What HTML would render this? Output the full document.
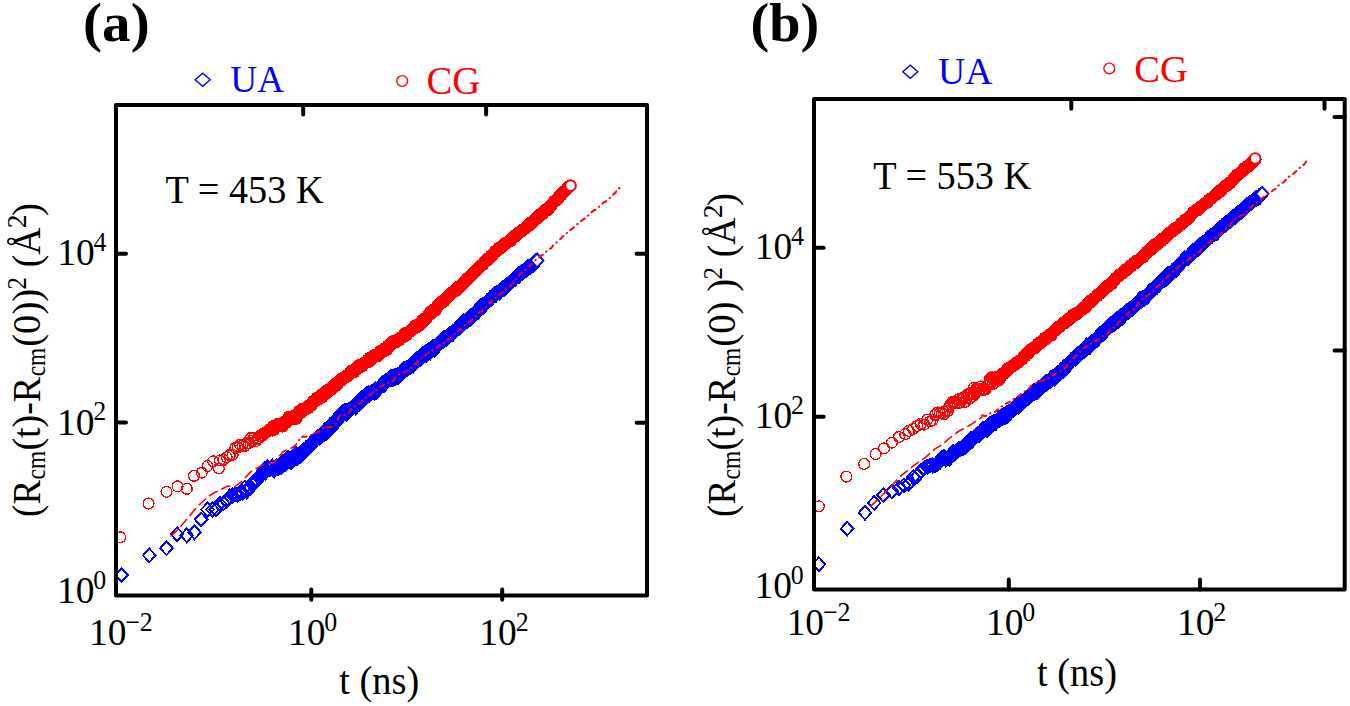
<!DOCTYPE html><html><head><meta charset="utf-8"><style>
html,body{margin:0;padding:0;background:#fff;}
svg{display:block;}
text{font-family:"Liberation Serif", serif;}
</style></head><body>
<svg width="1350" height="706" viewBox="0 0 1350 706">
<rect width="1350" height="706" fill="#fff"/>
<defs><clipPath id="ca"><rect x="116" y="105" width="531" height="490.5"/></clipPath><clipPath id="cb"><rect x="814" y="98.9" width="530.7" height="490.5"/></clipPath></defs>
<g clip-path="url(#ca)">
<path shape-rendering="crispEdges" d="M115.2 575.0L121.5 568.1L127.8 575.0L121.5 581.9ZM143.0 555.4L149.3 548.5L155.6 555.4L149.3 562.3ZM160.2 548.2L166.5 541.3L172.8 548.2L166.5 555.1ZM170.8 534.2L177.1 527.3L183.4 534.2L177.1 541.1ZM180.4 535.4L186.7 528.5L193.0 535.4L186.7 542.3ZM188.2 532.3L194.5 525.4L200.8 532.3L194.5 539.2ZM194.8 519.4L201.1 512.5L207.4 519.4L201.1 526.3ZM201.2 509.5L207.5 502.6L213.8 509.5L207.5 516.4ZM206.2 509.5L212.5 502.6L218.8 509.5L212.5 516.4ZM209.7 509.5L216.0 502.6L222.3 509.5L216.0 516.4ZM213.5 503.8L219.8 496.9L226.1 503.8L219.8 510.7ZM217.1 503.3L223.4 496.4L229.7 503.3L223.4 510.2ZM220.4 500.9L226.7 494.0L233.0 500.9L226.7 507.8ZM223.5 496.4L229.8 489.5L236.1 496.4L229.8 503.3ZM226.4 495.5L232.7 488.6L239.0 495.5L232.7 502.4ZM229.0 494.2L235.3 487.3L241.6 494.2L235.3 501.1ZM231.5 494.7L237.8 487.8L244.1 494.7L237.8 501.6ZM233.9 492.9L240.2 486.0L246.5 492.9L240.2 499.8ZM236.2 492.9L242.5 486.0L248.8 492.9L242.5 499.8ZM238.3 487.8L244.6 480.9L250.9 487.8L244.6 494.7ZM240.3 491.3L246.6 484.4L252.9 491.3L246.6 498.2ZM242.2 487.6L248.5 480.7L254.8 487.6L248.5 494.5ZM244.1 487.7L250.4 480.8L256.7 487.7L250.4 494.6ZM245.8 484.2L252.1 477.3L258.4 484.2L252.1 491.1ZM247.5 481.8L253.8 474.9L260.1 481.8L253.8 488.7ZM249.2 481.6L255.5 474.7L261.8 481.6L255.5 488.5ZM250.7 480.6L257.0 473.7L263.3 480.6L257.0 487.5ZM252.2 476.9L258.5 470.0L264.8 476.9L258.5 483.8ZM253.7 475.4L260.0 468.5L266.3 475.4L260.0 482.3ZM255.1 475.5L261.4 468.6L267.7 475.5L261.4 482.4ZM256.5 471.0L262.8 464.1L269.1 471.0L262.8 477.9ZM257.8 469.3L264.1 462.4L270.4 469.3L264.1 476.2ZM259.0 472.6L265.3 465.7L271.6 472.6L265.3 479.5ZM260.3 470.1L266.6 463.2L272.9 470.1L266.6 477.0ZM261.5 467.2L267.8 460.3L274.1 467.2L267.8 474.1ZM262.6 469.0L268.9 462.1L275.2 469.0L268.9 475.9ZM263.8 469.3L270.1 462.4L276.4 469.3L270.1 476.2ZM264.9 467.5L271.2 460.6L277.5 467.5L271.2 474.4ZM266.0 466.5L272.3 459.6L278.6 466.5L272.3 473.4ZM267.0 469.1L273.3 462.2L279.6 469.1L273.3 476.0ZM268.0 470.5L274.3 463.6L280.6 470.5L274.3 477.4ZM269.0 467.8L275.3 460.9L281.6 467.8L275.3 474.7ZM270.0 466.3L276.3 459.4L282.6 466.3L276.3 473.2ZM271.0 467.9L277.3 461.0L283.6 467.9L277.3 474.8ZM271.9 468.0L278.2 461.1L284.5 468.0L278.2 474.9ZM272.8 465.5L279.1 458.6L285.4 465.5L279.1 472.4ZM273.7 466.6L280.0 459.7L286.3 466.6L280.0 473.5ZM274.6 467.1L280.9 460.2L287.2 467.1L280.9 474.0ZM275.4 464.1L281.7 457.2L288.0 464.1L281.7 471.0ZM276.3 462.4L282.6 455.5L288.9 462.4L282.6 469.3ZM277.1 464.2L283.4 457.3L289.7 464.2L283.4 471.1ZM277.9 463.6L284.2 456.7L290.5 463.6L284.2 470.5ZM278.7 464.7L285.0 457.8L291.3 464.7L285.0 471.6ZM279.5 459.6L285.8 452.7L292.1 459.6L285.8 466.5ZM280.2 460.5L286.5 453.6L292.8 460.5L286.5 467.4ZM281.0 459.7L287.3 452.8L293.6 459.7L287.3 466.6ZM281.7 457.6L288.0 450.7L294.3 457.6L288.0 464.5Z" fill="none" stroke="#0000ff" stroke-width="1.9"/><path shape-rendering="crispEdges" d="M282.4 460.9L288.7 454.0L295.0 460.9L288.7 467.8ZM283.1 461.3L289.4 454.4L295.7 461.3L289.4 468.2ZM283.8 458.5L290.1 451.6L296.4 458.5L290.1 465.4ZM284.5 462.3L290.8 455.4L297.1 462.3L290.8 469.2ZM285.2 460.9L291.5 454.0L297.8 460.9L291.5 467.8ZM285.8 460.1L292.1 453.2L298.4 460.1L292.1 467.0ZM286.5 459.4L292.8 452.5L299.1 459.4L292.8 466.3ZM287.1 460.1L293.4 453.2L299.7 460.1L293.4 467.0ZM287.8 455.4L294.1 448.5L300.4 455.4L294.1 462.3ZM288.4 458.8L294.7 451.9L301.0 458.8L294.7 465.7ZM289.0 458.5L295.3 451.6L301.6 458.5L295.3 465.4ZM289.6 453.6L295.9 446.7L302.2 453.6L295.9 460.5ZM290.2 457.4L296.5 450.5L302.8 457.4L296.5 464.3ZM290.8 456.0L297.1 449.1L303.4 456.0L297.1 462.9ZM291.4 457.7L297.7 450.8L304.0 457.7L297.7 464.6ZM292.0 455.0L298.3 448.1L304.6 455.0L298.3 461.9ZM292.5 455.6L298.8 448.7L305.1 455.6L298.8 462.5ZM293.1 456.0L299.4 449.1L305.7 456.0L299.4 462.9ZM293.6 453.3L299.9 446.4L306.2 453.3L299.9 460.2ZM294.2 455.6L300.5 448.7L306.8 455.6L300.5 462.5ZM294.7 453.7L301.0 446.8L307.3 453.7L301.0 460.6ZM295.2 454.2L301.5 447.3L307.8 454.2L301.5 461.1ZM295.7 451.9L302.0 445.0L308.3 451.9L302.0 458.8ZM296.3 454.2L302.6 447.3L308.9 454.2L302.6 461.1ZM296.8 452.8L303.1 445.9L309.4 452.8L303.1 459.7ZM297.3 452.1L303.6 445.2L309.9 452.1L303.6 459.0ZM297.8 449.6L304.1 442.7L310.4 449.6L304.1 456.5ZM298.3 450.2L304.6 443.3L310.9 450.2L304.6 457.1ZM298.8 451.0L305.1 444.1L311.4 451.0L305.1 457.9ZM299.3 448.5L305.6 441.6L311.9 448.5L305.6 455.4ZM299.8 449.0L306.1 442.1L312.4 449.0L306.1 455.9ZM300.3 450.0L306.6 443.1L312.9 450.0L306.6 456.9ZM300.8 449.5L307.1 442.6L313.4 449.5L307.1 456.4ZM301.3 448.5L307.6 441.6L313.9 448.5L307.6 455.4ZM301.8 447.5L308.1 440.6L314.4 447.5L308.1 454.4ZM302.3 446.2L308.6 439.3L314.9 446.2L308.6 453.1ZM302.8 447.1L309.1 440.2L315.4 447.1L309.1 454.0ZM303.3 445.7L309.6 438.8L315.9 445.7L309.6 452.6ZM303.8 445.2L310.1 438.3L316.4 445.2L310.1 452.1ZM304.3 445.5L310.6 438.6L316.9 445.5L310.6 452.4ZM304.8 443.0L311.1 436.1L317.4 443.0L311.1 449.9ZM305.3 442.3L311.6 435.4L317.9 442.3L311.6 449.2ZM305.8 443.0L312.1 436.1L318.4 443.0L312.1 449.9ZM306.3 443.8L312.6 436.9L318.9 443.8L312.6 450.7ZM306.8 442.5L313.1 435.6L319.4 442.5L313.1 449.4ZM307.3 441.5L313.6 434.6L319.9 441.5L313.6 448.4ZM307.8 441.7L314.1 434.8L320.4 441.7L314.1 448.6ZM308.3 439.9L314.6 433.0L320.9 439.9L314.6 446.8ZM308.8 440.2L315.1 433.3L321.4 440.2L315.1 447.1ZM309.3 440.4L315.6 433.5L321.9 440.4L315.6 447.3ZM309.8 439.1L316.1 432.2L322.4 439.1L316.1 446.0ZM310.3 438.3L316.6 431.4L322.9 438.3L316.6 445.2ZM310.8 437.9L317.1 431.0L323.4 437.9L317.1 444.8ZM311.3 437.4L317.6 430.5L323.9 437.4L317.6 444.3ZM311.8 437.8L318.1 430.9L324.4 437.8L318.1 444.7ZM312.3 436.7L318.6 429.8L324.9 436.7L318.6 443.6ZM312.8 437.4L319.1 430.5L325.4 437.4L319.1 444.3ZM313.3 438.2L319.6 431.3L325.9 438.2L319.6 445.1ZM313.8 435.6L320.1 428.7L326.4 435.6L320.1 442.5ZM314.3 436.3L320.6 429.4L326.9 436.3L320.6 443.2ZM314.8 435.4L321.1 428.5L327.4 435.4L321.1 442.3ZM315.3 433.7L321.6 426.8L327.9 433.7L321.6 440.6ZM315.8 433.5L322.1 426.6L328.4 433.5L322.1 440.4ZM316.3 432.9L322.6 426.0L328.9 432.9L322.6 439.8ZM316.8 434.2L323.1 427.3L329.4 434.2L323.1 441.1ZM317.3 432.8L323.6 425.9L329.9 432.8L323.6 439.7ZM317.8 434.6L324.1 427.7L330.4 434.6L324.1 441.5ZM318.3 433.3L324.6 426.4L330.9 433.3L324.6 440.2ZM318.8 429.9L325.1 423.0L331.4 429.9L325.1 436.8ZM319.3 432.4L325.6 425.5L331.9 432.4L325.6 439.3ZM319.8 433.6L326.1 426.7L332.4 433.6L326.1 440.5ZM320.3 430.6L326.6 423.7L332.9 430.6L326.6 437.5ZM320.8 431.4L327.1 424.5L333.4 431.4L327.1 438.3ZM321.3 428.6L327.6 421.7L333.9 428.6L327.6 435.5ZM321.8 429.6L328.1 422.7L334.4 429.6L328.1 436.5ZM322.3 427.2L328.6 420.3L334.9 427.2L328.6 434.1ZM322.8 428.4L329.1 421.5L335.4 428.4L329.1 435.3ZM323.3 425.9L329.6 419.0L335.9 425.9L329.6 432.8ZM323.8 425.0L330.1 418.1L336.4 425.0L330.1 431.9ZM324.3 427.2L330.6 420.3L336.9 427.2L330.6 434.1ZM324.8 428.6L331.1 421.7L337.4 428.6L331.1 435.5ZM325.3 425.3L331.6 418.4L337.9 425.3L331.6 432.2ZM325.8 426.1L332.1 419.2L338.4 426.1L332.1 433.0ZM326.3 424.1L332.6 417.2L338.9 424.1L332.6 431.0ZM326.8 422.6L333.1 415.7L339.4 422.6L333.1 429.5ZM327.3 423.2L333.6 416.3L339.9 423.2L333.6 430.1ZM327.8 423.4L334.1 416.5L340.4 423.4L334.1 430.3ZM328.3 420.4L334.6 413.5L340.9 420.4L334.6 427.3ZM328.8 421.7L335.1 414.8L341.4 421.7L335.1 428.6ZM329.3 421.5L335.6 414.6L341.9 421.5L335.6 428.4ZM329.8 419.7L336.1 412.8L342.4 419.7L336.1 426.6ZM330.3 422.2L336.6 415.3L342.9 422.2L336.6 429.1ZM330.8 421.9L337.1 415.0L343.4 421.9L337.1 428.8ZM331.3 418.5L337.6 411.6L343.9 418.5L337.6 425.4ZM331.8 420.1L338.1 413.2L344.4 420.1L338.1 427.0ZM332.3 417.9L338.6 411.0L344.9 417.9L338.6 424.8ZM332.8 416.8L339.1 409.9L345.4 416.8L339.1 423.7ZM333.3 417.6L339.6 410.7L345.9 417.6L339.6 424.5ZM333.8 416.0L340.1 409.1L346.4 416.0L340.1 422.9ZM334.3 415.7L340.6 408.8L346.9 415.7L340.6 422.6ZM334.8 416.2L341.1 409.3L347.4 416.2L341.1 423.1ZM335.3 414.8L341.6 407.9L347.9 414.8L341.6 421.7ZM335.8 414.1L342.1 407.2L348.4 414.1L342.1 421.0ZM336.3 411.7L342.6 404.8L348.9 411.7L342.6 418.6ZM336.8 411.6L343.1 404.7L349.4 411.6L343.1 418.5ZM337.3 413.8L343.6 406.9L349.9 413.8L343.6 420.7ZM337.8 411.4L344.1 404.5L350.4 411.4L344.1 418.3ZM338.3 411.7L344.6 404.8L350.9 411.7L344.6 418.6ZM338.8 411.0L345.1 404.1L351.4 411.0L345.1 417.9ZM339.3 411.7L345.6 404.8L351.9 411.7L345.6 418.6ZM339.8 411.0L346.1 404.1L352.4 411.0L346.1 417.9ZM340.3 414.0L346.6 407.1L352.9 414.0L346.6 420.9ZM340.8 410.9L347.1 404.0L353.4 410.9L347.1 417.8ZM341.3 411.5L347.6 404.6L353.9 411.5L347.6 418.4ZM341.8 411.2L348.1 404.3L354.4 411.2L348.1 418.1ZM342.3 412.2L348.6 405.3L354.9 412.2L348.6 419.1ZM342.8 409.6L349.1 402.7L355.4 409.6L349.1 416.5ZM343.3 410.5L349.6 403.6L355.9 410.5L349.6 417.4ZM343.8 410.0L350.1 403.1L356.4 410.0L350.1 416.9ZM344.3 409.7L350.6 402.8L356.9 409.7L350.6 416.6ZM344.8 409.2L351.1 402.3L357.4 409.2L351.1 416.1ZM345.3 407.6L351.6 400.7L357.9 407.6L351.6 414.5ZM345.8 407.9L352.1 401.0L358.4 407.9L352.1 414.8ZM346.3 406.8L352.6 399.9L358.9 406.8L352.6 413.7ZM346.8 407.4L353.1 400.5L359.4 407.4L353.1 414.3ZM347.3 406.8L353.6 399.9L359.9 406.8L353.6 413.7ZM347.8 406.0L354.1 399.1L360.4 406.0L354.1 412.9ZM348.3 406.3L354.6 399.4L360.9 406.3L354.6 413.2ZM348.8 406.3L355.1 399.4L361.4 406.3L355.1 413.2ZM349.3 407.5L355.6 400.6L361.9 407.5L355.6 414.4ZM349.9 404.5L356.2 397.6L362.5 404.5L356.2 411.4ZM350.4 404.7L356.7 397.8L363.0 404.7L356.7 411.6ZM350.9 405.5L357.2 398.6L363.5 405.5L357.2 412.4ZM351.4 401.9L357.7 395.0L364.0 401.9L357.7 408.8ZM351.9 402.0L358.2 395.1L364.5 402.0L358.2 408.9ZM352.4 401.6L358.7 394.7L365.0 401.6L358.7 408.5ZM352.9 402.6L359.2 395.7L365.5 402.6L359.2 409.5ZM353.4 404.2L359.7 397.3L366.0 404.2L359.7 411.1ZM353.9 401.7L360.2 394.8L366.5 401.7L360.2 408.6ZM354.4 402.0L360.7 395.1L367.0 402.0L360.7 408.9ZM354.9 400.1L361.2 393.2L367.5 400.1L361.2 407.0ZM355.4 397.8L361.7 390.9L368.0 397.8L361.7 404.7ZM355.9 397.4L362.2 390.5L368.5 397.4L362.2 404.3ZM356.4 399.6L362.7 392.7L369.0 399.6L362.7 406.5ZM356.9 398.2L363.2 391.3L369.5 398.2L363.2 405.1ZM357.4 397.1L363.7 390.2L370.0 397.1L363.7 404.0ZM357.9 398.9L364.2 392.0L370.5 398.9L364.2 405.8ZM358.4 395.7L364.7 388.8L371.0 395.7L364.7 402.6ZM358.9 397.8L365.2 390.9L371.5 397.8L365.2 404.7ZM359.4 397.2L365.7 390.3L372.0 397.2L365.7 404.1ZM359.9 395.6L366.2 388.7L372.5 395.6L366.2 402.5ZM360.4 394.3L366.7 387.4L373.0 394.3L366.7 401.2ZM360.9 396.0L367.2 389.1L373.5 396.0L367.2 402.9ZM361.4 394.1L367.7 387.2L374.0 394.1L367.7 401.0ZM361.9 395.0L368.2 388.1L374.5 395.0L368.2 401.9ZM362.4 392.9L368.7 386.0L375.0 392.9L368.7 399.8ZM362.9 394.8L369.2 387.9L375.5 394.8L369.2 401.7ZM363.4 394.0L369.7 387.1L376.0 394.0L369.7 400.9ZM363.9 393.3L370.2 386.4L376.5 393.3L370.2 400.2ZM364.4 392.9L370.7 386.0L377.0 392.9L370.7 399.8ZM364.9 393.6L371.2 386.7L377.5 393.6L371.2 400.5ZM365.4 391.5L371.7 384.6L378.0 391.5L371.7 398.4ZM365.9 392.5L372.2 385.6L378.5 392.5L372.2 399.4ZM366.4 392.3L372.7 385.4L379.0 392.3L372.7 399.2ZM366.9 392.5L373.2 385.6L379.5 392.5L373.2 399.4ZM367.4 390.8L373.7 383.9L380.0 390.8L373.7 397.7ZM367.9 392.9L374.2 386.0L380.5 392.9L374.2 399.8ZM368.4 390.3L374.7 383.4L381.0 390.3L374.7 397.2ZM368.9 389.3L375.2 382.4L381.5 389.3L375.2 396.2ZM369.4 391.9L375.7 385.0L382.0 391.9L375.7 398.8ZM369.9 392.1L376.2 385.2L382.5 392.1L376.2 399.0ZM370.4 389.9L376.7 383.0L383.0 389.9L376.7 396.8ZM370.9 389.2L377.2 382.3L383.5 389.2L377.2 396.1ZM371.4 389.4L377.7 382.5L384.0 389.4L377.7 396.3ZM371.9 388.4L378.2 381.5L384.5 388.4L378.2 395.3ZM372.4 388.4L378.7 381.5L385.0 388.4L378.7 395.3ZM372.9 388.8L379.2 381.9L385.5 388.8L379.2 395.7ZM373.4 387.5L379.7 380.6L386.0 387.5L379.7 394.4ZM373.9 386.5L380.2 379.6L386.5 386.5L380.2 393.4ZM374.4 386.1L380.7 379.2L387.0 386.1L380.7 393.0ZM374.9 384.8L381.2 377.9L387.5 384.8L381.2 391.7ZM375.4 384.7L381.7 377.8L388.0 384.7L381.7 391.6ZM375.9 384.1L382.2 377.2L388.5 384.1L382.2 391.0ZM376.4 383.0L382.7 376.1L389.0 383.0L382.7 389.9ZM376.9 383.8L383.2 376.9L389.5 383.8L383.2 390.7ZM377.4 385.5L383.7 378.6L390.0 385.5L383.7 392.4ZM377.9 383.8L384.2 376.9L390.5 383.8L384.2 390.7ZM378.4 382.8L384.7 375.9L391.0 382.8L384.7 389.7ZM378.9 383.7L385.2 376.8L391.5 383.7L385.2 390.6ZM379.4 381.6L385.7 374.7L392.0 381.6L385.7 388.5ZM379.9 380.5L386.2 373.6L392.5 380.5L386.2 387.4ZM380.4 381.6L386.7 374.7L393.0 381.6L386.7 388.5ZM380.9 380.0L387.2 373.1L393.5 380.0L387.2 386.9ZM381.4 380.2L387.7 373.3L394.0 380.2L387.7 387.1ZM381.9 380.3L388.2 373.4L394.5 380.3L388.2 387.2ZM382.4 379.0L388.7 372.1L395.0 379.0L388.7 385.9ZM382.9 378.0L389.2 371.1L395.5 378.0L389.2 384.9ZM383.4 377.8L389.7 370.9L396.0 377.8L389.7 384.7ZM383.9 377.3L390.2 370.4L396.5 377.3L390.2 384.2ZM384.4 379.0L390.7 372.1L397.0 379.0L390.7 385.9ZM384.9 377.6L391.2 370.7L397.5 377.6L391.2 384.5ZM385.4 377.2L391.7 370.3L398.0 377.2L391.7 384.1ZM385.9 379.5L392.2 372.6L398.5 379.5L392.2 386.4ZM386.4 377.2L392.7 370.3L399.0 377.2L392.7 384.1ZM386.9 378.9L393.2 372.0L399.5 378.9L393.2 385.8ZM387.4 378.8L393.7 371.9L400.0 378.8L393.7 385.7ZM387.9 376.9L394.2 370.0L400.5 376.9L394.2 383.8ZM388.4 375.7L394.7 368.8L401.0 375.7L394.7 382.6ZM388.9 377.8L395.2 370.9L401.5 377.8L395.2 384.7ZM389.4 377.9L395.7 371.0L402.0 377.9L395.7 384.8ZM389.9 377.5L396.2 370.6L402.5 377.5L396.2 384.4ZM390.4 376.5L396.7 369.6L403.0 376.5L396.7 383.4ZM390.9 377.6L397.2 370.7L403.5 377.6L397.2 384.5ZM391.4 377.5L397.7 370.6L404.0 377.5L397.7 384.4ZM391.9 374.7L398.2 367.8L404.5 374.7L398.2 381.6ZM392.4 377.1L398.7 370.2L405.0 377.1L398.7 384.0ZM392.9 375.0L399.2 368.1L405.5 375.0L399.2 381.9ZM393.4 374.1L399.7 367.2L406.0 374.1L399.7 381.0ZM393.9 373.9L400.2 367.0L406.5 373.9L400.2 380.8ZM394.4 375.0L400.7 368.1L407.0 375.0L400.7 381.9ZM394.9 374.3L401.2 367.4L407.5 374.3L401.2 381.2ZM395.4 371.5L401.7 364.6L408.0 371.5L401.7 378.4ZM395.9 372.4L402.2 365.5L408.5 372.4L402.2 379.3ZM396.4 372.0L402.7 365.1L409.0 372.0L402.7 378.9ZM396.9 371.4L403.2 364.5L409.5 371.4L403.2 378.3ZM397.4 370.0L403.7 363.1L410.0 370.0L403.7 376.9ZM397.9 368.5L404.2 361.6L410.5 368.5L404.2 375.4ZM398.4 370.3L404.7 363.4L411.0 370.3L404.7 377.2ZM398.9 368.6L405.2 361.7L411.5 368.6L405.2 375.5ZM399.4 368.8L405.7 361.9L412.0 368.8L405.7 375.7ZM399.9 368.2L406.2 361.3L412.5 368.2L406.2 375.1ZM400.4 367.9L406.7 361.0L413.0 367.9L406.7 374.8ZM400.9 368.7L407.2 361.8L413.5 368.7L407.2 375.6ZM401.4 368.5L407.7 361.6L414.0 368.5L407.7 375.4ZM401.9 367.2L408.2 360.3L414.5 367.2L408.2 374.1ZM402.4 366.7L408.7 359.8L415.0 366.7L408.7 373.6ZM402.9 366.9L409.2 360.0L415.5 366.9L409.2 373.8ZM403.4 367.4L409.7 360.5L416.0 367.4L409.7 374.3ZM403.9 366.0L410.2 359.1L416.5 366.0L410.2 372.9ZM404.4 366.3L410.7 359.4L417.0 366.3L410.7 373.2ZM404.9 365.5L411.2 358.6L417.5 365.5L411.2 372.4ZM405.4 365.1L411.7 358.2L418.0 365.1L411.7 372.0ZM405.9 365.3L412.2 358.4L418.5 365.3L412.2 372.2ZM406.4 362.8L412.7 355.9L419.0 362.8L412.7 369.7ZM406.9 365.7L413.2 358.8L419.5 365.7L413.2 372.6ZM407.4 362.9L413.7 356.0L420.0 362.9L413.7 369.8ZM407.9 362.8L414.2 355.9L420.5 362.8L414.2 369.7ZM408.4 363.5L414.7 356.6L421.0 363.5L414.7 370.4ZM408.9 362.6L415.2 355.7L421.5 362.6L415.2 369.5ZM409.4 361.9L415.7 355.0L422.0 361.9L415.7 368.8ZM409.9 360.3L416.2 353.4L422.5 360.3L416.2 367.2ZM410.4 359.0L416.7 352.1L423.0 359.0L416.7 365.9ZM410.9 360.1L417.2 353.2L423.5 360.1L417.2 367.0ZM411.4 360.7L417.7 353.8L424.0 360.7L417.7 367.6ZM411.9 358.0L418.2 351.1L424.5 358.0L418.2 364.9ZM412.4 359.8L418.7 352.9L425.0 359.8L418.7 366.7ZM412.9 358.6L419.2 351.7L425.5 358.6L419.2 365.5ZM413.4 358.0L419.7 351.1L426.0 358.0L419.7 364.9ZM413.9 358.9L420.2 352.0L426.5 358.9L420.2 365.8ZM414.4 357.9L420.7 351.0L427.0 357.9L420.7 364.8ZM414.9 358.2L421.2 351.3L427.5 358.2L421.2 365.1ZM415.4 355.8L421.7 348.9L428.0 355.8L421.7 362.7ZM415.9 354.7L422.2 347.8L428.5 354.7L422.2 361.6ZM416.4 353.7L422.7 346.8L429.0 353.7L422.7 360.6ZM416.9 353.9L423.2 347.0L429.5 353.9L423.2 360.8ZM417.4 354.3L423.7 347.4L430.0 354.3L423.7 361.2ZM417.9 353.3L424.2 346.4L430.5 353.3L424.2 360.2ZM418.4 354.5L424.7 347.6L431.0 354.5L424.7 361.4ZM418.9 354.3L425.2 347.4L431.5 354.3L425.2 361.2ZM419.4 352.4L425.7 345.5L432.0 352.4L425.7 359.3ZM419.9 355.6L426.2 348.7L432.5 355.6L426.2 362.5ZM420.5 352.2L426.8 345.3L433.1 352.2L426.8 359.1ZM421.0 351.4L427.3 344.5L433.6 351.4L427.3 358.3ZM421.5 353.5L427.8 346.6L434.1 353.5L427.8 360.4ZM422.0 353.1L428.3 346.2L434.6 353.1L428.3 360.0ZM422.5 350.3L428.8 343.4L435.1 350.3L428.8 357.2ZM423.0 349.6L429.3 342.7L435.6 349.6L429.3 356.5ZM423.5 350.6L429.8 343.7L436.1 350.6L429.8 357.5ZM424.0 352.6L430.3 345.7L436.6 352.6L430.3 359.5ZM424.5 349.7L430.8 342.8L437.1 349.7L430.8 356.6ZM425.0 348.8L431.3 341.9L437.6 348.8L431.3 355.7ZM425.5 348.7L431.8 341.8L438.1 348.7L431.8 355.6ZM426.0 349.6L432.3 342.7L438.6 349.6L432.3 356.5ZM426.5 346.8L432.8 339.9L439.1 346.8L432.8 353.7ZM427.0 348.0L433.3 341.1L439.6 348.0L433.3 354.9ZM427.5 347.0L433.8 340.1L440.1 347.0L433.8 353.9ZM428.0 350.1L434.3 343.2L440.6 350.1L434.3 357.0ZM428.5 349.3L434.8 342.4L441.1 349.3L434.8 356.2ZM429.0 348.1L435.3 341.2L441.6 348.1L435.3 355.0ZM429.5 346.8L435.8 339.9L442.1 346.8L435.8 353.7ZM430.0 347.5L436.3 340.6L442.6 347.5L436.3 354.4ZM430.5 344.7L436.8 337.8L443.1 344.7L436.8 351.6ZM431.0 346.2L437.3 339.3L443.6 346.2L437.3 353.1ZM431.5 344.8L437.8 337.9L444.1 344.8L437.8 351.7ZM432.0 344.4L438.3 337.5L444.6 344.4L438.3 351.3ZM432.5 344.4L438.8 337.5L445.1 344.4L438.8 351.3ZM433.0 343.9L439.3 337.0L445.6 343.9L439.3 350.8ZM433.5 344.1L439.8 337.2L446.1 344.1L439.8 351.0ZM434.0 343.5L440.3 336.6L446.6 343.5L440.3 350.4ZM434.5 341.5L440.8 334.6L447.1 341.5L440.8 348.4ZM435.0 340.4L441.3 333.5L447.6 340.4L441.3 347.3ZM435.5 341.6L441.8 334.7L448.1 341.6L441.8 348.5ZM436.0 340.4L442.3 333.5L448.6 340.4L442.3 347.3ZM436.5 341.5L442.8 334.6L449.1 341.5L442.8 348.4ZM437.0 339.3L443.3 332.4L449.6 339.3L443.3 346.2ZM437.5 337.4L443.8 330.5L450.1 337.4L443.8 344.3ZM438.0 338.0L444.3 331.1L450.6 338.0L444.3 344.9ZM438.5 339.9L444.8 333.0L451.1 339.9L444.8 346.8ZM439.0 338.1L445.3 331.2L451.6 338.1L445.3 345.0ZM439.5 337.7L445.8 330.8L452.1 337.7L445.8 344.6ZM440.0 338.9L446.3 332.0L452.6 338.9L446.3 345.8ZM440.5 338.7L446.8 331.8L453.1 338.7L446.8 345.6ZM441.0 337.7L447.3 330.8L453.6 337.7L447.3 344.6ZM441.5 335.5L447.8 328.6L454.1 335.5L447.8 342.4ZM442.0 335.8L448.3 328.9L454.6 335.8L448.3 342.7ZM442.5 335.5L448.8 328.6L455.1 335.5L448.8 342.4ZM443.0 334.6L449.3 327.7L455.6 334.6L449.3 341.5ZM443.5 333.7L449.8 326.8L456.1 333.7L449.8 340.6ZM444.0 334.5L450.3 327.6L456.6 334.5L450.3 341.4ZM444.5 334.2L450.8 327.3L457.1 334.2L450.8 341.1ZM445.0 333.6L451.3 326.7L457.6 333.6L451.3 340.5ZM445.5 332.9L451.8 326.0L458.1 332.9L451.8 339.8ZM446.0 332.6L452.3 325.7L458.6 332.6L452.3 339.5ZM446.5 334.2L452.8 327.3L459.1 334.2L452.8 341.1ZM447.0 331.6L453.3 324.7L459.6 331.6L453.3 338.5ZM447.5 332.0L453.8 325.1L460.1 332.0L453.8 338.9ZM448.0 332.4L454.3 325.5L460.6 332.4L454.3 339.3ZM448.5 330.5L454.8 323.6L461.1 330.5L454.8 337.4ZM449.0 330.4L455.3 323.5L461.6 330.4L455.3 337.3ZM449.5 330.5L455.8 323.6L462.1 330.5L455.8 337.4ZM450.0 330.4L456.3 323.5L462.6 330.4L456.3 337.3ZM450.5 329.3L456.8 322.4L463.1 329.3L456.8 336.2ZM451.0 328.9L457.3 322.0L463.6 328.9L457.3 335.8ZM451.5 328.6L457.8 321.7L464.1 328.6L457.8 335.5ZM452.0 327.1L458.3 320.2L464.6 327.1L458.3 334.0ZM452.5 328.5L458.8 321.6L465.1 328.5L458.8 335.4ZM453.0 326.5L459.3 319.6L465.6 326.5L459.3 333.4ZM453.5 324.8L459.8 317.9L466.1 324.8L459.8 331.7ZM454.0 325.8L460.3 318.9L466.6 325.8L460.3 332.7ZM454.5 324.2L460.8 317.3L467.1 324.2L460.8 331.1ZM455.0 323.9L461.3 317.0L467.6 323.9L461.3 330.8ZM455.5 324.1L461.8 317.2L468.1 324.1L461.8 331.0ZM456.0 322.8L462.3 315.9L468.6 322.8L462.3 329.7ZM456.5 324.8L462.8 317.9L469.1 324.8L462.8 331.7ZM457.0 321.1L463.3 314.2L469.6 321.1L463.3 328.0ZM457.5 322.4L463.8 315.5L470.1 322.4L463.8 329.3ZM458.0 322.0L464.3 315.1L470.6 322.0L464.3 328.9ZM458.5 322.6L464.8 315.7L471.1 322.6L464.8 329.5ZM459.0 321.5L465.3 314.6L471.6 321.5L465.3 328.4ZM459.5 320.6L465.8 313.7L472.1 320.6L465.8 327.5ZM460.0 320.6L466.3 313.7L472.6 320.6L466.3 327.5ZM460.5 320.1L466.8 313.2L473.1 320.1L466.8 327.0ZM461.0 320.9L467.3 314.0L473.6 320.9L467.3 327.8ZM461.5 319.0L467.8 312.1L474.1 319.0L467.8 325.9ZM462.0 319.3L468.3 312.4L474.6 319.3L468.3 326.2ZM462.5 318.5L468.8 311.6L475.1 318.5L468.8 325.4ZM463.0 318.3L469.3 311.4L475.6 318.3L469.3 325.2ZM463.5 317.1L469.8 310.2L476.1 317.1L469.8 324.0ZM464.0 318.8L470.3 311.9L476.6 318.8L470.3 325.7ZM464.5 315.7L470.8 308.8L477.1 315.7L470.8 322.6ZM465.0 316.4L471.3 309.5L477.6 316.4L471.3 323.3ZM465.5 315.9L471.8 309.0L478.1 315.9L471.8 322.8ZM466.0 315.6L472.3 308.7L478.6 315.6L472.3 322.5ZM466.5 315.6L472.8 308.7L479.1 315.6L472.8 322.5ZM467.0 315.5L473.3 308.6L479.6 315.5L473.3 322.4ZM467.5 316.0L473.8 309.1L480.1 316.0L473.8 322.9ZM468.0 313.5L474.3 306.6L480.6 313.5L474.3 320.4ZM468.5 314.3L474.8 307.4L481.1 314.3L474.8 321.2ZM469.0 312.6L475.3 305.7L481.6 312.6L475.3 319.5ZM469.5 313.3L475.8 306.4L482.1 313.3L475.8 320.2ZM470.0 311.9L476.3 305.0L482.6 311.9L476.3 318.8ZM470.5 311.7L476.8 304.8L483.1 311.7L476.8 318.6ZM471.0 311.5L477.3 304.6L483.6 311.5L477.3 318.4ZM471.5 312.3L477.8 305.4L484.1 312.3L477.8 319.2ZM472.0 310.6L478.3 303.7L484.6 310.6L478.3 317.5ZM472.5 309.9L478.8 303.0L485.1 309.9L478.8 316.8ZM473.0 310.0L479.3 303.1L485.6 310.0L479.3 316.9ZM473.5 307.0L479.8 300.1L486.1 307.0L479.8 313.9ZM474.0 306.3L480.3 299.4L486.6 306.3L480.3 313.2ZM474.5 306.9L480.8 300.0L487.1 306.9L480.8 313.8ZM475.0 306.2L481.3 299.3L487.6 306.2L481.3 313.1ZM475.5 306.9L481.8 300.0L488.1 306.9L481.8 313.8ZM476.0 307.5L482.3 300.6L488.6 307.5L482.3 314.4ZM476.5 304.7L482.8 297.8L489.1 304.7L482.8 311.6ZM477.0 306.9L483.3 300.0L489.6 306.9L483.3 313.8ZM477.5 305.8L483.8 298.9L490.1 305.8L483.8 312.7ZM478.0 304.8L484.3 297.9L490.6 304.8L484.3 311.7ZM478.5 304.1L484.8 297.2L491.1 304.1L484.8 311.0ZM479.0 304.6L485.3 297.7L491.6 304.6L485.3 311.5ZM479.5 303.1L485.8 296.2L492.1 303.1L485.8 310.0ZM480.0 302.4L486.3 295.5L492.6 302.4L486.3 309.3ZM480.5 302.2L486.8 295.3L493.1 302.2L486.8 309.1ZM481.0 300.8L487.3 293.9L493.6 300.8L487.3 307.7ZM481.5 301.2L487.8 294.3L494.1 301.2L487.8 308.1ZM482.0 300.4L488.3 293.5L494.6 300.4L488.3 307.3ZM482.5 300.4L488.8 293.5L495.1 300.4L488.8 307.3ZM483.0 299.7L489.3 292.8L495.6 299.7L489.3 306.6ZM483.5 298.3L489.8 291.4L496.1 298.3L489.8 305.2ZM484.0 299.4L490.3 292.5L496.6 299.4L490.3 306.3ZM484.5 297.8L490.8 290.9L497.1 297.8L490.8 304.7ZM485.0 298.8L491.3 291.9L497.6 298.8L491.3 305.7ZM485.5 296.8L491.8 289.9L498.1 296.8L491.8 303.7ZM486.0 297.4L492.3 290.5L498.6 297.4L492.3 304.3ZM486.5 296.4L492.8 289.5L499.1 296.4L492.8 303.3ZM487.0 296.4L493.3 289.5L499.6 296.4L493.3 303.3ZM487.5 295.5L493.8 288.6L500.1 295.5L493.8 302.4ZM488.0 294.4L494.3 287.5L500.6 294.4L494.3 301.3ZM488.5 295.0L494.8 288.1L501.1 295.0L494.8 301.9ZM489.0 295.4L495.3 288.5L501.6 295.4L495.3 302.3ZM489.5 295.2L495.8 288.3L502.1 295.2L495.8 302.1ZM490.0 293.7L496.3 286.8L502.6 293.7L496.3 300.6ZM490.5 292.4L496.8 285.5L503.1 292.4L496.8 299.3ZM491.1 292.8L497.4 285.9L503.7 292.8L497.4 299.7ZM491.6 292.5L497.9 285.6L504.2 292.5L497.9 299.4ZM492.1 292.4L498.4 285.5L504.7 292.4L498.4 299.3ZM492.6 292.0L498.9 285.1L505.2 292.0L498.9 298.9ZM493.1 292.6L499.4 285.7L505.7 292.6L499.4 299.5ZM493.6 292.2L499.9 285.3L506.2 292.2L499.9 299.1ZM494.1 291.1L500.4 284.2L506.7 291.1L500.4 298.0ZM494.6 289.8L500.9 282.9L507.2 289.8L500.9 296.7ZM495.1 290.3L501.4 283.4L507.7 290.3L501.4 297.2ZM495.6 289.6L501.9 282.7L508.2 289.6L501.9 296.5ZM496.1 288.5L502.4 281.6L508.7 288.5L502.4 295.4ZM496.6 289.7L502.9 282.8L509.2 289.7L502.9 296.6ZM497.1 288.4L503.4 281.5L509.7 288.4L503.4 295.3ZM497.6 287.8L503.9 280.9L510.2 287.8L503.9 294.7ZM498.1 288.8L504.4 281.9L510.7 288.8L504.4 295.7ZM498.6 288.0L504.9 281.1L511.2 288.0L504.9 294.9ZM499.1 287.6L505.4 280.7L511.7 287.6L505.4 294.5ZM499.6 287.6L505.9 280.7L512.2 287.6L505.9 294.5ZM500.1 286.5L506.4 279.6L512.7 286.5L506.4 293.4ZM500.6 284.9L506.9 278.0L513.2 284.9L506.9 291.8ZM501.1 285.2L507.4 278.3L513.7 285.2L507.4 292.1ZM501.6 285.3L507.9 278.4L514.2 285.3L507.9 292.2ZM502.1 284.0L508.4 277.1L514.7 284.0L508.4 290.9ZM502.6 284.0L508.9 277.1L515.2 284.0L508.9 290.9ZM503.1 283.3L509.4 276.4L515.7 283.3L509.4 290.2ZM503.6 283.5L509.9 276.6L516.2 283.5L509.9 290.4ZM504.1 282.8L510.4 275.9L516.7 282.8L510.4 289.7ZM504.6 282.2L510.9 275.3L517.2 282.2L510.9 289.1ZM505.1 280.9L511.4 274.0L517.7 280.9L511.4 287.8ZM505.6 281.4L511.9 274.5L518.2 281.4L511.9 288.3ZM506.1 280.6L512.4 273.7L518.7 280.6L512.4 287.5ZM506.6 279.8L512.9 272.9L519.2 279.8L512.9 286.7ZM507.1 280.2L513.4 273.3L519.7 280.2L513.4 287.1ZM507.6 279.2L513.9 272.3L520.2 279.2L513.9 286.1ZM508.1 278.3L514.4 271.4L520.7 278.3L514.4 285.2ZM508.6 279.2L514.9 272.3L521.2 279.2L514.9 286.1ZM509.1 277.8L515.4 270.9L521.7 277.8L515.4 284.7ZM509.6 277.7L515.9 270.8L522.2 277.7L515.9 284.6ZM510.1 276.2L516.4 269.3L522.7 276.2L516.4 283.1ZM510.6 276.9L516.9 270.0L523.2 276.9L516.9 283.8ZM511.1 275.9L517.4 269.0L523.7 275.9L517.4 282.8ZM511.6 275.6L517.9 268.7L524.2 275.6L517.9 282.5ZM512.1 274.4L518.4 267.5L524.7 274.4L518.4 281.3ZM512.6 276.2L518.9 269.3L525.2 276.2L518.9 283.1ZM513.1 274.3L519.4 267.4L525.7 274.3L519.4 281.2ZM513.6 274.3L519.9 267.4L526.2 274.3L519.9 281.2ZM514.1 274.5L520.4 267.6L526.7 274.5L520.4 281.4ZM514.6 273.2L520.9 266.3L527.2 273.2L520.9 280.1ZM515.1 273.4L521.4 266.5L527.7 273.4L521.4 280.3ZM515.6 272.1L521.9 265.2L528.2 272.1L521.9 279.0ZM516.1 272.7L522.4 265.8L528.7 272.7L522.4 279.6ZM516.6 272.2L522.9 265.3L529.2 272.2L522.9 279.1ZM517.1 272.3L523.4 265.4L529.7 272.3L523.4 279.2ZM517.6 271.7L523.9 264.8L530.2 271.7L523.9 278.6ZM518.1 270.4L524.4 263.5L530.7 270.4L524.4 277.3ZM518.6 269.8L524.9 262.9L531.2 269.8L524.9 276.7ZM519.1 270.1L525.4 263.2L531.7 270.1L525.4 277.0ZM519.6 270.4L525.9 263.5L532.2 270.4L525.9 277.3ZM520.1 270.2L526.4 263.3L532.7 270.2L526.4 277.1ZM520.6 269.6L526.9 262.7L533.2 269.6L526.9 276.5ZM521.1 267.7L527.4 260.8L533.7 267.7L527.4 274.6ZM521.6 266.6L527.9 259.7L534.2 266.6L527.9 273.5ZM522.1 267.6L528.4 260.7L534.7 267.6L528.4 274.5ZM522.6 267.6L528.9 260.7L535.2 267.6L528.9 274.5ZM523.1 267.2L529.4 260.3L535.7 267.2L529.4 274.1ZM523.6 267.6L529.9 260.7L536.2 267.6L529.9 274.5ZM524.1 266.5L530.4 259.6L536.7 266.5L530.4 273.4ZM524.6 265.3L530.9 258.4L537.2 265.3L530.9 272.2ZM525.1 264.9L531.4 258.0L537.7 264.9L531.4 271.8ZM525.6 264.9L531.9 258.0L538.2 264.9L531.9 271.8ZM526.1 264.7L532.4 257.8L538.7 264.7L532.4 271.6ZM526.6 264.2L532.9 257.3L539.2 264.2L532.9 271.1ZM527.1 265.1L533.4 258.2L539.7 265.1L533.4 272.0ZM527.6 263.2L533.9 256.3L540.2 263.2L533.9 270.1ZM528.1 262.8L534.4 255.9L540.7 262.8L534.4 269.7ZM528.6 261.5L534.9 254.6L541.2 261.5L534.9 268.4ZM529.1 261.3L535.4 254.4L541.7 261.3L535.4 268.2ZM529.6 261.4L535.9 254.5L542.2 261.4L535.9 268.3ZM530.1 261.1L536.4 254.2L542.7 261.1L536.4 268.0Z" fill="#0000ff" stroke="#0000ff" stroke-width="1.7"/><path d="M530.8 260.4L537.1 253.5L543.4 260.4L537.1 267.3Z" fill="#fff" stroke="#0000ff" stroke-width="1.9"/><path shape-rendering="crispEdges" d="M114.8 537.3a5.4 5.4 0 1 0 10.8 0a5.4 5.4 0 1 0 -10.8 0ZM143.2 503.5a5.4 5.4 0 1 0 10.8 0a5.4 5.4 0 1 0 -10.8 0ZM161.1 491.8a5.4 5.4 0 1 0 10.8 0a5.4 5.4 0 1 0 -10.8 0ZM172.2 486.3a5.4 5.4 0 1 0 10.8 0a5.4 5.4 0 1 0 -10.8 0ZM181.4 488.8a5.4 5.4 0 1 0 10.8 0a5.4 5.4 0 1 0 -10.8 0ZM188.6 475.8a5.4 5.4 0 1 0 10.8 0a5.4 5.4 0 1 0 -10.8 0ZM196.4 472.7a5.4 5.4 0 1 0 10.8 0a5.4 5.4 0 1 0 -10.8 0ZM202.1 466.0a5.4 5.4 0 1 0 10.8 0a5.4 5.4 0 1 0 -10.8 0ZM207.8 461.3a5.4 5.4 0 1 0 10.8 0a5.4 5.4 0 1 0 -10.8 0ZM213.4 468.4a5.4 5.4 0 1 0 10.8 0a5.4 5.4 0 1 0 -10.8 0ZM214.4 460.5a5.4 5.4 0 1 0 10.8 0a5.4 5.4 0 1 0 -10.8 0ZM218.0 459.9a5.4 5.4 0 1 0 10.8 0a5.4 5.4 0 1 0 -10.8 0ZM221.3 457.2a5.4 5.4 0 1 0 10.8 0a5.4 5.4 0 1 0 -10.8 0ZM224.4 455.1a5.4 5.4 0 1 0 10.8 0a5.4 5.4 0 1 0 -10.8 0ZM227.3 454.8a5.4 5.4 0 1 0 10.8 0a5.4 5.4 0 1 0 -10.8 0ZM229.9 447.9a5.4 5.4 0 1 0 10.8 0a5.4 5.4 0 1 0 -10.8 0ZM232.4 447.3a5.4 5.4 0 1 0 10.8 0a5.4 5.4 0 1 0 -10.8 0ZM234.8 444.8a5.4 5.4 0 1 0 10.8 0a5.4 5.4 0 1 0 -10.8 0ZM237.1 445.5a5.4 5.4 0 1 0 10.8 0a5.4 5.4 0 1 0 -10.8 0ZM239.2 446.1a5.4 5.4 0 1 0 10.8 0a5.4 5.4 0 1 0 -10.8 0ZM241.2 443.3a5.4 5.4 0 1 0 10.8 0a5.4 5.4 0 1 0 -10.8 0ZM243.1 443.1a5.4 5.4 0 1 0 10.8 0a5.4 5.4 0 1 0 -10.8 0ZM245.0 438.2a5.4 5.4 0 1 0 10.8 0a5.4 5.4 0 1 0 -10.8 0ZM246.7 440.6a5.4 5.4 0 1 0 10.8 0a5.4 5.4 0 1 0 -10.8 0ZM248.4 437.9a5.4 5.4 0 1 0 10.8 0a5.4 5.4 0 1 0 -10.8 0ZM250.1 441.3a5.4 5.4 0 1 0 10.8 0a5.4 5.4 0 1 0 -10.8 0ZM251.6 439.1a5.4 5.4 0 1 0 10.8 0a5.4 5.4 0 1 0 -10.8 0ZM253.1 438.3a5.4 5.4 0 1 0 10.8 0a5.4 5.4 0 1 0 -10.8 0ZM254.6 435.9a5.4 5.4 0 1 0 10.8 0a5.4 5.4 0 1 0 -10.8 0ZM256.0 436.2a5.4 5.4 0 1 0 10.8 0a5.4 5.4 0 1 0 -10.8 0ZM257.4 435.5a5.4 5.4 0 1 0 10.8 0a5.4 5.4 0 1 0 -10.8 0ZM258.7 433.2a5.4 5.4 0 1 0 10.8 0a5.4 5.4 0 1 0 -10.8 0ZM259.9 432.3a5.4 5.4 0 1 0 10.8 0a5.4 5.4 0 1 0 -10.8 0ZM261.2 432.2a5.4 5.4 0 1 0 10.8 0a5.4 5.4 0 1 0 -10.8 0ZM262.4 430.8a5.4 5.4 0 1 0 10.8 0a5.4 5.4 0 1 0 -10.8 0Z" fill="none" stroke="#ff0000" stroke-width="1.3"/><path shape-rendering="crispEdges" d="M263.6 430.1a5.3 5.3 0 1 0 10.6 0a5.3 5.3 0 1 0 -10.6 0ZM264.8 430.0a5.3 5.3 0 1 0 10.6 0a5.3 5.3 0 1 0 -10.6 0ZM265.9 428.7a5.3 5.3 0 1 0 10.6 0a5.3 5.3 0 1 0 -10.6 0ZM267.0 430.5a5.3 5.3 0 1 0 10.6 0a5.3 5.3 0 1 0 -10.6 0ZM268.0 426.1a5.3 5.3 0 1 0 10.6 0a5.3 5.3 0 1 0 -10.6 0ZM269.0 429.4a5.3 5.3 0 1 0 10.6 0a5.3 5.3 0 1 0 -10.6 0ZM270.0 426.6a5.3 5.3 0 1 0 10.6 0a5.3 5.3 0 1 0 -10.6 0ZM271.0 426.2a5.3 5.3 0 1 0 10.6 0a5.3 5.3 0 1 0 -10.6 0ZM272.0 424.3a5.3 5.3 0 1 0 10.6 0a5.3 5.3 0 1 0 -10.6 0ZM272.9 425.8a5.3 5.3 0 1 0 10.6 0a5.3 5.3 0 1 0 -10.6 0ZM273.8 425.1a5.3 5.3 0 1 0 10.6 0a5.3 5.3 0 1 0 -10.6 0ZM274.7 425.3a5.3 5.3 0 1 0 10.6 0a5.3 5.3 0 1 0 -10.6 0ZM275.6 423.6a5.3 5.3 0 1 0 10.6 0a5.3 5.3 0 1 0 -10.6 0ZM276.4 424.1a5.3 5.3 0 1 0 10.6 0a5.3 5.3 0 1 0 -10.6 0ZM277.3 426.4a5.3 5.3 0 1 0 10.6 0a5.3 5.3 0 1 0 -10.6 0ZM278.1 423.6a5.3 5.3 0 1 0 10.6 0a5.3 5.3 0 1 0 -10.6 0ZM278.9 421.6a5.3 5.3 0 1 0 10.6 0a5.3 5.3 0 1 0 -10.6 0ZM279.7 423.5a5.3 5.3 0 1 0 10.6 0a5.3 5.3 0 1 0 -10.6 0ZM280.5 421.3a5.3 5.3 0 1 0 10.6 0a5.3 5.3 0 1 0 -10.6 0ZM281.2 422.0a5.3 5.3 0 1 0 10.6 0a5.3 5.3 0 1 0 -10.6 0ZM282.0 421.6a5.3 5.3 0 1 0 10.6 0a5.3 5.3 0 1 0 -10.6 0ZM282.7 419.6a5.3 5.3 0 1 0 10.6 0a5.3 5.3 0 1 0 -10.6 0ZM283.4 416.7a5.3 5.3 0 1 0 10.6 0a5.3 5.3 0 1 0 -10.6 0ZM284.1 418.8a5.3 5.3 0 1 0 10.6 0a5.3 5.3 0 1 0 -10.6 0ZM284.8 419.8a5.3 5.3 0 1 0 10.6 0a5.3 5.3 0 1 0 -10.6 0ZM285.5 417.9a5.3 5.3 0 1 0 10.6 0a5.3 5.3 0 1 0 -10.6 0ZM286.2 418.8a5.3 5.3 0 1 0 10.6 0a5.3 5.3 0 1 0 -10.6 0ZM286.8 419.3a5.3 5.3 0 1 0 10.6 0a5.3 5.3 0 1 0 -10.6 0ZM287.5 416.4a5.3 5.3 0 1 0 10.6 0a5.3 5.3 0 1 0 -10.6 0ZM288.1 418.9a5.3 5.3 0 1 0 10.6 0a5.3 5.3 0 1 0 -10.6 0ZM288.8 419.1a5.3 5.3 0 1 0 10.6 0a5.3 5.3 0 1 0 -10.6 0ZM289.4 417.9a5.3 5.3 0 1 0 10.6 0a5.3 5.3 0 1 0 -10.6 0ZM290.0 417.7a5.3 5.3 0 1 0 10.6 0a5.3 5.3 0 1 0 -10.6 0ZM290.6 417.2a5.3 5.3 0 1 0 10.6 0a5.3 5.3 0 1 0 -10.6 0ZM291.2 418.7a5.3 5.3 0 1 0 10.6 0a5.3 5.3 0 1 0 -10.6 0ZM291.8 415.0a5.3 5.3 0 1 0 10.6 0a5.3 5.3 0 1 0 -10.6 0ZM292.4 414.4a5.3 5.3 0 1 0 10.6 0a5.3 5.3 0 1 0 -10.6 0ZM293.0 415.0a5.3 5.3 0 1 0 10.6 0a5.3 5.3 0 1 0 -10.6 0ZM293.5 412.3a5.3 5.3 0 1 0 10.6 0a5.3 5.3 0 1 0 -10.6 0ZM294.1 410.9a5.3 5.3 0 1 0 10.6 0a5.3 5.3 0 1 0 -10.6 0ZM294.6 411.6a5.3 5.3 0 1 0 10.6 0a5.3 5.3 0 1 0 -10.6 0ZM295.2 413.1a5.3 5.3 0 1 0 10.6 0a5.3 5.3 0 1 0 -10.6 0ZM295.7 412.9a5.3 5.3 0 1 0 10.6 0a5.3 5.3 0 1 0 -10.6 0ZM296.2 409.6a5.3 5.3 0 1 0 10.6 0a5.3 5.3 0 1 0 -10.6 0ZM296.7 408.7a5.3 5.3 0 1 0 10.6 0a5.3 5.3 0 1 0 -10.6 0ZM297.3 410.5a5.3 5.3 0 1 0 10.6 0a5.3 5.3 0 1 0 -10.6 0ZM297.8 410.3a5.3 5.3 0 1 0 10.6 0a5.3 5.3 0 1 0 -10.6 0ZM298.3 410.8a5.3 5.3 0 1 0 10.6 0a5.3 5.3 0 1 0 -10.6 0ZM298.8 409.5a5.3 5.3 0 1 0 10.6 0a5.3 5.3 0 1 0 -10.6 0ZM299.3 410.1a5.3 5.3 0 1 0 10.6 0a5.3 5.3 0 1 0 -10.6 0ZM299.8 409.2a5.3 5.3 0 1 0 10.6 0a5.3 5.3 0 1 0 -10.6 0ZM300.3 408.2a5.3 5.3 0 1 0 10.6 0a5.3 5.3 0 1 0 -10.6 0ZM300.8 408.6a5.3 5.3 0 1 0 10.6 0a5.3 5.3 0 1 0 -10.6 0ZM301.3 408.0a5.3 5.3 0 1 0 10.6 0a5.3 5.3 0 1 0 -10.6 0ZM301.8 406.6a5.3 5.3 0 1 0 10.6 0a5.3 5.3 0 1 0 -10.6 0ZM302.3 407.5a5.3 5.3 0 1 0 10.6 0a5.3 5.3 0 1 0 -10.6 0ZM302.8 408.4a5.3 5.3 0 1 0 10.6 0a5.3 5.3 0 1 0 -10.6 0ZM303.3 405.4a5.3 5.3 0 1 0 10.6 0a5.3 5.3 0 1 0 -10.6 0ZM303.8 406.8a5.3 5.3 0 1 0 10.6 0a5.3 5.3 0 1 0 -10.6 0ZM304.3 406.7a5.3 5.3 0 1 0 10.6 0a5.3 5.3 0 1 0 -10.6 0ZM304.8 405.3a5.3 5.3 0 1 0 10.6 0a5.3 5.3 0 1 0 -10.6 0ZM305.3 405.0a5.3 5.3 0 1 0 10.6 0a5.3 5.3 0 1 0 -10.6 0ZM305.8 404.2a5.3 5.3 0 1 0 10.6 0a5.3 5.3 0 1 0 -10.6 0ZM306.3 405.2a5.3 5.3 0 1 0 10.6 0a5.3 5.3 0 1 0 -10.6 0ZM306.8 402.7a5.3 5.3 0 1 0 10.6 0a5.3 5.3 0 1 0 -10.6 0ZM307.3 403.1a5.3 5.3 0 1 0 10.6 0a5.3 5.3 0 1 0 -10.6 0ZM307.8 401.2a5.3 5.3 0 1 0 10.6 0a5.3 5.3 0 1 0 -10.6 0ZM308.3 402.5a5.3 5.3 0 1 0 10.6 0a5.3 5.3 0 1 0 -10.6 0ZM308.8 402.2a5.3 5.3 0 1 0 10.6 0a5.3 5.3 0 1 0 -10.6 0ZM309.3 400.3a5.3 5.3 0 1 0 10.6 0a5.3 5.3 0 1 0 -10.6 0ZM309.8 400.3a5.3 5.3 0 1 0 10.6 0a5.3 5.3 0 1 0 -10.6 0ZM310.3 401.1a5.3 5.3 0 1 0 10.6 0a5.3 5.3 0 1 0 -10.6 0ZM310.8 400.0a5.3 5.3 0 1 0 10.6 0a5.3 5.3 0 1 0 -10.6 0ZM311.3 398.8a5.3 5.3 0 1 0 10.6 0a5.3 5.3 0 1 0 -10.6 0ZM311.8 397.4a5.3 5.3 0 1 0 10.6 0a5.3 5.3 0 1 0 -10.6 0ZM312.3 398.8a5.3 5.3 0 1 0 10.6 0a5.3 5.3 0 1 0 -10.6 0ZM312.8 399.6a5.3 5.3 0 1 0 10.6 0a5.3 5.3 0 1 0 -10.6 0ZM313.3 397.3a5.3 5.3 0 1 0 10.6 0a5.3 5.3 0 1 0 -10.6 0ZM313.8 397.5a5.3 5.3 0 1 0 10.6 0a5.3 5.3 0 1 0 -10.6 0ZM314.3 397.1a5.3 5.3 0 1 0 10.6 0a5.3 5.3 0 1 0 -10.6 0ZM314.8 396.3a5.3 5.3 0 1 0 10.6 0a5.3 5.3 0 1 0 -10.6 0ZM315.3 396.1a5.3 5.3 0 1 0 10.6 0a5.3 5.3 0 1 0 -10.6 0ZM315.8 395.9a5.3 5.3 0 1 0 10.6 0a5.3 5.3 0 1 0 -10.6 0ZM316.3 394.7a5.3 5.3 0 1 0 10.6 0a5.3 5.3 0 1 0 -10.6 0ZM316.8 397.0a5.3 5.3 0 1 0 10.6 0a5.3 5.3 0 1 0 -10.6 0ZM317.3 396.9a5.3 5.3 0 1 0 10.6 0a5.3 5.3 0 1 0 -10.6 0ZM317.8 394.9a5.3 5.3 0 1 0 10.6 0a5.3 5.3 0 1 0 -10.6 0ZM318.3 395.6a5.3 5.3 0 1 0 10.6 0a5.3 5.3 0 1 0 -10.6 0ZM318.8 393.3a5.3 5.3 0 1 0 10.6 0a5.3 5.3 0 1 0 -10.6 0ZM319.3 393.1a5.3 5.3 0 1 0 10.6 0a5.3 5.3 0 1 0 -10.6 0ZM319.8 394.0a5.3 5.3 0 1 0 10.6 0a5.3 5.3 0 1 0 -10.6 0ZM320.3 391.9a5.3 5.3 0 1 0 10.6 0a5.3 5.3 0 1 0 -10.6 0ZM320.8 391.6a5.3 5.3 0 1 0 10.6 0a5.3 5.3 0 1 0 -10.6 0ZM321.3 392.5a5.3 5.3 0 1 0 10.6 0a5.3 5.3 0 1 0 -10.6 0ZM321.8 390.1a5.3 5.3 0 1 0 10.6 0a5.3 5.3 0 1 0 -10.6 0ZM322.3 392.8a5.3 5.3 0 1 0 10.6 0a5.3 5.3 0 1 0 -10.6 0ZM322.8 391.8a5.3 5.3 0 1 0 10.6 0a5.3 5.3 0 1 0 -10.6 0ZM323.3 390.8a5.3 5.3 0 1 0 10.6 0a5.3 5.3 0 1 0 -10.6 0ZM323.8 390.5a5.3 5.3 0 1 0 10.6 0a5.3 5.3 0 1 0 -10.6 0ZM324.3 388.9a5.3 5.3 0 1 0 10.6 0a5.3 5.3 0 1 0 -10.6 0ZM324.8 388.5a5.3 5.3 0 1 0 10.6 0a5.3 5.3 0 1 0 -10.6 0ZM325.3 390.0a5.3 5.3 0 1 0 10.6 0a5.3 5.3 0 1 0 -10.6 0ZM325.8 389.6a5.3 5.3 0 1 0 10.6 0a5.3 5.3 0 1 0 -10.6 0ZM326.3 388.4a5.3 5.3 0 1 0 10.6 0a5.3 5.3 0 1 0 -10.6 0ZM326.8 387.9a5.3 5.3 0 1 0 10.6 0a5.3 5.3 0 1 0 -10.6 0ZM327.3 386.8a5.3 5.3 0 1 0 10.6 0a5.3 5.3 0 1 0 -10.6 0ZM327.8 387.8a5.3 5.3 0 1 0 10.6 0a5.3 5.3 0 1 0 -10.6 0ZM328.3 385.4a5.3 5.3 0 1 0 10.6 0a5.3 5.3 0 1 0 -10.6 0ZM328.8 385.5a5.3 5.3 0 1 0 10.6 0a5.3 5.3 0 1 0 -10.6 0ZM329.3 385.2a5.3 5.3 0 1 0 10.6 0a5.3 5.3 0 1 0 -10.6 0ZM329.8 383.8a5.3 5.3 0 1 0 10.6 0a5.3 5.3 0 1 0 -10.6 0ZM330.3 383.7a5.3 5.3 0 1 0 10.6 0a5.3 5.3 0 1 0 -10.6 0ZM330.8 383.7a5.3 5.3 0 1 0 10.6 0a5.3 5.3 0 1 0 -10.6 0ZM331.3 385.0a5.3 5.3 0 1 0 10.6 0a5.3 5.3 0 1 0 -10.6 0ZM331.8 385.1a5.3 5.3 0 1 0 10.6 0a5.3 5.3 0 1 0 -10.6 0ZM332.3 383.6a5.3 5.3 0 1 0 10.6 0a5.3 5.3 0 1 0 -10.6 0ZM332.8 381.7a5.3 5.3 0 1 0 10.6 0a5.3 5.3 0 1 0 -10.6 0ZM333.3 382.0a5.3 5.3 0 1 0 10.6 0a5.3 5.3 0 1 0 -10.6 0ZM333.8 382.1a5.3 5.3 0 1 0 10.6 0a5.3 5.3 0 1 0 -10.6 0ZM334.3 381.3a5.3 5.3 0 1 0 10.6 0a5.3 5.3 0 1 0 -10.6 0ZM334.8 380.6a5.3 5.3 0 1 0 10.6 0a5.3 5.3 0 1 0 -10.6 0ZM335.3 380.9a5.3 5.3 0 1 0 10.6 0a5.3 5.3 0 1 0 -10.6 0ZM335.8 378.5a5.3 5.3 0 1 0 10.6 0a5.3 5.3 0 1 0 -10.6 0ZM336.3 379.0a5.3 5.3 0 1 0 10.6 0a5.3 5.3 0 1 0 -10.6 0ZM336.8 379.3a5.3 5.3 0 1 0 10.6 0a5.3 5.3 0 1 0 -10.6 0ZM337.3 379.6a5.3 5.3 0 1 0 10.6 0a5.3 5.3 0 1 0 -10.6 0ZM337.8 378.9a5.3 5.3 0 1 0 10.6 0a5.3 5.3 0 1 0 -10.6 0ZM338.3 378.4a5.3 5.3 0 1 0 10.6 0a5.3 5.3 0 1 0 -10.6 0ZM338.8 378.0a5.3 5.3 0 1 0 10.6 0a5.3 5.3 0 1 0 -10.6 0ZM339.3 377.3a5.3 5.3 0 1 0 10.6 0a5.3 5.3 0 1 0 -10.6 0ZM339.8 377.3a5.3 5.3 0 1 0 10.6 0a5.3 5.3 0 1 0 -10.6 0ZM340.3 376.7a5.3 5.3 0 1 0 10.6 0a5.3 5.3 0 1 0 -10.6 0ZM340.8 376.1a5.3 5.3 0 1 0 10.6 0a5.3 5.3 0 1 0 -10.6 0ZM341.3 377.1a5.3 5.3 0 1 0 10.6 0a5.3 5.3 0 1 0 -10.6 0ZM341.8 376.7a5.3 5.3 0 1 0 10.6 0a5.3 5.3 0 1 0 -10.6 0ZM342.3 375.0a5.3 5.3 0 1 0 10.6 0a5.3 5.3 0 1 0 -10.6 0ZM342.8 375.2a5.3 5.3 0 1 0 10.6 0a5.3 5.3 0 1 0 -10.6 0ZM343.3 375.1a5.3 5.3 0 1 0 10.6 0a5.3 5.3 0 1 0 -10.6 0ZM343.8 374.1a5.3 5.3 0 1 0 10.6 0a5.3 5.3 0 1 0 -10.6 0ZM344.3 373.6a5.3 5.3 0 1 0 10.6 0a5.3 5.3 0 1 0 -10.6 0ZM344.8 373.6a5.3 5.3 0 1 0 10.6 0a5.3 5.3 0 1 0 -10.6 0ZM345.3 371.3a5.3 5.3 0 1 0 10.6 0a5.3 5.3 0 1 0 -10.6 0ZM345.8 371.0a5.3 5.3 0 1 0 10.6 0a5.3 5.3 0 1 0 -10.6 0ZM346.3 372.3a5.3 5.3 0 1 0 10.6 0a5.3 5.3 0 1 0 -10.6 0ZM346.8 371.9a5.3 5.3 0 1 0 10.6 0a5.3 5.3 0 1 0 -10.6 0ZM347.4 372.5a5.3 5.3 0 1 0 10.6 0a5.3 5.3 0 1 0 -10.6 0ZM347.9 370.8a5.3 5.3 0 1 0 10.6 0a5.3 5.3 0 1 0 -10.6 0ZM348.4 371.9a5.3 5.3 0 1 0 10.6 0a5.3 5.3 0 1 0 -10.6 0ZM348.9 371.6a5.3 5.3 0 1 0 10.6 0a5.3 5.3 0 1 0 -10.6 0ZM349.4 371.8a5.3 5.3 0 1 0 10.6 0a5.3 5.3 0 1 0 -10.6 0ZM349.9 369.2a5.3 5.3 0 1 0 10.6 0a5.3 5.3 0 1 0 -10.6 0ZM350.4 369.1a5.3 5.3 0 1 0 10.6 0a5.3 5.3 0 1 0 -10.6 0ZM350.9 368.8a5.3 5.3 0 1 0 10.6 0a5.3 5.3 0 1 0 -10.6 0ZM351.4 368.1a5.3 5.3 0 1 0 10.6 0a5.3 5.3 0 1 0 -10.6 0ZM351.9 367.1a5.3 5.3 0 1 0 10.6 0a5.3 5.3 0 1 0 -10.6 0ZM352.4 366.9a5.3 5.3 0 1 0 10.6 0a5.3 5.3 0 1 0 -10.6 0ZM352.9 365.5a5.3 5.3 0 1 0 10.6 0a5.3 5.3 0 1 0 -10.6 0ZM353.4 368.0a5.3 5.3 0 1 0 10.6 0a5.3 5.3 0 1 0 -10.6 0ZM353.9 366.0a5.3 5.3 0 1 0 10.6 0a5.3 5.3 0 1 0 -10.6 0ZM354.4 365.7a5.3 5.3 0 1 0 10.6 0a5.3 5.3 0 1 0 -10.6 0ZM354.9 365.0a5.3 5.3 0 1 0 10.6 0a5.3 5.3 0 1 0 -10.6 0ZM355.4 365.1a5.3 5.3 0 1 0 10.6 0a5.3 5.3 0 1 0 -10.6 0ZM355.9 365.3a5.3 5.3 0 1 0 10.6 0a5.3 5.3 0 1 0 -10.6 0ZM356.4 364.3a5.3 5.3 0 1 0 10.6 0a5.3 5.3 0 1 0 -10.6 0ZM356.9 364.4a5.3 5.3 0 1 0 10.6 0a5.3 5.3 0 1 0 -10.6 0ZM357.4 365.8a5.3 5.3 0 1 0 10.6 0a5.3 5.3 0 1 0 -10.6 0ZM357.9 364.6a5.3 5.3 0 1 0 10.6 0a5.3 5.3 0 1 0 -10.6 0ZM358.4 363.9a5.3 5.3 0 1 0 10.6 0a5.3 5.3 0 1 0 -10.6 0ZM358.9 363.0a5.3 5.3 0 1 0 10.6 0a5.3 5.3 0 1 0 -10.6 0ZM359.4 363.0a5.3 5.3 0 1 0 10.6 0a5.3 5.3 0 1 0 -10.6 0ZM359.9 362.1a5.3 5.3 0 1 0 10.6 0a5.3 5.3 0 1 0 -10.6 0ZM360.4 362.5a5.3 5.3 0 1 0 10.6 0a5.3 5.3 0 1 0 -10.6 0ZM360.9 361.6a5.3 5.3 0 1 0 10.6 0a5.3 5.3 0 1 0 -10.6 0ZM361.4 361.2a5.3 5.3 0 1 0 10.6 0a5.3 5.3 0 1 0 -10.6 0ZM361.9 361.0a5.3 5.3 0 1 0 10.6 0a5.3 5.3 0 1 0 -10.6 0ZM362.4 359.8a5.3 5.3 0 1 0 10.6 0a5.3 5.3 0 1 0 -10.6 0ZM362.9 360.3a5.3 5.3 0 1 0 10.6 0a5.3 5.3 0 1 0 -10.6 0ZM363.4 362.1a5.3 5.3 0 1 0 10.6 0a5.3 5.3 0 1 0 -10.6 0ZM363.9 359.0a5.3 5.3 0 1 0 10.6 0a5.3 5.3 0 1 0 -10.6 0ZM364.4 357.9a5.3 5.3 0 1 0 10.6 0a5.3 5.3 0 1 0 -10.6 0ZM364.9 359.6a5.3 5.3 0 1 0 10.6 0a5.3 5.3 0 1 0 -10.6 0ZM365.4 358.5a5.3 5.3 0 1 0 10.6 0a5.3 5.3 0 1 0 -10.6 0ZM365.9 360.0a5.3 5.3 0 1 0 10.6 0a5.3 5.3 0 1 0 -10.6 0ZM366.4 358.2a5.3 5.3 0 1 0 10.6 0a5.3 5.3 0 1 0 -10.6 0ZM366.9 358.3a5.3 5.3 0 1 0 10.6 0a5.3 5.3 0 1 0 -10.6 0ZM367.4 356.6a5.3 5.3 0 1 0 10.6 0a5.3 5.3 0 1 0 -10.6 0ZM367.9 355.6a5.3 5.3 0 1 0 10.6 0a5.3 5.3 0 1 0 -10.6 0ZM368.4 356.4a5.3 5.3 0 1 0 10.6 0a5.3 5.3 0 1 0 -10.6 0ZM368.9 356.7a5.3 5.3 0 1 0 10.6 0a5.3 5.3 0 1 0 -10.6 0ZM369.4 355.3a5.3 5.3 0 1 0 10.6 0a5.3 5.3 0 1 0 -10.6 0ZM369.9 354.6a5.3 5.3 0 1 0 10.6 0a5.3 5.3 0 1 0 -10.6 0ZM370.4 355.1a5.3 5.3 0 1 0 10.6 0a5.3 5.3 0 1 0 -10.6 0ZM370.9 354.8a5.3 5.3 0 1 0 10.6 0a5.3 5.3 0 1 0 -10.6 0ZM371.4 354.6a5.3 5.3 0 1 0 10.6 0a5.3 5.3 0 1 0 -10.6 0ZM371.9 354.5a5.3 5.3 0 1 0 10.6 0a5.3 5.3 0 1 0 -10.6 0ZM372.4 356.2a5.3 5.3 0 1 0 10.6 0a5.3 5.3 0 1 0 -10.6 0ZM372.9 354.3a5.3 5.3 0 1 0 10.6 0a5.3 5.3 0 1 0 -10.6 0ZM373.4 353.4a5.3 5.3 0 1 0 10.6 0a5.3 5.3 0 1 0 -10.6 0ZM373.9 352.6a5.3 5.3 0 1 0 10.6 0a5.3 5.3 0 1 0 -10.6 0ZM374.4 353.6a5.3 5.3 0 1 0 10.6 0a5.3 5.3 0 1 0 -10.6 0ZM374.9 351.3a5.3 5.3 0 1 0 10.6 0a5.3 5.3 0 1 0 -10.6 0ZM375.4 353.2a5.3 5.3 0 1 0 10.6 0a5.3 5.3 0 1 0 -10.6 0ZM375.9 352.0a5.3 5.3 0 1 0 10.6 0a5.3 5.3 0 1 0 -10.6 0ZM376.4 350.5a5.3 5.3 0 1 0 10.6 0a5.3 5.3 0 1 0 -10.6 0ZM376.9 351.4a5.3 5.3 0 1 0 10.6 0a5.3 5.3 0 1 0 -10.6 0ZM377.4 351.1a5.3 5.3 0 1 0 10.6 0a5.3 5.3 0 1 0 -10.6 0ZM377.9 351.6a5.3 5.3 0 1 0 10.6 0a5.3 5.3 0 1 0 -10.6 0ZM378.4 349.2a5.3 5.3 0 1 0 10.6 0a5.3 5.3 0 1 0 -10.6 0ZM378.9 350.3a5.3 5.3 0 1 0 10.6 0a5.3 5.3 0 1 0 -10.6 0ZM379.4 349.9a5.3 5.3 0 1 0 10.6 0a5.3 5.3 0 1 0 -10.6 0ZM379.9 350.2a5.3 5.3 0 1 0 10.6 0a5.3 5.3 0 1 0 -10.6 0ZM380.4 348.1a5.3 5.3 0 1 0 10.6 0a5.3 5.3 0 1 0 -10.6 0ZM380.9 348.0a5.3 5.3 0 1 0 10.6 0a5.3 5.3 0 1 0 -10.6 0ZM381.4 349.9a5.3 5.3 0 1 0 10.6 0a5.3 5.3 0 1 0 -10.6 0ZM381.9 348.0a5.3 5.3 0 1 0 10.6 0a5.3 5.3 0 1 0 -10.6 0ZM382.4 345.9a5.3 5.3 0 1 0 10.6 0a5.3 5.3 0 1 0 -10.6 0ZM382.9 347.0a5.3 5.3 0 1 0 10.6 0a5.3 5.3 0 1 0 -10.6 0ZM383.4 345.6a5.3 5.3 0 1 0 10.6 0a5.3 5.3 0 1 0 -10.6 0ZM383.9 345.0a5.3 5.3 0 1 0 10.6 0a5.3 5.3 0 1 0 -10.6 0ZM384.4 344.2a5.3 5.3 0 1 0 10.6 0a5.3 5.3 0 1 0 -10.6 0ZM384.9 345.5a5.3 5.3 0 1 0 10.6 0a5.3 5.3 0 1 0 -10.6 0ZM385.4 344.0a5.3 5.3 0 1 0 10.6 0a5.3 5.3 0 1 0 -10.6 0ZM385.9 344.5a5.3 5.3 0 1 0 10.6 0a5.3 5.3 0 1 0 -10.6 0ZM386.4 344.1a5.3 5.3 0 1 0 10.6 0a5.3 5.3 0 1 0 -10.6 0ZM386.9 342.1a5.3 5.3 0 1 0 10.6 0a5.3 5.3 0 1 0 -10.6 0ZM387.4 342.3a5.3 5.3 0 1 0 10.6 0a5.3 5.3 0 1 0 -10.6 0ZM387.9 343.0a5.3 5.3 0 1 0 10.6 0a5.3 5.3 0 1 0 -10.6 0ZM388.4 340.9a5.3 5.3 0 1 0 10.6 0a5.3 5.3 0 1 0 -10.6 0ZM388.9 342.3a5.3 5.3 0 1 0 10.6 0a5.3 5.3 0 1 0 -10.6 0ZM389.4 341.7a5.3 5.3 0 1 0 10.6 0a5.3 5.3 0 1 0 -10.6 0ZM389.9 342.3a5.3 5.3 0 1 0 10.6 0a5.3 5.3 0 1 0 -10.6 0ZM390.4 342.2a5.3 5.3 0 1 0 10.6 0a5.3 5.3 0 1 0 -10.6 0ZM390.9 342.1a5.3 5.3 0 1 0 10.6 0a5.3 5.3 0 1 0 -10.6 0ZM391.4 340.9a5.3 5.3 0 1 0 10.6 0a5.3 5.3 0 1 0 -10.6 0ZM391.9 340.7a5.3 5.3 0 1 0 10.6 0a5.3 5.3 0 1 0 -10.6 0ZM392.4 339.4a5.3 5.3 0 1 0 10.6 0a5.3 5.3 0 1 0 -10.6 0ZM392.9 339.3a5.3 5.3 0 1 0 10.6 0a5.3 5.3 0 1 0 -10.6 0ZM393.4 340.1a5.3 5.3 0 1 0 10.6 0a5.3 5.3 0 1 0 -10.6 0ZM393.9 338.8a5.3 5.3 0 1 0 10.6 0a5.3 5.3 0 1 0 -10.6 0ZM394.4 339.8a5.3 5.3 0 1 0 10.6 0a5.3 5.3 0 1 0 -10.6 0ZM394.9 339.1a5.3 5.3 0 1 0 10.6 0a5.3 5.3 0 1 0 -10.6 0ZM395.4 337.4a5.3 5.3 0 1 0 10.6 0a5.3 5.3 0 1 0 -10.6 0ZM395.9 338.3a5.3 5.3 0 1 0 10.6 0a5.3 5.3 0 1 0 -10.6 0ZM396.4 337.1a5.3 5.3 0 1 0 10.6 0a5.3 5.3 0 1 0 -10.6 0ZM396.9 337.5a5.3 5.3 0 1 0 10.6 0a5.3 5.3 0 1 0 -10.6 0ZM397.4 336.0a5.3 5.3 0 1 0 10.6 0a5.3 5.3 0 1 0 -10.6 0ZM397.9 336.6a5.3 5.3 0 1 0 10.6 0a5.3 5.3 0 1 0 -10.6 0ZM398.4 335.9a5.3 5.3 0 1 0 10.6 0a5.3 5.3 0 1 0 -10.6 0ZM398.9 334.3a5.3 5.3 0 1 0 10.6 0a5.3 5.3 0 1 0 -10.6 0ZM399.4 336.2a5.3 5.3 0 1 0 10.6 0a5.3 5.3 0 1 0 -10.6 0ZM399.9 335.5a5.3 5.3 0 1 0 10.6 0a5.3 5.3 0 1 0 -10.6 0ZM400.4 332.9a5.3 5.3 0 1 0 10.6 0a5.3 5.3 0 1 0 -10.6 0ZM400.9 334.0a5.3 5.3 0 1 0 10.6 0a5.3 5.3 0 1 0 -10.6 0ZM401.4 332.9a5.3 5.3 0 1 0 10.6 0a5.3 5.3 0 1 0 -10.6 0ZM401.9 334.5a5.3 5.3 0 1 0 10.6 0a5.3 5.3 0 1 0 -10.6 0ZM402.4 332.7a5.3 5.3 0 1 0 10.6 0a5.3 5.3 0 1 0 -10.6 0ZM402.9 332.9a5.3 5.3 0 1 0 10.6 0a5.3 5.3 0 1 0 -10.6 0ZM403.4 332.2a5.3 5.3 0 1 0 10.6 0a5.3 5.3 0 1 0 -10.6 0ZM403.9 332.4a5.3 5.3 0 1 0 10.6 0a5.3 5.3 0 1 0 -10.6 0ZM404.4 331.2a5.3 5.3 0 1 0 10.6 0a5.3 5.3 0 1 0 -10.6 0ZM404.9 330.4a5.3 5.3 0 1 0 10.6 0a5.3 5.3 0 1 0 -10.6 0ZM405.4 330.0a5.3 5.3 0 1 0 10.6 0a5.3 5.3 0 1 0 -10.6 0ZM405.9 330.1a5.3 5.3 0 1 0 10.6 0a5.3 5.3 0 1 0 -10.6 0ZM406.4 330.5a5.3 5.3 0 1 0 10.6 0a5.3 5.3 0 1 0 -10.6 0ZM406.9 329.8a5.3 5.3 0 1 0 10.6 0a5.3 5.3 0 1 0 -10.6 0ZM407.4 329.0a5.3 5.3 0 1 0 10.6 0a5.3 5.3 0 1 0 -10.6 0ZM407.9 328.6a5.3 5.3 0 1 0 10.6 0a5.3 5.3 0 1 0 -10.6 0ZM408.4 327.8a5.3 5.3 0 1 0 10.6 0a5.3 5.3 0 1 0 -10.6 0ZM408.9 328.0a5.3 5.3 0 1 0 10.6 0a5.3 5.3 0 1 0 -10.6 0ZM409.4 325.9a5.3 5.3 0 1 0 10.6 0a5.3 5.3 0 1 0 -10.6 0ZM409.9 327.0a5.3 5.3 0 1 0 10.6 0a5.3 5.3 0 1 0 -10.6 0ZM410.4 327.9a5.3 5.3 0 1 0 10.6 0a5.3 5.3 0 1 0 -10.6 0ZM410.9 326.3a5.3 5.3 0 1 0 10.6 0a5.3 5.3 0 1 0 -10.6 0ZM411.4 325.9a5.3 5.3 0 1 0 10.6 0a5.3 5.3 0 1 0 -10.6 0ZM411.9 326.1a5.3 5.3 0 1 0 10.6 0a5.3 5.3 0 1 0 -10.6 0ZM412.4 324.9a5.3 5.3 0 1 0 10.6 0a5.3 5.3 0 1 0 -10.6 0ZM413.0 324.2a5.3 5.3 0 1 0 10.6 0a5.3 5.3 0 1 0 -10.6 0ZM413.5 324.9a5.3 5.3 0 1 0 10.6 0a5.3 5.3 0 1 0 -10.6 0ZM414.0 323.7a5.3 5.3 0 1 0 10.6 0a5.3 5.3 0 1 0 -10.6 0ZM414.5 325.3a5.3 5.3 0 1 0 10.6 0a5.3 5.3 0 1 0 -10.6 0ZM415.0 323.9a5.3 5.3 0 1 0 10.6 0a5.3 5.3 0 1 0 -10.6 0ZM415.5 322.9a5.3 5.3 0 1 0 10.6 0a5.3 5.3 0 1 0 -10.6 0ZM416.0 321.9a5.3 5.3 0 1 0 10.6 0a5.3 5.3 0 1 0 -10.6 0ZM416.5 322.1a5.3 5.3 0 1 0 10.6 0a5.3 5.3 0 1 0 -10.6 0ZM417.0 320.1a5.3 5.3 0 1 0 10.6 0a5.3 5.3 0 1 0 -10.6 0ZM417.5 321.9a5.3 5.3 0 1 0 10.6 0a5.3 5.3 0 1 0 -10.6 0ZM418.0 322.0a5.3 5.3 0 1 0 10.6 0a5.3 5.3 0 1 0 -10.6 0ZM418.5 321.2a5.3 5.3 0 1 0 10.6 0a5.3 5.3 0 1 0 -10.6 0ZM419.0 319.5a5.3 5.3 0 1 0 10.6 0a5.3 5.3 0 1 0 -10.6 0ZM419.5 319.9a5.3 5.3 0 1 0 10.6 0a5.3 5.3 0 1 0 -10.6 0ZM420.0 319.1a5.3 5.3 0 1 0 10.6 0a5.3 5.3 0 1 0 -10.6 0ZM420.5 317.6a5.3 5.3 0 1 0 10.6 0a5.3 5.3 0 1 0 -10.6 0ZM421.0 317.7a5.3 5.3 0 1 0 10.6 0a5.3 5.3 0 1 0 -10.6 0ZM421.5 317.9a5.3 5.3 0 1 0 10.6 0a5.3 5.3 0 1 0 -10.6 0ZM422.0 317.1a5.3 5.3 0 1 0 10.6 0a5.3 5.3 0 1 0 -10.6 0ZM422.5 315.9a5.3 5.3 0 1 0 10.6 0a5.3 5.3 0 1 0 -10.6 0ZM423.0 315.7a5.3 5.3 0 1 0 10.6 0a5.3 5.3 0 1 0 -10.6 0ZM423.5 315.4a5.3 5.3 0 1 0 10.6 0a5.3 5.3 0 1 0 -10.6 0ZM424.0 313.6a5.3 5.3 0 1 0 10.6 0a5.3 5.3 0 1 0 -10.6 0ZM424.5 314.5a5.3 5.3 0 1 0 10.6 0a5.3 5.3 0 1 0 -10.6 0ZM425.0 313.9a5.3 5.3 0 1 0 10.6 0a5.3 5.3 0 1 0 -10.6 0ZM425.5 311.3a5.3 5.3 0 1 0 10.6 0a5.3 5.3 0 1 0 -10.6 0ZM426.0 311.3a5.3 5.3 0 1 0 10.6 0a5.3 5.3 0 1 0 -10.6 0ZM426.5 313.5a5.3 5.3 0 1 0 10.6 0a5.3 5.3 0 1 0 -10.6 0ZM427.0 311.8a5.3 5.3 0 1 0 10.6 0a5.3 5.3 0 1 0 -10.6 0ZM427.5 312.5a5.3 5.3 0 1 0 10.6 0a5.3 5.3 0 1 0 -10.6 0ZM428.0 310.5a5.3 5.3 0 1 0 10.6 0a5.3 5.3 0 1 0 -10.6 0ZM428.5 311.7a5.3 5.3 0 1 0 10.6 0a5.3 5.3 0 1 0 -10.6 0ZM429.0 310.6a5.3 5.3 0 1 0 10.6 0a5.3 5.3 0 1 0 -10.6 0ZM429.5 308.9a5.3 5.3 0 1 0 10.6 0a5.3 5.3 0 1 0 -10.6 0ZM430.0 309.1a5.3 5.3 0 1 0 10.6 0a5.3 5.3 0 1 0 -10.6 0ZM430.5 309.6a5.3 5.3 0 1 0 10.6 0a5.3 5.3 0 1 0 -10.6 0ZM431.0 309.4a5.3 5.3 0 1 0 10.6 0a5.3 5.3 0 1 0 -10.6 0ZM431.5 307.3a5.3 5.3 0 1 0 10.6 0a5.3 5.3 0 1 0 -10.6 0ZM432.0 306.1a5.3 5.3 0 1 0 10.6 0a5.3 5.3 0 1 0 -10.6 0ZM432.5 305.2a5.3 5.3 0 1 0 10.6 0a5.3 5.3 0 1 0 -10.6 0ZM433.0 305.7a5.3 5.3 0 1 0 10.6 0a5.3 5.3 0 1 0 -10.6 0ZM433.5 305.5a5.3 5.3 0 1 0 10.6 0a5.3 5.3 0 1 0 -10.6 0ZM434.0 304.6a5.3 5.3 0 1 0 10.6 0a5.3 5.3 0 1 0 -10.6 0ZM434.5 304.1a5.3 5.3 0 1 0 10.6 0a5.3 5.3 0 1 0 -10.6 0ZM435.0 304.0a5.3 5.3 0 1 0 10.6 0a5.3 5.3 0 1 0 -10.6 0ZM435.5 303.3a5.3 5.3 0 1 0 10.6 0a5.3 5.3 0 1 0 -10.6 0ZM436.0 302.8a5.3 5.3 0 1 0 10.6 0a5.3 5.3 0 1 0 -10.6 0ZM436.5 301.4a5.3 5.3 0 1 0 10.6 0a5.3 5.3 0 1 0 -10.6 0ZM437.0 301.5a5.3 5.3 0 1 0 10.6 0a5.3 5.3 0 1 0 -10.6 0ZM437.5 302.1a5.3 5.3 0 1 0 10.6 0a5.3 5.3 0 1 0 -10.6 0ZM438.0 300.8a5.3 5.3 0 1 0 10.6 0a5.3 5.3 0 1 0 -10.6 0ZM438.5 301.7a5.3 5.3 0 1 0 10.6 0a5.3 5.3 0 1 0 -10.6 0ZM439.0 299.9a5.3 5.3 0 1 0 10.6 0a5.3 5.3 0 1 0 -10.6 0ZM439.5 299.3a5.3 5.3 0 1 0 10.6 0a5.3 5.3 0 1 0 -10.6 0ZM440.0 299.1a5.3 5.3 0 1 0 10.6 0a5.3 5.3 0 1 0 -10.6 0ZM440.5 299.0a5.3 5.3 0 1 0 10.6 0a5.3 5.3 0 1 0 -10.6 0ZM441.0 297.9a5.3 5.3 0 1 0 10.6 0a5.3 5.3 0 1 0 -10.6 0ZM441.5 298.0a5.3 5.3 0 1 0 10.6 0a5.3 5.3 0 1 0 -10.6 0ZM442.0 297.4a5.3 5.3 0 1 0 10.6 0a5.3 5.3 0 1 0 -10.6 0ZM442.5 297.5a5.3 5.3 0 1 0 10.6 0a5.3 5.3 0 1 0 -10.6 0ZM443.0 296.3a5.3 5.3 0 1 0 10.6 0a5.3 5.3 0 1 0 -10.6 0ZM443.5 296.2a5.3 5.3 0 1 0 10.6 0a5.3 5.3 0 1 0 -10.6 0ZM444.0 294.8a5.3 5.3 0 1 0 10.6 0a5.3 5.3 0 1 0 -10.6 0ZM444.5 294.1a5.3 5.3 0 1 0 10.6 0a5.3 5.3 0 1 0 -10.6 0ZM445.0 294.3a5.3 5.3 0 1 0 10.6 0a5.3 5.3 0 1 0 -10.6 0ZM445.5 293.4a5.3 5.3 0 1 0 10.6 0a5.3 5.3 0 1 0 -10.6 0ZM446.0 293.4a5.3 5.3 0 1 0 10.6 0a5.3 5.3 0 1 0 -10.6 0ZM446.5 293.2a5.3 5.3 0 1 0 10.6 0a5.3 5.3 0 1 0 -10.6 0ZM447.0 293.0a5.3 5.3 0 1 0 10.6 0a5.3 5.3 0 1 0 -10.6 0ZM447.5 291.7a5.3 5.3 0 1 0 10.6 0a5.3 5.3 0 1 0 -10.6 0ZM448.0 291.9a5.3 5.3 0 1 0 10.6 0a5.3 5.3 0 1 0 -10.6 0ZM448.5 292.0a5.3 5.3 0 1 0 10.6 0a5.3 5.3 0 1 0 -10.6 0ZM449.0 291.0a5.3 5.3 0 1 0 10.6 0a5.3 5.3 0 1 0 -10.6 0ZM449.5 290.2a5.3 5.3 0 1 0 10.6 0a5.3 5.3 0 1 0 -10.6 0ZM450.0 290.2a5.3 5.3 0 1 0 10.6 0a5.3 5.3 0 1 0 -10.6 0ZM450.5 291.0a5.3 5.3 0 1 0 10.6 0a5.3 5.3 0 1 0 -10.6 0ZM451.0 289.6a5.3 5.3 0 1 0 10.6 0a5.3 5.3 0 1 0 -10.6 0ZM451.5 289.9a5.3 5.3 0 1 0 10.6 0a5.3 5.3 0 1 0 -10.6 0ZM452.0 288.5a5.3 5.3 0 1 0 10.6 0a5.3 5.3 0 1 0 -10.6 0ZM452.5 288.7a5.3 5.3 0 1 0 10.6 0a5.3 5.3 0 1 0 -10.6 0ZM453.0 286.8a5.3 5.3 0 1 0 10.6 0a5.3 5.3 0 1 0 -10.6 0ZM453.5 286.9a5.3 5.3 0 1 0 10.6 0a5.3 5.3 0 1 0 -10.6 0ZM454.0 286.6a5.3 5.3 0 1 0 10.6 0a5.3 5.3 0 1 0 -10.6 0ZM454.5 287.0a5.3 5.3 0 1 0 10.6 0a5.3 5.3 0 1 0 -10.6 0ZM455.0 286.1a5.3 5.3 0 1 0 10.6 0a5.3 5.3 0 1 0 -10.6 0ZM455.5 285.9a5.3 5.3 0 1 0 10.6 0a5.3 5.3 0 1 0 -10.6 0ZM456.0 284.6a5.3 5.3 0 1 0 10.6 0a5.3 5.3 0 1 0 -10.6 0ZM456.5 284.0a5.3 5.3 0 1 0 10.6 0a5.3 5.3 0 1 0 -10.6 0ZM457.0 284.4a5.3 5.3 0 1 0 10.6 0a5.3 5.3 0 1 0 -10.6 0ZM457.5 283.9a5.3 5.3 0 1 0 10.6 0a5.3 5.3 0 1 0 -10.6 0ZM458.0 283.1a5.3 5.3 0 1 0 10.6 0a5.3 5.3 0 1 0 -10.6 0ZM458.5 282.7a5.3 5.3 0 1 0 10.6 0a5.3 5.3 0 1 0 -10.6 0ZM459.0 281.5a5.3 5.3 0 1 0 10.6 0a5.3 5.3 0 1 0 -10.6 0ZM459.5 282.5a5.3 5.3 0 1 0 10.6 0a5.3 5.3 0 1 0 -10.6 0ZM460.0 280.8a5.3 5.3 0 1 0 10.6 0a5.3 5.3 0 1 0 -10.6 0ZM460.5 280.9a5.3 5.3 0 1 0 10.6 0a5.3 5.3 0 1 0 -10.6 0ZM461.0 280.4a5.3 5.3 0 1 0 10.6 0a5.3 5.3 0 1 0 -10.6 0ZM461.5 278.6a5.3 5.3 0 1 0 10.6 0a5.3 5.3 0 1 0 -10.6 0ZM462.0 278.1a5.3 5.3 0 1 0 10.6 0a5.3 5.3 0 1 0 -10.6 0ZM462.5 277.7a5.3 5.3 0 1 0 10.6 0a5.3 5.3 0 1 0 -10.6 0ZM463.0 278.1a5.3 5.3 0 1 0 10.6 0a5.3 5.3 0 1 0 -10.6 0ZM463.5 278.3a5.3 5.3 0 1 0 10.6 0a5.3 5.3 0 1 0 -10.6 0ZM464.0 277.4a5.3 5.3 0 1 0 10.6 0a5.3 5.3 0 1 0 -10.6 0ZM464.5 277.5a5.3 5.3 0 1 0 10.6 0a5.3 5.3 0 1 0 -10.6 0ZM465.0 276.0a5.3 5.3 0 1 0 10.6 0a5.3 5.3 0 1 0 -10.6 0ZM465.5 275.7a5.3 5.3 0 1 0 10.6 0a5.3 5.3 0 1 0 -10.6 0ZM466.0 275.0a5.3 5.3 0 1 0 10.6 0a5.3 5.3 0 1 0 -10.6 0ZM466.5 274.9a5.3 5.3 0 1 0 10.6 0a5.3 5.3 0 1 0 -10.6 0ZM467.0 273.7a5.3 5.3 0 1 0 10.6 0a5.3 5.3 0 1 0 -10.6 0ZM467.5 273.6a5.3 5.3 0 1 0 10.6 0a5.3 5.3 0 1 0 -10.6 0ZM468.0 273.6a5.3 5.3 0 1 0 10.6 0a5.3 5.3 0 1 0 -10.6 0ZM468.5 272.4a5.3 5.3 0 1 0 10.6 0a5.3 5.3 0 1 0 -10.6 0ZM469.0 271.8a5.3 5.3 0 1 0 10.6 0a5.3 5.3 0 1 0 -10.6 0ZM469.5 271.3a5.3 5.3 0 1 0 10.6 0a5.3 5.3 0 1 0 -10.6 0ZM470.0 270.5a5.3 5.3 0 1 0 10.6 0a5.3 5.3 0 1 0 -10.6 0ZM470.5 270.3a5.3 5.3 0 1 0 10.6 0a5.3 5.3 0 1 0 -10.6 0ZM471.0 270.6a5.3 5.3 0 1 0 10.6 0a5.3 5.3 0 1 0 -10.6 0ZM471.5 270.0a5.3 5.3 0 1 0 10.6 0a5.3 5.3 0 1 0 -10.6 0ZM472.0 268.6a5.3 5.3 0 1 0 10.6 0a5.3 5.3 0 1 0 -10.6 0ZM472.5 268.7a5.3 5.3 0 1 0 10.6 0a5.3 5.3 0 1 0 -10.6 0ZM473.0 268.6a5.3 5.3 0 1 0 10.6 0a5.3 5.3 0 1 0 -10.6 0ZM473.5 268.2a5.3 5.3 0 1 0 10.6 0a5.3 5.3 0 1 0 -10.6 0ZM474.0 267.7a5.3 5.3 0 1 0 10.6 0a5.3 5.3 0 1 0 -10.6 0ZM474.5 267.3a5.3 5.3 0 1 0 10.6 0a5.3 5.3 0 1 0 -10.6 0ZM475.0 266.2a5.3 5.3 0 1 0 10.6 0a5.3 5.3 0 1 0 -10.6 0ZM475.5 265.6a5.3 5.3 0 1 0 10.6 0a5.3 5.3 0 1 0 -10.6 0ZM476.0 265.1a5.3 5.3 0 1 0 10.6 0a5.3 5.3 0 1 0 -10.6 0ZM476.5 265.2a5.3 5.3 0 1 0 10.6 0a5.3 5.3 0 1 0 -10.6 0ZM477.0 264.7a5.3 5.3 0 1 0 10.6 0a5.3 5.3 0 1 0 -10.6 0ZM477.5 264.8a5.3 5.3 0 1 0 10.6 0a5.3 5.3 0 1 0 -10.6 0ZM478.0 263.9a5.3 5.3 0 1 0 10.6 0a5.3 5.3 0 1 0 -10.6 0ZM478.5 262.6a5.3 5.3 0 1 0 10.6 0a5.3 5.3 0 1 0 -10.6 0ZM479.1 261.7a5.3 5.3 0 1 0 10.6 0a5.3 5.3 0 1 0 -10.6 0ZM479.6 261.4a5.3 5.3 0 1 0 10.6 0a5.3 5.3 0 1 0 -10.6 0ZM480.1 261.3a5.3 5.3 0 1 0 10.6 0a5.3 5.3 0 1 0 -10.6 0ZM480.6 261.6a5.3 5.3 0 1 0 10.6 0a5.3 5.3 0 1 0 -10.6 0ZM481.1 260.0a5.3 5.3 0 1 0 10.6 0a5.3 5.3 0 1 0 -10.6 0ZM481.6 259.1a5.3 5.3 0 1 0 10.6 0a5.3 5.3 0 1 0 -10.6 0ZM482.1 259.8a5.3 5.3 0 1 0 10.6 0a5.3 5.3 0 1 0 -10.6 0ZM482.6 259.8a5.3 5.3 0 1 0 10.6 0a5.3 5.3 0 1 0 -10.6 0ZM483.1 259.2a5.3 5.3 0 1 0 10.6 0a5.3 5.3 0 1 0 -10.6 0ZM483.6 259.3a5.3 5.3 0 1 0 10.6 0a5.3 5.3 0 1 0 -10.6 0ZM484.1 258.0a5.3 5.3 0 1 0 10.6 0a5.3 5.3 0 1 0 -10.6 0ZM484.6 257.3a5.3 5.3 0 1 0 10.6 0a5.3 5.3 0 1 0 -10.6 0ZM485.1 256.8a5.3 5.3 0 1 0 10.6 0a5.3 5.3 0 1 0 -10.6 0ZM485.6 255.6a5.3 5.3 0 1 0 10.6 0a5.3 5.3 0 1 0 -10.6 0ZM486.1 255.4a5.3 5.3 0 1 0 10.6 0a5.3 5.3 0 1 0 -10.6 0ZM486.6 255.8a5.3 5.3 0 1 0 10.6 0a5.3 5.3 0 1 0 -10.6 0ZM487.1 255.6a5.3 5.3 0 1 0 10.6 0a5.3 5.3 0 1 0 -10.6 0ZM487.6 254.6a5.3 5.3 0 1 0 10.6 0a5.3 5.3 0 1 0 -10.6 0ZM488.1 253.6a5.3 5.3 0 1 0 10.6 0a5.3 5.3 0 1 0 -10.6 0ZM488.6 253.0a5.3 5.3 0 1 0 10.6 0a5.3 5.3 0 1 0 -10.6 0ZM489.1 252.9a5.3 5.3 0 1 0 10.6 0a5.3 5.3 0 1 0 -10.6 0ZM489.6 251.4a5.3 5.3 0 1 0 10.6 0a5.3 5.3 0 1 0 -10.6 0ZM490.1 252.2a5.3 5.3 0 1 0 10.6 0a5.3 5.3 0 1 0 -10.6 0ZM490.6 251.7a5.3 5.3 0 1 0 10.6 0a5.3 5.3 0 1 0 -10.6 0ZM491.1 250.9a5.3 5.3 0 1 0 10.6 0a5.3 5.3 0 1 0 -10.6 0ZM491.6 250.6a5.3 5.3 0 1 0 10.6 0a5.3 5.3 0 1 0 -10.6 0ZM492.1 249.4a5.3 5.3 0 1 0 10.6 0a5.3 5.3 0 1 0 -10.6 0ZM492.6 250.2a5.3 5.3 0 1 0 10.6 0a5.3 5.3 0 1 0 -10.6 0ZM493.1 249.8a5.3 5.3 0 1 0 10.6 0a5.3 5.3 0 1 0 -10.6 0ZM493.6 247.6a5.3 5.3 0 1 0 10.6 0a5.3 5.3 0 1 0 -10.6 0ZM494.1 248.2a5.3 5.3 0 1 0 10.6 0a5.3 5.3 0 1 0 -10.6 0ZM494.6 248.1a5.3 5.3 0 1 0 10.6 0a5.3 5.3 0 1 0 -10.6 0ZM495.1 248.4a5.3 5.3 0 1 0 10.6 0a5.3 5.3 0 1 0 -10.6 0ZM495.6 246.6a5.3 5.3 0 1 0 10.6 0a5.3 5.3 0 1 0 -10.6 0ZM496.1 246.6a5.3 5.3 0 1 0 10.6 0a5.3 5.3 0 1 0 -10.6 0ZM496.6 247.0a5.3 5.3 0 1 0 10.6 0a5.3 5.3 0 1 0 -10.6 0ZM497.1 246.2a5.3 5.3 0 1 0 10.6 0a5.3 5.3 0 1 0 -10.6 0ZM497.6 245.4a5.3 5.3 0 1 0 10.6 0a5.3 5.3 0 1 0 -10.6 0ZM498.1 244.8a5.3 5.3 0 1 0 10.6 0a5.3 5.3 0 1 0 -10.6 0ZM498.6 244.6a5.3 5.3 0 1 0 10.6 0a5.3 5.3 0 1 0 -10.6 0ZM499.1 243.8a5.3 5.3 0 1 0 10.6 0a5.3 5.3 0 1 0 -10.6 0ZM499.6 244.3a5.3 5.3 0 1 0 10.6 0a5.3 5.3 0 1 0 -10.6 0ZM500.1 243.0a5.3 5.3 0 1 0 10.6 0a5.3 5.3 0 1 0 -10.6 0ZM500.6 243.4a5.3 5.3 0 1 0 10.6 0a5.3 5.3 0 1 0 -10.6 0ZM501.1 243.4a5.3 5.3 0 1 0 10.6 0a5.3 5.3 0 1 0 -10.6 0ZM501.6 243.2a5.3 5.3 0 1 0 10.6 0a5.3 5.3 0 1 0 -10.6 0ZM502.1 242.2a5.3 5.3 0 1 0 10.6 0a5.3 5.3 0 1 0 -10.6 0ZM502.6 241.7a5.3 5.3 0 1 0 10.6 0a5.3 5.3 0 1 0 -10.6 0ZM503.1 241.4a5.3 5.3 0 1 0 10.6 0a5.3 5.3 0 1 0 -10.6 0ZM503.6 240.8a5.3 5.3 0 1 0 10.6 0a5.3 5.3 0 1 0 -10.6 0ZM504.1 241.1a5.3 5.3 0 1 0 10.6 0a5.3 5.3 0 1 0 -10.6 0ZM504.6 240.2a5.3 5.3 0 1 0 10.6 0a5.3 5.3 0 1 0 -10.6 0ZM505.1 240.7a5.3 5.3 0 1 0 10.6 0a5.3 5.3 0 1 0 -10.6 0ZM505.6 240.7a5.3 5.3 0 1 0 10.6 0a5.3 5.3 0 1 0 -10.6 0ZM506.1 238.4a5.3 5.3 0 1 0 10.6 0a5.3 5.3 0 1 0 -10.6 0ZM506.6 238.5a5.3 5.3 0 1 0 10.6 0a5.3 5.3 0 1 0 -10.6 0ZM507.1 237.5a5.3 5.3 0 1 0 10.6 0a5.3 5.3 0 1 0 -10.6 0ZM507.6 238.1a5.3 5.3 0 1 0 10.6 0a5.3 5.3 0 1 0 -10.6 0ZM508.1 237.5a5.3 5.3 0 1 0 10.6 0a5.3 5.3 0 1 0 -10.6 0ZM508.6 236.8a5.3 5.3 0 1 0 10.6 0a5.3 5.3 0 1 0 -10.6 0ZM509.1 235.8a5.3 5.3 0 1 0 10.6 0a5.3 5.3 0 1 0 -10.6 0ZM509.6 236.0a5.3 5.3 0 1 0 10.6 0a5.3 5.3 0 1 0 -10.6 0ZM510.1 236.6a5.3 5.3 0 1 0 10.6 0a5.3 5.3 0 1 0 -10.6 0ZM510.6 236.1a5.3 5.3 0 1 0 10.6 0a5.3 5.3 0 1 0 -10.6 0ZM511.1 235.1a5.3 5.3 0 1 0 10.6 0a5.3 5.3 0 1 0 -10.6 0ZM511.6 234.1a5.3 5.3 0 1 0 10.6 0a5.3 5.3 0 1 0 -10.6 0ZM512.1 234.0a5.3 5.3 0 1 0 10.6 0a5.3 5.3 0 1 0 -10.6 0ZM512.6 233.1a5.3 5.3 0 1 0 10.6 0a5.3 5.3 0 1 0 -10.6 0ZM513.1 232.6a5.3 5.3 0 1 0 10.6 0a5.3 5.3 0 1 0 -10.6 0ZM513.6 232.4a5.3 5.3 0 1 0 10.6 0a5.3 5.3 0 1 0 -10.6 0ZM514.1 232.8a5.3 5.3 0 1 0 10.6 0a5.3 5.3 0 1 0 -10.6 0ZM514.6 232.3a5.3 5.3 0 1 0 10.6 0a5.3 5.3 0 1 0 -10.6 0ZM515.1 231.8a5.3 5.3 0 1 0 10.6 0a5.3 5.3 0 1 0 -10.6 0ZM515.6 230.8a5.3 5.3 0 1 0 10.6 0a5.3 5.3 0 1 0 -10.6 0ZM516.1 230.2a5.3 5.3 0 1 0 10.6 0a5.3 5.3 0 1 0 -10.6 0ZM516.6 231.2a5.3 5.3 0 1 0 10.6 0a5.3 5.3 0 1 0 -10.6 0ZM517.1 230.1a5.3 5.3 0 1 0 10.6 0a5.3 5.3 0 1 0 -10.6 0ZM517.6 230.5a5.3 5.3 0 1 0 10.6 0a5.3 5.3 0 1 0 -10.6 0ZM518.1 229.0a5.3 5.3 0 1 0 10.6 0a5.3 5.3 0 1 0 -10.6 0ZM518.6 229.4a5.3 5.3 0 1 0 10.6 0a5.3 5.3 0 1 0 -10.6 0ZM519.1 228.6a5.3 5.3 0 1 0 10.6 0a5.3 5.3 0 1 0 -10.6 0ZM519.6 228.0a5.3 5.3 0 1 0 10.6 0a5.3 5.3 0 1 0 -10.6 0ZM520.1 227.6a5.3 5.3 0 1 0 10.6 0a5.3 5.3 0 1 0 -10.6 0ZM520.6 228.5a5.3 5.3 0 1 0 10.6 0a5.3 5.3 0 1 0 -10.6 0ZM521.1 227.5a5.3 5.3 0 1 0 10.6 0a5.3 5.3 0 1 0 -10.6 0ZM521.6 226.4a5.3 5.3 0 1 0 10.6 0a5.3 5.3 0 1 0 -10.6 0ZM522.1 226.0a5.3 5.3 0 1 0 10.6 0a5.3 5.3 0 1 0 -10.6 0ZM522.6 224.8a5.3 5.3 0 1 0 10.6 0a5.3 5.3 0 1 0 -10.6 0ZM523.1 226.3a5.3 5.3 0 1 0 10.6 0a5.3 5.3 0 1 0 -10.6 0ZM523.6 225.6a5.3 5.3 0 1 0 10.6 0a5.3 5.3 0 1 0 -10.6 0ZM524.1 224.5a5.3 5.3 0 1 0 10.6 0a5.3 5.3 0 1 0 -10.6 0ZM524.6 224.6a5.3 5.3 0 1 0 10.6 0a5.3 5.3 0 1 0 -10.6 0ZM525.1 222.4a5.3 5.3 0 1 0 10.6 0a5.3 5.3 0 1 0 -10.6 0ZM525.6 223.9a5.3 5.3 0 1 0 10.6 0a5.3 5.3 0 1 0 -10.6 0ZM526.1 223.1a5.3 5.3 0 1 0 10.6 0a5.3 5.3 0 1 0 -10.6 0ZM526.6 222.5a5.3 5.3 0 1 0 10.6 0a5.3 5.3 0 1 0 -10.6 0ZM527.1 222.5a5.3 5.3 0 1 0 10.6 0a5.3 5.3 0 1 0 -10.6 0ZM527.6 221.8a5.3 5.3 0 1 0 10.6 0a5.3 5.3 0 1 0 -10.6 0ZM528.1 220.6a5.3 5.3 0 1 0 10.6 0a5.3 5.3 0 1 0 -10.6 0ZM528.6 220.4a5.3 5.3 0 1 0 10.6 0a5.3 5.3 0 1 0 -10.6 0ZM529.1 220.1a5.3 5.3 0 1 0 10.6 0a5.3 5.3 0 1 0 -10.6 0ZM529.6 220.2a5.3 5.3 0 1 0 10.6 0a5.3 5.3 0 1 0 -10.6 0ZM530.1 219.2a5.3 5.3 0 1 0 10.6 0a5.3 5.3 0 1 0 -10.6 0ZM530.6 218.4a5.3 5.3 0 1 0 10.6 0a5.3 5.3 0 1 0 -10.6 0ZM531.1 218.4a5.3 5.3 0 1 0 10.6 0a5.3 5.3 0 1 0 -10.6 0ZM531.6 216.9a5.3 5.3 0 1 0 10.6 0a5.3 5.3 0 1 0 -10.6 0ZM532.1 218.4a5.3 5.3 0 1 0 10.6 0a5.3 5.3 0 1 0 -10.6 0ZM532.6 216.9a5.3 5.3 0 1 0 10.6 0a5.3 5.3 0 1 0 -10.6 0ZM533.1 215.7a5.3 5.3 0 1 0 10.6 0a5.3 5.3 0 1 0 -10.6 0ZM533.6 215.5a5.3 5.3 0 1 0 10.6 0a5.3 5.3 0 1 0 -10.6 0ZM534.1 215.6a5.3 5.3 0 1 0 10.6 0a5.3 5.3 0 1 0 -10.6 0ZM534.6 215.0a5.3 5.3 0 1 0 10.6 0a5.3 5.3 0 1 0 -10.6 0ZM535.1 215.5a5.3 5.3 0 1 0 10.6 0a5.3 5.3 0 1 0 -10.6 0ZM535.6 213.6a5.3 5.3 0 1 0 10.6 0a5.3 5.3 0 1 0 -10.6 0ZM536.1 214.9a5.3 5.3 0 1 0 10.6 0a5.3 5.3 0 1 0 -10.6 0ZM536.6 213.6a5.3 5.3 0 1 0 10.6 0a5.3 5.3 0 1 0 -10.6 0ZM537.1 213.6a5.3 5.3 0 1 0 10.6 0a5.3 5.3 0 1 0 -10.6 0ZM537.6 213.7a5.3 5.3 0 1 0 10.6 0a5.3 5.3 0 1 0 -10.6 0ZM538.1 211.8a5.3 5.3 0 1 0 10.6 0a5.3 5.3 0 1 0 -10.6 0ZM538.6 211.3a5.3 5.3 0 1 0 10.6 0a5.3 5.3 0 1 0 -10.6 0ZM539.1 211.2a5.3 5.3 0 1 0 10.6 0a5.3 5.3 0 1 0 -10.6 0ZM539.6 210.1a5.3 5.3 0 1 0 10.6 0a5.3 5.3 0 1 0 -10.6 0ZM540.1 209.7a5.3 5.3 0 1 0 10.6 0a5.3 5.3 0 1 0 -10.6 0ZM540.6 210.3a5.3 5.3 0 1 0 10.6 0a5.3 5.3 0 1 0 -10.6 0ZM541.1 210.4a5.3 5.3 0 1 0 10.6 0a5.3 5.3 0 1 0 -10.6 0ZM541.6 208.8a5.3 5.3 0 1 0 10.6 0a5.3 5.3 0 1 0 -10.6 0ZM542.1 209.0a5.3 5.3 0 1 0 10.6 0a5.3 5.3 0 1 0 -10.6 0ZM542.6 210.1a5.3 5.3 0 1 0 10.6 0a5.3 5.3 0 1 0 -10.6 0ZM543.1 208.1a5.3 5.3 0 1 0 10.6 0a5.3 5.3 0 1 0 -10.6 0ZM543.6 207.4a5.3 5.3 0 1 0 10.6 0a5.3 5.3 0 1 0 -10.6 0ZM544.1 206.8a5.3 5.3 0 1 0 10.6 0a5.3 5.3 0 1 0 -10.6 0ZM544.7 206.5a5.3 5.3 0 1 0 10.6 0a5.3 5.3 0 1 0 -10.6 0ZM545.2 205.7a5.3 5.3 0 1 0 10.6 0a5.3 5.3 0 1 0 -10.6 0ZM545.7 205.7a5.3 5.3 0 1 0 10.6 0a5.3 5.3 0 1 0 -10.6 0ZM546.2 204.9a5.3 5.3 0 1 0 10.6 0a5.3 5.3 0 1 0 -10.6 0ZM546.7 204.7a5.3 5.3 0 1 0 10.6 0a5.3 5.3 0 1 0 -10.6 0ZM547.2 203.8a5.3 5.3 0 1 0 10.6 0a5.3 5.3 0 1 0 -10.6 0ZM547.7 203.3a5.3 5.3 0 1 0 10.6 0a5.3 5.3 0 1 0 -10.6 0ZM548.2 202.3a5.3 5.3 0 1 0 10.6 0a5.3 5.3 0 1 0 -10.6 0ZM548.7 201.4a5.3 5.3 0 1 0 10.6 0a5.3 5.3 0 1 0 -10.6 0ZM549.2 201.5a5.3 5.3 0 1 0 10.6 0a5.3 5.3 0 1 0 -10.6 0ZM549.7 200.9a5.3 5.3 0 1 0 10.6 0a5.3 5.3 0 1 0 -10.6 0ZM550.2 200.9a5.3 5.3 0 1 0 10.6 0a5.3 5.3 0 1 0 -10.6 0ZM550.7 200.2a5.3 5.3 0 1 0 10.6 0a5.3 5.3 0 1 0 -10.6 0ZM551.2 199.4a5.3 5.3 0 1 0 10.6 0a5.3 5.3 0 1 0 -10.6 0ZM551.7 200.2a5.3 5.3 0 1 0 10.6 0a5.3 5.3 0 1 0 -10.6 0ZM552.2 198.7a5.3 5.3 0 1 0 10.6 0a5.3 5.3 0 1 0 -10.6 0ZM552.7 198.7a5.3 5.3 0 1 0 10.6 0a5.3 5.3 0 1 0 -10.6 0ZM553.2 197.1a5.3 5.3 0 1 0 10.6 0a5.3 5.3 0 1 0 -10.6 0ZM553.7 197.5a5.3 5.3 0 1 0 10.6 0a5.3 5.3 0 1 0 -10.6 0ZM554.2 197.1a5.3 5.3 0 1 0 10.6 0a5.3 5.3 0 1 0 -10.6 0ZM554.7 196.2a5.3 5.3 0 1 0 10.6 0a5.3 5.3 0 1 0 -10.6 0ZM555.2 194.9a5.3 5.3 0 1 0 10.6 0a5.3 5.3 0 1 0 -10.6 0ZM555.7 195.4a5.3 5.3 0 1 0 10.6 0a5.3 5.3 0 1 0 -10.6 0ZM556.2 194.0a5.3 5.3 0 1 0 10.6 0a5.3 5.3 0 1 0 -10.6 0ZM556.7 192.9a5.3 5.3 0 1 0 10.6 0a5.3 5.3 0 1 0 -10.6 0ZM557.2 192.2a5.3 5.3 0 1 0 10.6 0a5.3 5.3 0 1 0 -10.6 0ZM557.7 192.5a5.3 5.3 0 1 0 10.6 0a5.3 5.3 0 1 0 -10.6 0ZM558.2 191.8a5.3 5.3 0 1 0 10.6 0a5.3 5.3 0 1 0 -10.6 0ZM558.7 192.0a5.3 5.3 0 1 0 10.6 0a5.3 5.3 0 1 0 -10.6 0ZM559.2 191.3a5.3 5.3 0 1 0 10.6 0a5.3 5.3 0 1 0 -10.6 0ZM559.7 191.2a5.3 5.3 0 1 0 10.6 0a5.3 5.3 0 1 0 -10.6 0ZM560.2 190.3a5.3 5.3 0 1 0 10.6 0a5.3 5.3 0 1 0 -10.6 0ZM560.7 189.9a5.3 5.3 0 1 0 10.6 0a5.3 5.3 0 1 0 -10.6 0ZM561.2 189.3a5.3 5.3 0 1 0 10.6 0a5.3 5.3 0 1 0 -10.6 0ZM561.7 188.3a5.3 5.3 0 1 0 10.6 0a5.3 5.3 0 1 0 -10.6 0ZM562.2 187.6a5.3 5.3 0 1 0 10.6 0a5.3 5.3 0 1 0 -10.6 0ZM562.7 187.3a5.3 5.3 0 1 0 10.6 0a5.3 5.3 0 1 0 -10.6 0ZM563.2 187.4a5.3 5.3 0 1 0 10.6 0a5.3 5.3 0 1 0 -10.6 0ZM563.7 186.3a5.3 5.3 0 1 0 10.6 0a5.3 5.3 0 1 0 -10.6 0ZM564.2 186.3a5.3 5.3 0 1 0 10.6 0a5.3 5.3 0 1 0 -10.6 0Z" fill="#ff0000" stroke="#ff0000" stroke-width="1.7"/><path d="M565.3 185.6a5.3 5.3 0 1 0 10.6 0a5.3 5.3 0 1 0 -10.6 0Z" fill="#fff" stroke="#ff0000" stroke-width="1.9"/><path d="M170.5 536.5L178.2 529.3L188.4 517.4L198.2 505.5L210.1 495.3L215.2 492.3L221.5 489.3L227.5 486.0L234.3 487.0L240.8 482.5L250.9 471.7L262.9 464.8L274.1 462.6L283.0 451.7L293.5 447.0" fill="none" stroke="#ff0000" stroke-width="1.6" stroke-dasharray="10 4"/><path d="M293.4 447.3L295.6 445.1L297.7 442.1L299.2 439.7L300.5 437.2L303.4 436.5L305.8 436.8L308.5 436.0L310.9 435.1L312.8 435.0L315.3 433.2L318.1 431.7L320.6 429.9L323.2 428.0L326.0 427.1L328.9 426.9L331.6 427.0L333.8 425.5L335.7 423.6L337.2 421.0L338.3 418.4L339.5 415.9L342.3 415.1L345.0 414.9L347.8 413.1L349.5 412.0L351.3 409.1L353.2 408.5L355.3 406.5L357.5 404.5L359.8 403.3L361.0 402.6L362.7 399.8L365.1 398.0L367.1 397.1L369.3 395.2L371.6 394.4L373.9 391.1L376.0 390.7L378.0 388.3L379.9 387.0L381.9 386.1L384.7 384.3L386.6 383.7L389.3 382.3L391.3 381.7L393.7 380.3L395.3 377.9L397.9 375.0L399.8 373.9L402.0 372.9L404.5 372.1L407.2 370.8L409.3 369.2L412.0 367.1L413.7 364.9L416.0 363.5L418.2 361.2L420.2 359.4L422.2 357.6L424.0 356.9L425.7 355.4L428.1 352.9L429.6 351.3L432.1 350.6L434.7 349.5L437.6 347.2L438.9 345.2L441.2 344.0L443.7 343.1L445.6 340.7L448.0 339.0L450.1 338.2L452.3 335.7L454.6 334.1L457.0 331.9L458.7 330.5L460.8 329.5L462.8 326.6L465.2 325.0L467.6 323.5L470.2 321.7L471.7 319.6L474.4 317.5L476.4 315.3L478.6 313.1L481.3 311.5L483.0 309.6L485.7 307.1L487.6 305.7L488.9 303.4L491.4 301.5L492.7 299.2L495.1 298.6L496.8 295.9L499.6 294.4L501.9 293.0L504.2 289.9L505.9 288.2L508.0 287.5L510.3 285.9L512.4 283.4L514.3 280.7L516.2 278.8L518.6 276.4L520.4 273.1L522.7 272.5L525.3 270.0L527.7 267.6L530.0 265.5L532.2 264.0L533.9 261.6L536.3 259.4L538.7 258.2L540.4 255.9L543.3 254.6L544.8 252.8L547.4 250.7L549.9 248.8L551.6 247.8L553.3 245.1L555.8 243.3L557.5 241.6L559.1 239.9L561.0 238.5L562.6 236.7L565.1 234.8L566.2 233.6L568.5 232.0L570.5 229.9L572.5 228.7L574.6 226.3L576.2 224.6L578.9 223.5L580.5 221.6L583.1 219.4L584.8 218.6L587.1 216.8L588.8 214.8L590.5 212.9L593.0 211.0L595.6 209.6L597.3 208.3L599.9 206.0L601.7 204.6L603.2 202.8L605.7 201.3L607.6 199.8L609.7 198.0L611.6 196.8L613.3 194.4L615.6 192.5L617.5 189.0L619.7 187.9" fill="none" stroke="#ff0000" stroke-width="2" stroke-linecap="round" stroke-linejoin="round" stroke-dasharray="4.5 4.5 0.5 4.5"/>
</g>
<g stroke="#000" stroke-width="4" fill="none" stroke-linecap="round">
<rect x="116" y="105" width="531" height="490.5" stroke-linejoin="round"/>
<path d="M116 253.7H126M116 422.6H126"/>
<path d="M647 253.8H636.6M647 422.7H636.6"/>
<path d="M303.2 105V114.6M486.1 105V114.6"/>
<path d="M311.3 599.7V589.6M502.2 599.7V589.6"/>
</g>
<g clip-path="url(#cb)">
<path shape-rendering="crispEdges" d="M812.6 564.3L818.9 557.4L825.2 564.3L818.9 571.2ZM840.9 528.6L847.2 521.7L853.5 528.6L847.2 535.5ZM858.7 512.8L865.0 505.9L871.3 512.8L865.0 519.7ZM867.9 502.9L874.2 496.0L880.5 502.9L874.2 509.8ZM877.1 495.0L883.4 488.1L889.7 495.0L883.4 501.9ZM885.6 491.5L891.9 484.6L898.2 491.5L891.9 498.4ZM892.7 488.0L899.0 481.1L905.3 488.0L899.0 494.9ZM897.6 485.4L903.9 478.5L910.2 485.4L903.9 492.3ZM902.5 483.6L908.8 476.7L915.1 483.6L908.8 490.5ZM906.9 477.1L913.2 470.2L919.5 477.1L913.2 484.0ZM910.9 476.0L917.2 469.1L923.5 476.0L917.2 482.9ZM914.5 471.0L920.8 464.1L927.1 471.0L920.8 477.9ZM917.8 468.2L924.1 461.3L930.4 468.2L924.1 475.1ZM920.9 466.8L927.2 459.9L933.5 466.8L927.2 473.7ZM923.7 465.6L930.0 458.7L936.3 465.6L930.0 472.5ZM926.4 465.4L932.7 458.5L939.0 465.4L932.7 472.3Z" fill="none" stroke="#0000ff" stroke-width="1.9"/><path shape-rendering="crispEdges" d="M928.9 465.5L935.2 458.6L941.5 465.5L935.2 472.4ZM931.3 463.6L937.6 456.7L943.9 463.6L937.6 470.5ZM933.5 462.2L939.8 455.3L946.1 462.2L939.8 469.1ZM935.7 457.3L942.0 450.4L948.3 457.3L942.0 464.2ZM937.7 456.3L944.0 449.4L950.3 456.3L944.0 463.2ZM939.6 459.8L945.9 452.9L952.2 459.8L945.9 466.7ZM941.5 457.8L947.8 450.9L954.1 457.8L947.8 464.7ZM943.2 458.6L949.5 451.7L955.8 458.6L949.5 465.5ZM944.9 456.2L951.2 449.3L957.5 456.2L951.2 463.1ZM946.6 451.8L952.9 444.9L959.2 451.8L952.9 458.7ZM948.1 454.4L954.4 447.5L960.7 454.4L954.4 461.3ZM949.6 452.6L955.9 445.7L962.2 452.6L955.9 459.5ZM951.1 451.2L957.4 444.3L963.7 451.2L957.4 458.1ZM952.5 448.8L958.8 441.9L965.1 448.8L958.8 455.7ZM953.9 449.3L960.2 442.4L966.5 449.3L960.2 456.2ZM955.2 448.0L961.5 441.1L967.8 448.0L961.5 454.9ZM956.5 448.5L962.8 441.6L969.1 448.5L962.8 455.4ZM957.7 446.3L964.0 439.4L970.3 446.3L964.0 453.2ZM958.9 447.5L965.2 440.6L971.5 447.5L965.2 454.4ZM960.1 443.0L966.4 436.1L972.7 443.0L966.4 449.9ZM961.2 443.9L967.5 437.0L973.8 443.9L967.5 450.8ZM962.3 443.1L968.6 436.2L974.9 443.1L968.6 450.0ZM963.4 440.1L969.7 433.2L976.0 440.1L969.7 447.0ZM964.5 438.8L970.8 431.9L977.1 438.8L970.8 445.7ZM965.5 441.3L971.8 434.4L978.1 441.3L971.8 448.2ZM966.5 439.7L972.8 432.8L979.1 439.7L972.8 446.6ZM967.5 437.9L973.8 431.0L980.1 437.9L973.8 444.8ZM968.4 437.9L974.7 431.0L981.0 437.9L974.7 444.8ZM969.3 435.6L975.6 428.7L981.9 435.6L975.6 442.5ZM970.3 436.2L976.6 429.3L982.9 436.2L976.6 443.1ZM971.2 434.2L977.5 427.3L983.8 434.2L977.5 441.1ZM972.0 434.7L978.3 427.8L984.6 434.7L978.3 441.6ZM972.9 435.1L979.2 428.2L985.5 435.1L979.2 442.0ZM973.7 432.5L980.0 425.6L986.3 432.5L980.0 439.4ZM974.5 433.7L980.8 426.8L987.1 433.7L980.8 440.6ZM975.3 430.3L981.6 423.4L987.9 430.3L981.6 437.2ZM976.1 430.8L982.4 423.9L988.7 430.8L982.4 437.7ZM976.9 428.7L983.2 421.8L989.5 428.7L983.2 435.6ZM977.7 430.0L984.0 423.1L990.3 430.0L984.0 436.9ZM978.4 429.8L984.7 422.9L991.0 429.8L984.7 436.7ZM979.2 428.9L985.5 422.0L991.8 428.9L985.5 435.8ZM979.9 428.2L986.2 421.3L992.5 428.2L986.2 435.1ZM980.6 430.2L986.9 423.3L993.2 430.2L986.9 437.1ZM981.3 429.8L987.6 422.9L993.9 429.8L987.6 436.7ZM982.0 425.3L988.3 418.4L994.6 425.3L988.3 432.2ZM982.7 428.4L989.0 421.5L995.3 428.4L989.0 435.3ZM983.3 423.6L989.6 416.7L995.9 423.6L989.6 430.5ZM984.0 424.7L990.3 417.8L996.6 424.7L990.3 431.6ZM984.6 425.0L990.9 418.1L997.2 425.0L990.9 431.9ZM985.2 425.0L991.5 418.1L997.8 425.0L991.5 431.9ZM985.9 422.8L992.2 415.9L998.5 422.8L992.2 429.7ZM986.5 422.9L992.8 416.0L999.1 422.9L992.8 429.8ZM987.1 423.7L993.4 416.8L999.7 423.7L993.4 430.6ZM987.7 422.1L994.0 415.2L1000.3 422.1L994.0 429.0ZM988.3 421.8L994.6 414.9L1000.9 421.8L994.6 428.7ZM988.9 423.3L995.2 416.4L1001.5 423.3L995.2 430.2ZM989.4 423.3L995.7 416.4L1002.0 423.3L995.7 430.2ZM990.0 421.4L996.3 414.5L1002.6 421.4L996.3 428.3ZM990.6 421.1L996.9 414.2L1003.2 421.1L996.9 428.0ZM991.1 420.7L997.4 413.8L1003.7 420.7L997.4 427.6ZM991.6 419.7L997.9 412.8L1004.2 419.7L997.9 426.6ZM992.2 419.2L998.5 412.3L1004.8 419.2L998.5 426.1ZM992.7 418.0L999.0 411.1L1005.3 418.0L999.0 424.9ZM993.2 420.2L999.5 413.3L1005.8 420.2L999.5 427.1ZM993.8 418.7L1000.1 411.8L1006.4 418.7L1000.1 425.6ZM994.3 418.2L1000.6 411.3L1006.9 418.2L1000.6 425.1ZM994.8 417.9L1001.1 411.0L1007.4 417.9L1001.1 424.8ZM995.3 415.9L1001.6 409.0L1007.9 415.9L1001.6 422.8ZM995.8 418.6L1002.1 411.7L1008.4 418.6L1002.1 425.5ZM996.3 417.5L1002.6 410.6L1008.9 417.5L1002.6 424.4ZM996.8 415.7L1003.1 408.8L1009.4 415.7L1003.1 422.6ZM997.3 415.9L1003.6 409.0L1009.9 415.9L1003.6 422.8ZM997.8 414.6L1004.1 407.7L1010.4 414.6L1004.1 421.5ZM998.3 416.1L1004.6 409.2L1010.9 416.1L1004.6 423.0ZM998.8 417.0L1005.1 410.1L1011.4 417.0L1005.1 423.9ZM999.3 416.5L1005.6 409.6L1011.9 416.5L1005.6 423.4ZM999.8 413.8L1006.1 406.9L1012.4 413.8L1006.1 420.7ZM1000.3 413.1L1006.6 406.2L1012.9 413.1L1006.6 420.0ZM1000.8 415.0L1007.1 408.1L1013.4 415.0L1007.1 421.9ZM1001.3 415.7L1007.6 408.8L1013.9 415.7L1007.6 422.6ZM1001.8 413.8L1008.1 406.9L1014.4 413.8L1008.1 420.7ZM1002.3 414.0L1008.6 407.1L1014.9 414.0L1008.6 420.9ZM1002.8 411.6L1009.1 404.7L1015.4 411.6L1009.1 418.5ZM1003.3 412.3L1009.6 405.4L1015.9 412.3L1009.6 419.2ZM1003.8 412.2L1010.1 405.3L1016.4 412.2L1010.1 419.1ZM1004.3 411.2L1010.6 404.3L1016.9 411.2L1010.6 418.1ZM1004.8 411.1L1011.1 404.2L1017.4 411.1L1011.1 418.0ZM1005.3 411.2L1011.6 404.3L1017.9 411.2L1011.6 418.1ZM1005.8 409.7L1012.1 402.8L1018.4 409.7L1012.1 416.6ZM1006.3 408.9L1012.6 402.0L1018.9 408.9L1012.6 415.8ZM1006.8 410.3L1013.1 403.4L1019.4 410.3L1013.1 417.2ZM1007.3 409.1L1013.6 402.2L1019.9 409.1L1013.6 416.0ZM1007.8 407.5L1014.1 400.6L1020.4 407.5L1014.1 414.4ZM1008.3 408.4L1014.6 401.5L1020.9 408.4L1014.6 415.3ZM1008.8 407.4L1015.1 400.5L1021.4 407.4L1015.1 414.3ZM1009.3 407.9L1015.6 401.0L1021.9 407.9L1015.6 414.8ZM1009.8 406.4L1016.1 399.5L1022.4 406.4L1016.1 413.3ZM1010.3 405.6L1016.6 398.7L1022.9 405.6L1016.6 412.5ZM1010.8 404.8L1017.1 397.9L1023.4 404.8L1017.1 411.7ZM1011.3 405.5L1017.6 398.6L1023.9 405.5L1017.6 412.4ZM1011.8 405.2L1018.1 398.3L1024.4 405.2L1018.1 412.1ZM1012.3 406.7L1018.6 399.8L1024.9 406.7L1018.6 413.6ZM1012.8 404.4L1019.1 397.5L1025.4 404.4L1019.1 411.3ZM1013.3 403.0L1019.6 396.1L1025.9 403.0L1019.6 409.9ZM1013.8 405.7L1020.1 398.8L1026.4 405.7L1020.1 412.6ZM1014.3 401.6L1020.6 394.7L1026.9 401.6L1020.6 408.5ZM1014.8 404.6L1021.1 397.7L1027.4 404.6L1021.1 411.5ZM1015.3 402.2L1021.6 395.3L1027.9 402.2L1021.6 409.1ZM1015.8 403.7L1022.1 396.8L1028.4 403.7L1022.1 410.6ZM1016.3 401.7L1022.6 394.8L1028.9 401.7L1022.6 408.6ZM1016.8 402.0L1023.1 395.1L1029.4 402.0L1023.1 408.9ZM1017.3 401.1L1023.6 394.2L1029.9 401.1L1023.6 408.0ZM1017.8 400.5L1024.1 393.6L1030.4 400.5L1024.1 407.4ZM1018.3 400.5L1024.6 393.6L1030.9 400.5L1024.6 407.4ZM1018.8 399.2L1025.1 392.3L1031.4 399.2L1025.1 406.1ZM1019.3 400.1L1025.6 393.2L1031.9 400.1L1025.6 407.0ZM1019.8 398.4L1026.1 391.5L1032.4 398.4L1026.1 405.3ZM1020.3 398.5L1026.6 391.6L1032.9 398.5L1026.6 405.4ZM1020.8 398.6L1027.1 391.7L1033.4 398.6L1027.1 405.5ZM1021.3 398.2L1027.6 391.3L1033.9 398.2L1027.6 405.1ZM1021.8 398.7L1028.1 391.8L1034.4 398.7L1028.1 405.6ZM1022.3 396.4L1028.6 389.5L1034.9 396.4L1028.6 403.3ZM1022.8 395.8L1029.1 388.9L1035.4 395.8L1029.1 402.7ZM1023.3 395.0L1029.6 388.1L1035.9 395.0L1029.6 401.9ZM1023.8 395.3L1030.1 388.4L1036.4 395.3L1030.1 402.2ZM1024.3 395.6L1030.6 388.7L1036.9 395.6L1030.6 402.5ZM1024.8 394.0L1031.1 387.1L1037.4 394.0L1031.1 400.9ZM1025.3 393.7L1031.6 386.8L1037.9 393.7L1031.6 400.6ZM1025.8 393.0L1032.1 386.1L1038.4 393.0L1032.1 399.9ZM1026.3 393.5L1032.6 386.6L1038.9 393.5L1032.6 400.4ZM1026.8 391.2L1033.1 384.3L1039.4 391.2L1033.1 398.1ZM1027.3 393.2L1033.6 386.3L1039.9 393.2L1033.6 400.1ZM1027.8 393.3L1034.1 386.4L1040.4 393.3L1034.1 400.2ZM1028.3 391.3L1034.6 384.4L1040.9 391.3L1034.6 398.2ZM1028.8 391.7L1035.1 384.8L1041.4 391.7L1035.1 398.6ZM1029.3 390.7L1035.6 383.8L1041.9 390.7L1035.6 397.6ZM1029.8 392.1L1036.1 385.2L1042.4 392.1L1036.1 399.0ZM1030.3 391.3L1036.6 384.4L1042.9 391.3L1036.6 398.2ZM1030.8 392.8L1037.1 385.9L1043.4 392.8L1037.1 399.7ZM1031.3 389.4L1037.6 382.5L1043.9 389.4L1037.6 396.3ZM1031.8 388.4L1038.1 381.5L1044.4 388.4L1038.1 395.3ZM1032.3 388.5L1038.6 381.6L1044.9 388.5L1038.6 395.4ZM1032.8 387.4L1039.1 380.5L1045.4 387.4L1039.1 394.3ZM1033.3 388.3L1039.6 381.4L1045.9 388.3L1039.6 395.2ZM1033.8 388.0L1040.1 381.1L1046.4 388.0L1040.1 394.9ZM1034.3 388.3L1040.6 381.4L1046.9 388.3L1040.6 395.2ZM1034.8 387.4L1041.1 380.5L1047.4 387.4L1041.1 394.3ZM1035.3 386.5L1041.6 379.6L1047.9 386.5L1041.6 393.4ZM1035.8 387.5L1042.1 380.6L1048.4 387.5L1042.1 394.4ZM1036.3 386.3L1042.6 379.4L1048.9 386.3L1042.6 393.2ZM1036.8 386.3L1043.1 379.4L1049.4 386.3L1043.1 393.2ZM1037.3 384.2L1043.6 377.3L1049.9 384.2L1043.6 391.1ZM1037.8 384.0L1044.1 377.1L1050.4 384.0L1044.1 390.9ZM1038.3 383.8L1044.6 376.9L1050.9 383.8L1044.6 390.7ZM1038.8 383.5L1045.1 376.6L1051.4 383.5L1045.1 390.4ZM1039.3 381.6L1045.6 374.7L1051.9 381.6L1045.6 388.5ZM1039.8 384.3L1046.1 377.4L1052.4 384.3L1046.1 391.2ZM1040.3 382.5L1046.6 375.6L1052.9 382.5L1046.6 389.4ZM1040.8 383.2L1047.1 376.3L1053.4 383.2L1047.1 390.1ZM1041.3 382.6L1047.6 375.7L1053.9 382.6L1047.6 389.5ZM1041.8 382.8L1048.1 375.9L1054.4 382.8L1048.1 389.7ZM1042.3 381.6L1048.6 374.7L1054.9 381.6L1048.6 388.5ZM1042.8 380.9L1049.1 374.0L1055.4 380.9L1049.1 387.8ZM1043.3 379.6L1049.6 372.7L1055.9 379.6L1049.6 386.5ZM1043.8 380.1L1050.1 373.2L1056.4 380.1L1050.1 387.0ZM1044.3 381.2L1050.6 374.3L1056.9 381.2L1050.6 388.1ZM1044.9 377.8L1051.2 370.9L1057.5 377.8L1051.2 384.7ZM1045.4 378.3L1051.7 371.4L1058.0 378.3L1051.7 385.2ZM1045.9 378.5L1052.2 371.6L1058.5 378.5L1052.2 385.4ZM1046.4 379.2L1052.7 372.3L1059.0 379.2L1052.7 386.1ZM1046.9 376.4L1053.2 369.5L1059.5 376.4L1053.2 383.3ZM1047.4 376.6L1053.7 369.7L1060.0 376.6L1053.7 383.5ZM1047.9 376.8L1054.2 369.9L1060.5 376.8L1054.2 383.7ZM1048.4 379.2L1054.7 372.3L1061.0 379.2L1054.7 386.1ZM1048.9 375.2L1055.2 368.3L1061.5 375.2L1055.2 382.1ZM1049.4 375.4L1055.7 368.5L1062.0 375.4L1055.7 382.3ZM1049.9 375.6L1056.2 368.7L1062.5 375.6L1056.2 382.5ZM1050.4 374.1L1056.7 367.2L1063.0 374.1L1056.7 381.0ZM1050.9 374.6L1057.2 367.7L1063.5 374.6L1057.2 381.5ZM1051.4 374.0L1057.7 367.1L1064.0 374.0L1057.7 380.9ZM1051.9 372.7L1058.2 365.8L1064.5 372.7L1058.2 379.6ZM1052.4 372.8L1058.7 365.9L1065.0 372.8L1058.7 379.7ZM1052.9 373.9L1059.2 367.0L1065.5 373.9L1059.2 380.8ZM1053.4 372.2L1059.7 365.3L1066.0 372.2L1059.7 379.1ZM1053.9 371.0L1060.2 364.1L1066.5 371.0L1060.2 377.9ZM1054.4 370.3L1060.7 363.4L1067.0 370.3L1060.7 377.2ZM1054.9 370.8L1061.2 363.9L1067.5 370.8L1061.2 377.7ZM1055.4 371.3L1061.7 364.4L1068.0 371.3L1061.7 378.2ZM1055.9 370.1L1062.2 363.2L1068.5 370.1L1062.2 377.0ZM1056.4 369.7L1062.7 362.8L1069.0 369.7L1062.7 376.6ZM1056.9 371.5L1063.2 364.6L1069.5 371.5L1063.2 378.4ZM1057.4 367.9L1063.7 361.0L1070.0 367.9L1063.7 374.8ZM1057.9 366.8L1064.2 359.9L1070.5 366.8L1064.2 373.7ZM1058.4 367.5L1064.7 360.6L1071.0 367.5L1064.7 374.4ZM1058.9 366.5L1065.2 359.6L1071.5 366.5L1065.2 373.4ZM1059.4 367.0L1065.7 360.1L1072.0 367.0L1065.7 373.9ZM1059.9 367.4L1066.2 360.5L1072.5 367.4L1066.2 374.3ZM1060.4 366.0L1066.7 359.1L1073.0 366.0L1066.7 372.9ZM1060.9 365.2L1067.2 358.3L1073.5 365.2L1067.2 372.1ZM1061.4 365.4L1067.7 358.5L1074.0 365.4L1067.7 372.3ZM1061.9 364.7L1068.2 357.8L1074.5 364.7L1068.2 371.6ZM1062.4 363.5L1068.7 356.6L1075.0 363.5L1068.7 370.4ZM1062.9 362.6L1069.2 355.7L1075.5 362.6L1069.2 369.5ZM1063.4 363.4L1069.7 356.5L1076.0 363.4L1069.7 370.3ZM1063.9 362.1L1070.2 355.2L1076.5 362.1L1070.2 369.0ZM1064.4 360.4L1070.7 353.5L1077.0 360.4L1070.7 367.3ZM1064.9 361.6L1071.2 354.7L1077.5 361.6L1071.2 368.5ZM1065.4 360.1L1071.7 353.2L1078.0 360.1L1071.7 367.0ZM1065.9 359.5L1072.2 352.6L1078.5 359.5L1072.2 366.4ZM1066.4 360.2L1072.7 353.3L1079.0 360.2L1072.7 367.1ZM1066.9 358.3L1073.2 351.4L1079.5 358.3L1073.2 365.2ZM1067.4 358.6L1073.7 351.7L1080.0 358.6L1073.7 365.5ZM1067.9 357.5L1074.2 350.6L1080.5 357.5L1074.2 364.4ZM1068.4 356.5L1074.7 349.6L1081.0 356.5L1074.7 363.4ZM1068.9 357.8L1075.2 350.9L1081.5 357.8L1075.2 364.7ZM1069.4 358.6L1075.7 351.7L1082.0 358.6L1075.7 365.5ZM1069.9 355.7L1076.2 348.8L1082.5 355.7L1076.2 362.6ZM1070.4 357.2L1076.7 350.3L1083.0 357.2L1076.7 364.1ZM1070.9 356.6L1077.2 349.7L1083.5 356.6L1077.2 363.5ZM1071.4 356.3L1077.7 349.4L1084.0 356.3L1077.7 363.2ZM1071.9 353.5L1078.2 346.6L1084.5 353.5L1078.2 360.4ZM1072.4 353.6L1078.7 346.7L1085.0 353.6L1078.7 360.5ZM1072.9 355.2L1079.2 348.3L1085.5 355.2L1079.2 362.1ZM1073.4 353.5L1079.7 346.6L1086.0 353.5L1079.7 360.4ZM1073.9 353.4L1080.2 346.5L1086.5 353.4L1080.2 360.3ZM1074.4 353.6L1080.7 346.7L1087.0 353.6L1080.7 360.5ZM1074.9 353.2L1081.2 346.3L1087.5 353.2L1081.2 360.1ZM1075.4 352.1L1081.7 345.2L1088.0 352.1L1081.7 359.0ZM1075.9 351.9L1082.2 345.0L1088.5 351.9L1082.2 358.8ZM1076.4 352.1L1082.7 345.2L1089.0 352.1L1082.7 359.0ZM1076.9 351.2L1083.2 344.3L1089.5 351.2L1083.2 358.1ZM1077.4 349.7L1083.7 342.8L1090.0 349.7L1083.7 356.6ZM1077.9 350.8L1084.2 343.9L1090.5 350.8L1084.2 357.7ZM1078.4 350.0L1084.7 343.1L1091.0 350.0L1084.7 356.9ZM1078.9 348.5L1085.2 341.6L1091.5 348.5L1085.2 355.4ZM1079.4 347.9L1085.7 341.0L1092.0 347.9L1085.7 354.8ZM1079.9 348.9L1086.2 342.0L1092.5 348.9L1086.2 355.8ZM1080.4 345.3L1086.7 338.4L1093.0 345.3L1086.7 352.2ZM1080.9 347.1L1087.2 340.2L1093.5 347.1L1087.2 354.0ZM1081.4 346.0L1087.7 339.1L1094.0 346.0L1087.7 352.9ZM1081.9 345.3L1088.2 338.4L1094.5 345.3L1088.2 352.2ZM1082.4 346.2L1088.7 339.3L1095.0 346.2L1088.7 353.1ZM1082.9 345.3L1089.2 338.4L1095.5 345.3L1089.2 352.2ZM1083.4 347.3L1089.7 340.4L1096.0 347.3L1089.7 354.2ZM1083.9 344.0L1090.2 337.1L1096.5 344.0L1090.2 350.9ZM1084.4 344.2L1090.7 337.3L1097.0 344.2L1090.7 351.1ZM1084.9 342.4L1091.2 335.5L1097.5 342.4L1091.2 349.3ZM1085.4 343.9L1091.7 337.0L1098.0 343.9L1091.7 350.8ZM1085.9 341.9L1092.2 335.0L1098.5 341.9L1092.2 348.8ZM1086.4 342.1L1092.7 335.2L1099.0 342.1L1092.7 349.0ZM1086.9 342.6L1093.2 335.7L1099.5 342.6L1093.2 349.5ZM1087.4 342.3L1093.7 335.4L1100.0 342.3L1093.7 349.2ZM1087.9 341.0L1094.2 334.1L1100.5 341.0L1094.2 347.9ZM1088.4 341.2L1094.7 334.3L1101.0 341.2L1094.7 348.1ZM1088.9 339.3L1095.2 332.4L1101.5 339.3L1095.2 346.2ZM1089.4 338.6L1095.7 331.7L1102.0 338.6L1095.7 345.5ZM1089.9 337.9L1096.2 331.0L1102.5 337.9L1096.2 344.8ZM1090.4 339.1L1096.7 332.2L1103.0 339.1L1096.7 346.0ZM1090.9 339.9L1097.2 333.0L1103.5 339.9L1097.2 346.8ZM1091.4 337.2L1097.7 330.3L1104.0 337.2L1097.7 344.1ZM1091.9 337.2L1098.2 330.3L1104.5 337.2L1098.2 344.1ZM1092.4 336.6L1098.7 329.7L1105.0 336.6L1098.7 343.5ZM1092.9 336.8L1099.2 329.9L1105.5 336.8L1099.2 343.7ZM1093.4 334.1L1099.7 327.2L1106.0 334.1L1099.7 341.0ZM1093.9 336.1L1100.2 329.2L1106.5 336.1L1100.2 343.0ZM1094.4 336.1L1100.7 329.2L1107.0 336.1L1100.7 343.0ZM1094.9 333.9L1101.2 327.0L1107.5 333.9L1101.2 340.8ZM1095.4 333.1L1101.7 326.2L1108.0 333.1L1101.7 340.0ZM1095.9 332.8L1102.2 325.9L1108.5 332.8L1102.2 339.7ZM1096.4 333.6L1102.7 326.7L1109.0 333.6L1102.7 340.5ZM1096.9 334.1L1103.2 327.2L1109.5 334.1L1103.2 341.0ZM1097.4 331.2L1103.7 324.3L1110.0 331.2L1103.7 338.1ZM1097.9 330.2L1104.2 323.3L1110.5 330.2L1104.2 337.1ZM1098.4 330.9L1104.7 324.0L1111.0 330.9L1104.7 337.8ZM1098.9 330.6L1105.2 323.7L1111.5 330.6L1105.2 337.5ZM1099.4 330.8L1105.7 323.9L1112.0 330.8L1105.7 337.7ZM1099.9 328.7L1106.2 321.8L1112.5 328.7L1106.2 335.6ZM1100.4 329.5L1106.7 322.6L1113.0 329.5L1106.7 336.4ZM1100.9 329.5L1107.2 322.6L1113.5 329.5L1107.2 336.4ZM1101.4 326.6L1107.7 319.7L1114.0 326.6L1107.7 333.5ZM1101.9 327.1L1108.2 320.2L1114.5 327.1L1108.2 334.0ZM1102.5 327.7L1108.8 320.8L1115.1 327.7L1108.8 334.6ZM1103.0 327.1L1109.3 320.2L1115.6 327.1L1109.3 334.0ZM1103.5 325.8L1109.8 318.9L1116.1 325.8L1109.8 332.7ZM1104.0 324.0L1110.3 317.1L1116.6 324.0L1110.3 330.9ZM1104.5 324.5L1110.8 317.6L1117.1 324.5L1110.8 331.4ZM1105.0 323.5L1111.3 316.6L1117.6 323.5L1111.3 330.4ZM1105.5 323.9L1111.8 317.0L1118.1 323.9L1111.8 330.8ZM1106.0 325.0L1112.3 318.1L1118.6 325.0L1112.3 331.9ZM1106.5 323.1L1112.8 316.2L1119.1 323.1L1112.8 330.0ZM1107.0 323.3L1113.3 316.4L1119.6 323.3L1113.3 330.2ZM1107.5 322.0L1113.8 315.1L1120.1 322.0L1113.8 328.9ZM1108.0 323.6L1114.3 316.7L1120.6 323.6L1114.3 330.5ZM1108.5 321.8L1114.8 314.9L1121.1 321.8L1114.8 328.7ZM1109.0 321.0L1115.3 314.1L1121.6 321.0L1115.3 327.9ZM1109.5 323.1L1115.8 316.2L1122.1 323.1L1115.8 330.0ZM1110.0 321.3L1116.3 314.4L1122.6 321.3L1116.3 328.2ZM1110.5 321.3L1116.8 314.4L1123.1 321.3L1116.8 328.2ZM1111.0 318.5L1117.3 311.6L1123.6 318.5L1117.3 325.4ZM1111.5 321.2L1117.8 314.3L1124.1 321.2L1117.8 328.1ZM1112.0 321.2L1118.3 314.3L1124.6 321.2L1118.3 328.1ZM1112.5 319.0L1118.8 312.1L1125.1 319.0L1118.8 325.9ZM1113.0 318.5L1119.3 311.6L1125.6 318.5L1119.3 325.4ZM1113.5 317.9L1119.8 311.0L1126.1 317.9L1119.8 324.8ZM1114.0 318.7L1120.3 311.8L1126.6 318.7L1120.3 325.6ZM1114.5 315.9L1120.8 309.0L1127.1 315.9L1120.8 322.8ZM1115.0 317.4L1121.3 310.5L1127.6 317.4L1121.3 324.3ZM1115.5 318.3L1121.8 311.4L1128.1 318.3L1121.8 325.2ZM1116.0 316.4L1122.3 309.5L1128.6 316.4L1122.3 323.3ZM1116.5 317.4L1122.8 310.5L1129.1 317.4L1122.8 324.3ZM1117.0 315.2L1123.3 308.3L1129.6 315.2L1123.3 322.1ZM1117.5 314.3L1123.8 307.4L1130.1 314.3L1123.8 321.2ZM1118.0 314.8L1124.3 307.9L1130.6 314.8L1124.3 321.7ZM1118.5 313.4L1124.8 306.5L1131.1 313.4L1124.8 320.3ZM1119.0 313.1L1125.3 306.2L1131.6 313.1L1125.3 320.0ZM1119.5 312.3L1125.8 305.4L1132.1 312.3L1125.8 319.2ZM1120.0 311.3L1126.3 304.4L1132.6 311.3L1126.3 318.2ZM1120.5 311.8L1126.8 304.9L1133.1 311.8L1126.8 318.7ZM1121.0 312.3L1127.3 305.4L1133.6 312.3L1127.3 319.2ZM1121.5 312.5L1127.8 305.6L1134.1 312.5L1127.8 319.4ZM1122.0 311.2L1128.3 304.3L1134.6 311.2L1128.3 318.1ZM1122.5 311.1L1128.8 304.2L1135.1 311.1L1128.8 318.0ZM1123.0 309.3L1129.3 302.4L1135.6 309.3L1129.3 316.2ZM1123.5 309.7L1129.8 302.8L1136.1 309.7L1129.8 316.6ZM1124.0 309.3L1130.3 302.4L1136.6 309.3L1130.3 316.2ZM1124.5 308.9L1130.8 302.0L1137.1 308.9L1130.8 315.8ZM1125.0 308.7L1131.3 301.8L1137.6 308.7L1131.3 315.6ZM1125.5 308.7L1131.8 301.8L1138.1 308.7L1131.8 315.6ZM1126.0 308.9L1132.3 302.0L1138.6 308.9L1132.3 315.8ZM1126.5 308.1L1132.8 301.2L1139.1 308.1L1132.8 315.0ZM1127.0 307.5L1133.3 300.6L1139.6 307.5L1133.3 314.4ZM1127.5 305.5L1133.8 298.6L1140.1 305.5L1133.8 312.4ZM1128.0 305.3L1134.3 298.4L1140.6 305.3L1134.3 312.2ZM1128.5 305.5L1134.8 298.6L1141.1 305.5L1134.8 312.4ZM1129.0 305.1L1135.3 298.2L1141.6 305.1L1135.3 312.0ZM1129.5 305.5L1135.8 298.6L1142.1 305.5L1135.8 312.4ZM1130.0 303.2L1136.3 296.3L1142.6 303.2L1136.3 310.1ZM1130.5 304.4L1136.8 297.5L1143.1 304.4L1136.8 311.3ZM1131.0 303.6L1137.3 296.7L1143.6 303.6L1137.3 310.5ZM1131.5 302.7L1137.8 295.8L1144.1 302.7L1137.8 309.6ZM1132.0 301.7L1138.3 294.8L1144.6 301.7L1138.3 308.6ZM1132.5 302.0L1138.8 295.1L1145.1 302.0L1138.8 308.9ZM1133.0 301.3L1139.3 294.4L1145.6 301.3L1139.3 308.2ZM1133.5 301.2L1139.8 294.3L1146.1 301.2L1139.8 308.1ZM1134.0 298.6L1140.3 291.7L1146.6 298.6L1140.3 305.5ZM1134.5 299.3L1140.8 292.4L1147.1 299.3L1140.8 306.2ZM1135.0 301.2L1141.3 294.3L1147.6 301.2L1141.3 308.1ZM1135.5 299.9L1141.8 293.0L1148.1 299.9L1141.8 306.8ZM1136.0 298.7L1142.3 291.8L1148.6 298.7L1142.3 305.6ZM1136.5 299.0L1142.8 292.1L1149.1 299.0L1142.8 305.9ZM1137.0 297.5L1143.3 290.6L1149.6 297.5L1143.3 304.4ZM1137.5 299.5L1143.8 292.6L1150.1 299.5L1143.8 306.4ZM1138.0 299.1L1144.3 292.2L1150.6 299.1L1144.3 306.0ZM1138.5 298.1L1144.8 291.2L1151.1 298.1L1144.8 305.0ZM1139.0 298.1L1145.3 291.2L1151.6 298.1L1145.3 305.0ZM1139.5 296.9L1145.8 290.0L1152.1 296.9L1145.8 303.8ZM1140.0 297.4L1146.3 290.5L1152.6 297.4L1146.3 304.3ZM1140.5 296.5L1146.8 289.6L1153.1 296.5L1146.8 303.4ZM1141.0 296.8L1147.3 289.9L1153.6 296.8L1147.3 303.7ZM1141.5 295.1L1147.8 288.2L1154.1 295.1L1147.8 302.0ZM1142.0 294.3L1148.3 287.4L1154.6 294.3L1148.3 301.2ZM1142.5 292.9L1148.8 286.0L1155.1 292.9L1148.8 299.8ZM1143.0 292.5L1149.3 285.6L1155.6 292.5L1149.3 299.4ZM1143.5 291.1L1149.8 284.2L1156.1 291.1L1149.8 298.0ZM1144.0 293.2L1150.3 286.3L1156.6 293.2L1150.3 300.1ZM1144.5 292.6L1150.8 285.7L1157.1 292.6L1150.8 299.5ZM1145.0 291.4L1151.3 284.5L1157.6 291.4L1151.3 298.3ZM1145.5 291.5L1151.8 284.6L1158.1 291.5L1151.8 298.4ZM1146.0 290.5L1152.3 283.6L1158.6 290.5L1152.3 297.4ZM1146.5 290.3L1152.8 283.4L1159.1 290.3L1152.8 297.2ZM1147.0 288.1L1153.3 281.2L1159.6 288.1L1153.3 295.0ZM1147.5 288.9L1153.8 282.0L1160.1 288.9L1153.8 295.8ZM1148.0 287.1L1154.3 280.2L1160.6 287.1L1154.3 294.0ZM1148.5 287.7L1154.8 280.8L1161.1 287.7L1154.8 294.6ZM1149.0 287.5L1155.3 280.6L1161.6 287.5L1155.3 294.4ZM1149.5 287.0L1155.8 280.1L1162.1 287.0L1155.8 293.9ZM1150.0 285.7L1156.3 278.8L1162.6 285.7L1156.3 292.6ZM1150.5 287.2L1156.8 280.3L1163.1 287.2L1156.8 294.1ZM1151.0 286.6L1157.3 279.7L1163.6 286.6L1157.3 293.5ZM1151.5 284.6L1157.8 277.7L1164.1 284.6L1157.8 291.5ZM1152.0 283.5L1158.3 276.6L1164.6 283.5L1158.3 290.4ZM1152.5 283.9L1158.8 277.0L1165.1 283.9L1158.8 290.8ZM1153.0 284.6L1159.3 277.7L1165.6 284.6L1159.3 291.5ZM1153.5 281.7L1159.8 274.8L1166.1 281.7L1159.8 288.6ZM1154.0 283.6L1160.3 276.7L1166.6 283.6L1160.3 290.5ZM1154.5 282.1L1160.8 275.2L1167.1 282.1L1160.8 289.0ZM1155.0 281.4L1161.3 274.5L1167.6 281.4L1161.3 288.3ZM1155.5 282.1L1161.8 275.2L1168.1 282.1L1161.8 289.0ZM1156.0 280.3L1162.3 273.4L1168.6 280.3L1162.3 287.2ZM1156.5 279.3L1162.8 272.4L1169.1 279.3L1162.8 286.2ZM1157.0 280.2L1163.3 273.3L1169.6 280.2L1163.3 287.1ZM1157.5 277.5L1163.8 270.6L1170.1 277.5L1163.8 284.4ZM1158.0 279.8L1164.3 272.9L1170.6 279.8L1164.3 286.7ZM1158.5 277.1L1164.8 270.2L1171.1 277.1L1164.8 284.0ZM1159.0 276.7L1165.3 269.8L1171.6 276.7L1165.3 283.6ZM1159.5 278.5L1165.8 271.6L1172.1 278.5L1165.8 285.4ZM1160.0 279.5L1166.3 272.6L1172.6 279.5L1166.3 286.4ZM1160.6 277.5L1166.9 270.6L1173.2 277.5L1166.9 284.4ZM1161.1 275.4L1167.4 268.5L1173.7 275.4L1167.4 282.3ZM1161.6 273.3L1167.9 266.4L1174.2 273.3L1167.9 280.2ZM1162.1 275.1L1168.4 268.2L1174.7 275.1L1168.4 282.0ZM1162.6 274.5L1168.9 267.6L1175.2 274.5L1168.9 281.4ZM1163.1 273.7L1169.4 266.8L1175.7 273.7L1169.4 280.6ZM1163.6 273.6L1169.9 266.7L1176.2 273.6L1169.9 280.5ZM1164.1 272.8L1170.4 265.9L1176.7 272.8L1170.4 279.7ZM1164.6 274.0L1170.9 267.1L1177.2 274.0L1170.9 280.9ZM1165.1 273.0L1171.4 266.1L1177.7 273.0L1171.4 279.9ZM1165.6 272.7L1171.9 265.8L1178.2 272.7L1171.9 279.6ZM1166.1 270.6L1172.4 263.7L1178.7 270.6L1172.4 277.5ZM1166.6 272.4L1172.9 265.5L1179.2 272.4L1172.9 279.3ZM1167.1 270.6L1173.4 263.7L1179.7 270.6L1173.4 277.5ZM1167.6 271.8L1173.9 264.9L1180.2 271.8L1173.9 278.7ZM1168.1 271.0L1174.4 264.1L1180.7 271.0L1174.4 277.9ZM1168.6 268.7L1174.9 261.8L1181.2 268.7L1174.9 275.6ZM1169.1 269.8L1175.4 262.9L1181.7 269.8L1175.4 276.7ZM1169.6 268.5L1175.9 261.6L1182.2 268.5L1175.9 275.4ZM1170.1 269.6L1176.4 262.7L1182.7 269.6L1176.4 276.5ZM1170.6 268.6L1176.9 261.7L1183.2 268.6L1176.9 275.5ZM1171.1 268.7L1177.4 261.8L1183.7 268.7L1177.4 275.6ZM1171.6 266.4L1177.9 259.5L1184.2 266.4L1177.9 273.3ZM1172.1 266.8L1178.4 259.9L1184.7 266.8L1178.4 273.7ZM1172.6 264.3L1178.9 257.4L1185.2 264.3L1178.9 271.2ZM1173.1 265.1L1179.4 258.2L1185.7 265.1L1179.4 272.0ZM1173.6 264.2L1179.9 257.3L1186.2 264.2L1179.9 271.1ZM1174.1 264.1L1180.4 257.2L1186.7 264.1L1180.4 271.0ZM1174.6 263.4L1180.9 256.5L1187.2 263.4L1180.9 270.3ZM1175.1 263.8L1181.4 256.9L1187.7 263.8L1181.4 270.7ZM1175.6 261.9L1181.9 255.0L1188.2 261.9L1181.9 268.8ZM1176.1 261.5L1182.4 254.6L1188.7 261.5L1182.4 268.4ZM1176.6 262.2L1182.9 255.3L1189.2 262.2L1182.9 269.1ZM1177.1 260.4L1183.4 253.5L1189.7 260.4L1183.4 267.3ZM1177.6 259.2L1183.9 252.3L1190.2 259.2L1183.9 266.1ZM1178.1 258.4L1184.4 251.5L1190.7 258.4L1184.4 265.3ZM1178.6 258.9L1184.9 252.0L1191.2 258.9L1184.9 265.8ZM1179.1 258.7L1185.4 251.8L1191.7 258.7L1185.4 265.6ZM1179.6 259.0L1185.9 252.1L1192.2 259.0L1185.9 265.9ZM1180.1 257.9L1186.4 251.0L1192.7 257.9L1186.4 264.8ZM1180.6 258.1L1186.9 251.2L1193.2 258.1L1186.9 265.0ZM1181.1 257.0L1187.4 250.1L1193.7 257.0L1187.4 263.9ZM1181.6 258.3L1187.9 251.4L1194.2 258.3L1187.9 265.2ZM1182.1 256.4L1188.4 249.5L1194.7 256.4L1188.4 263.3ZM1182.6 256.4L1188.9 249.5L1195.2 256.4L1188.9 263.3ZM1183.1 255.8L1189.4 248.9L1195.7 255.8L1189.4 262.7ZM1183.6 254.0L1189.9 247.1L1196.2 254.0L1189.9 260.9ZM1184.1 255.8L1190.4 248.9L1196.7 255.8L1190.4 262.7ZM1184.6 254.0L1190.9 247.1L1197.2 254.0L1190.9 260.9ZM1185.1 254.9L1191.4 248.0L1197.7 254.9L1191.4 261.8ZM1185.6 251.8L1191.9 244.9L1198.2 251.8L1191.9 258.7ZM1186.1 251.5L1192.4 244.6L1198.7 251.5L1192.4 258.4ZM1186.6 251.1L1192.9 244.2L1199.2 251.1L1192.9 258.0ZM1187.1 250.8L1193.4 243.9L1199.7 250.8L1193.4 257.7ZM1187.6 251.6L1193.9 244.7L1200.2 251.6L1193.9 258.5ZM1188.1 251.6L1194.4 244.7L1200.7 251.6L1194.4 258.5ZM1188.6 250.1L1194.9 243.2L1201.2 250.1L1194.9 257.0ZM1189.1 250.1L1195.4 243.2L1201.7 250.1L1195.4 257.0ZM1189.6 249.4L1195.9 242.5L1202.2 249.4L1195.9 256.3ZM1190.1 250.1L1196.4 243.2L1202.7 250.1L1196.4 257.0ZM1190.6 249.7L1196.9 242.8L1203.2 249.7L1196.9 256.6ZM1191.1 248.6L1197.4 241.7L1203.7 248.6L1197.4 255.5ZM1191.6 248.7L1197.9 241.8L1204.2 248.7L1197.9 255.6ZM1192.1 249.1L1198.4 242.2L1204.7 249.1L1198.4 256.0ZM1192.6 248.0L1198.9 241.1L1205.2 248.0L1198.9 254.9ZM1193.1 245.2L1199.4 238.3L1205.7 245.2L1199.4 252.1ZM1193.6 245.6L1199.9 238.7L1206.2 245.6L1199.9 252.5ZM1194.1 245.4L1200.4 238.5L1206.7 245.4L1200.4 252.3ZM1194.6 245.7L1200.9 238.8L1207.2 245.7L1200.9 252.6ZM1195.1 245.1L1201.4 238.2L1207.7 245.1L1201.4 252.0ZM1195.6 244.9L1201.9 238.0L1208.2 244.9L1201.9 251.8ZM1196.1 243.0L1202.4 236.1L1208.7 243.0L1202.4 249.9ZM1196.6 244.4L1202.9 237.5L1209.2 244.4L1202.9 251.3ZM1197.1 242.9L1203.4 236.0L1209.7 242.9L1203.4 249.8ZM1197.6 243.1L1203.9 236.2L1210.2 243.1L1203.9 250.0ZM1198.1 242.5L1204.4 235.6L1210.7 242.5L1204.4 249.4ZM1198.6 241.3L1204.9 234.4L1211.2 241.3L1204.9 248.2ZM1199.1 240.8L1205.4 233.9L1211.7 240.8L1205.4 247.7ZM1199.6 241.2L1205.9 234.3L1212.2 241.2L1205.9 248.1ZM1200.1 241.2L1206.4 234.3L1212.7 241.2L1206.4 248.1ZM1200.6 239.5L1206.9 232.6L1213.2 239.5L1206.9 246.4ZM1201.1 238.9L1207.4 232.0L1213.7 238.9L1207.4 245.8ZM1201.6 238.0L1207.9 231.1L1214.2 238.0L1207.9 244.9ZM1202.1 238.3L1208.4 231.4L1214.7 238.3L1208.4 245.2ZM1202.6 238.1L1208.9 231.2L1215.2 238.1L1208.9 245.0ZM1203.1 237.9L1209.4 231.0L1215.7 237.9L1209.4 244.8ZM1203.6 238.0L1209.9 231.1L1216.2 238.0L1209.9 244.9ZM1204.1 237.1L1210.4 230.2L1216.7 237.1L1210.4 244.0ZM1204.6 236.0L1210.9 229.1L1217.2 236.0L1210.9 242.9ZM1205.1 236.0L1211.4 229.1L1217.7 236.0L1211.4 242.9ZM1205.6 235.8L1211.9 228.9L1218.2 235.8L1211.9 242.7ZM1206.1 235.5L1212.4 228.6L1218.7 235.5L1212.4 242.4ZM1206.6 235.0L1212.9 228.1L1219.2 235.0L1212.9 241.9ZM1207.1 234.4L1213.4 227.5L1219.7 234.4L1213.4 241.3ZM1207.6 234.5L1213.9 227.6L1220.2 234.5L1213.9 241.4ZM1208.1 233.6L1214.4 226.7L1220.7 233.6L1214.4 240.5ZM1208.6 232.6L1214.9 225.7L1221.2 232.6L1214.9 239.5ZM1209.1 232.7L1215.4 225.8L1221.7 232.7L1215.4 239.6ZM1209.6 233.6L1215.9 226.7L1222.2 233.6L1215.9 240.5ZM1210.1 231.7L1216.4 224.8L1222.7 231.7L1216.4 238.6ZM1210.6 233.2L1216.9 226.3L1223.2 233.2L1216.9 240.1ZM1211.1 230.9L1217.4 224.0L1223.7 230.9L1217.4 237.8ZM1211.6 231.0L1217.9 224.1L1224.2 231.0L1217.9 237.9ZM1212.1 229.2L1218.4 222.3L1224.7 229.2L1218.4 236.1ZM1212.6 229.6L1218.9 222.7L1225.2 229.6L1218.9 236.5ZM1213.1 230.1L1219.4 223.2L1225.7 230.1L1219.4 237.0ZM1213.6 228.0L1219.9 221.1L1226.2 228.0L1219.9 234.9ZM1214.1 227.8L1220.4 220.9L1226.7 227.8L1220.4 234.7ZM1214.6 228.1L1220.9 221.2L1227.2 228.1L1220.9 235.0ZM1215.1 227.5L1221.4 220.6L1227.7 227.5L1221.4 234.4ZM1215.6 226.2L1221.9 219.3L1228.2 226.2L1221.9 233.1ZM1216.1 226.0L1222.4 219.1L1228.7 226.0L1222.4 232.9ZM1216.6 226.5L1222.9 219.6L1229.2 226.5L1222.9 233.4ZM1217.1 226.0L1223.4 219.1L1229.7 226.0L1223.4 232.9ZM1217.6 225.7L1223.9 218.8L1230.2 225.7L1223.9 232.6ZM1218.2 224.8L1224.5 217.9L1230.8 224.8L1224.5 231.7ZM1218.7 225.0L1225.0 218.1L1231.3 225.0L1225.0 231.9ZM1219.2 224.6L1225.5 217.7L1231.8 224.6L1225.5 231.5ZM1219.7 222.9L1226.0 216.0L1232.3 222.9L1226.0 229.8ZM1220.2 223.9L1226.5 217.0L1232.8 223.9L1226.5 230.8ZM1220.7 223.3L1227.0 216.4L1233.3 223.3L1227.0 230.2ZM1221.2 223.1L1227.5 216.2L1233.8 223.1L1227.5 230.0ZM1221.7 221.7L1228.0 214.8L1234.3 221.7L1228.0 228.6ZM1222.2 221.4L1228.5 214.5L1234.8 221.4L1228.5 228.3ZM1222.7 221.1L1229.0 214.2L1235.3 221.1L1229.0 228.0ZM1223.2 220.6L1229.5 213.7L1235.8 220.6L1229.5 227.5ZM1223.7 221.1L1230.0 214.2L1236.3 221.1L1230.0 228.0ZM1224.2 220.3L1230.5 213.4L1236.8 220.3L1230.5 227.2ZM1224.7 219.1L1231.0 212.2L1237.3 219.1L1231.0 226.0ZM1225.2 219.3L1231.5 212.4L1237.8 219.3L1231.5 226.2ZM1225.7 218.1L1232.0 211.2L1238.3 218.1L1232.0 225.0ZM1226.2 217.5L1232.5 210.6L1238.8 217.5L1232.5 224.4ZM1226.7 217.5L1233.0 210.6L1239.3 217.5L1233.0 224.4ZM1227.2 217.7L1233.5 210.8L1239.8 217.7L1233.5 224.6ZM1227.7 217.3L1234.0 210.4L1240.3 217.3L1234.0 224.2ZM1228.2 216.7L1234.5 209.8L1240.8 216.7L1234.5 223.6ZM1228.7 216.5L1235.0 209.6L1241.3 216.5L1235.0 223.4ZM1229.2 216.9L1235.5 210.0L1241.8 216.9L1235.5 223.8ZM1229.7 214.7L1236.0 207.8L1242.3 214.7L1236.0 221.6ZM1230.2 215.2L1236.5 208.3L1242.8 215.2L1236.5 222.1ZM1230.7 214.6L1237.0 207.7L1243.3 214.6L1237.0 221.5ZM1231.2 213.2L1237.5 206.3L1243.8 213.2L1237.5 220.1ZM1231.7 213.2L1238.0 206.3L1244.3 213.2L1238.0 220.1ZM1232.2 213.3L1238.5 206.4L1244.8 213.3L1238.5 220.2ZM1232.7 212.8L1239.0 205.9L1245.3 212.8L1239.0 219.7ZM1233.2 211.9L1239.5 205.0L1245.8 211.9L1239.5 218.8ZM1233.7 212.5L1240.0 205.6L1246.3 212.5L1240.0 219.4ZM1234.2 211.7L1240.5 204.8L1246.8 211.7L1240.5 218.6ZM1234.7 211.5L1241.0 204.6L1247.3 211.5L1241.0 218.4ZM1235.2 211.6L1241.5 204.7L1247.8 211.6L1241.5 218.5ZM1235.7 209.8L1242.0 202.9L1248.3 209.8L1242.0 216.7ZM1236.2 210.7L1242.5 203.8L1248.8 210.7L1242.5 217.6ZM1236.7 209.9L1243.0 203.0L1249.3 209.9L1243.0 216.8ZM1237.2 208.5L1243.5 201.6L1249.8 208.5L1243.5 215.4ZM1237.7 208.7L1244.0 201.8L1250.3 208.7L1244.0 215.6ZM1238.2 208.2L1244.5 201.3L1250.8 208.2L1244.5 215.1ZM1238.7 207.4L1245.0 200.5L1251.3 207.4L1245.0 214.3ZM1239.2 208.0L1245.5 201.1L1251.8 208.0L1245.5 214.9ZM1239.7 206.6L1246.0 199.7L1252.3 206.6L1246.0 213.5ZM1240.2 205.3L1246.5 198.4L1252.8 205.3L1246.5 212.2ZM1240.7 206.7L1247.0 199.8L1253.3 206.7L1247.0 213.6ZM1241.2 205.5L1247.5 198.6L1253.8 205.5L1247.5 212.4ZM1241.7 205.8L1248.0 198.9L1254.3 205.8L1248.0 212.7ZM1242.2 205.3L1248.5 198.4L1254.8 205.3L1248.5 212.2ZM1242.7 204.6L1249.0 197.7L1255.3 204.6L1249.0 211.5ZM1243.2 204.3L1249.5 197.4L1255.8 204.3L1249.5 211.2ZM1243.7 202.4L1250.0 195.5L1256.3 202.4L1250.0 209.3ZM1244.2 203.1L1250.5 196.2L1256.8 203.1L1250.5 210.0ZM1244.7 202.3L1251.0 195.4L1257.3 202.3L1251.0 209.2ZM1245.2 202.9L1251.5 196.0L1257.8 202.9L1251.5 209.8ZM1245.7 201.9L1252.0 195.0L1258.3 201.9L1252.0 208.8ZM1246.2 201.6L1252.5 194.7L1258.8 201.6L1252.5 208.5ZM1246.7 201.4L1253.0 194.5L1259.3 201.4L1253.0 208.3ZM1247.2 200.3L1253.5 193.4L1259.8 200.3L1253.5 207.2ZM1247.7 200.0L1254.0 193.1L1260.3 200.0L1254.0 206.9ZM1248.2 199.9L1254.5 193.0L1260.8 199.9L1254.5 206.8ZM1248.7 199.9L1255.0 193.0L1261.3 199.9L1255.0 206.8ZM1249.2 198.5L1255.5 191.6L1261.8 198.5L1255.5 205.4ZM1249.7 199.6L1256.0 192.7L1262.3 199.6L1256.0 206.5ZM1250.2 198.6L1256.5 191.7L1262.8 198.6L1256.5 205.5ZM1250.7 198.1L1257.0 191.2L1263.3 198.1L1257.0 205.0ZM1251.2 198.1L1257.5 191.2L1263.8 198.1L1257.5 205.0ZM1251.7 198.1L1258.0 191.2L1264.3 198.1L1258.0 205.0ZM1252.2 197.8L1258.5 190.9L1264.8 197.8L1258.5 204.7ZM1252.7 196.1L1259.0 189.2L1265.3 196.1L1259.0 203.0ZM1253.2 197.1L1259.5 190.2L1265.8 197.1L1259.5 204.0ZM1253.7 195.9L1260.0 189.0L1266.3 195.9L1260.0 202.8ZM1254.2 196.4L1260.5 189.5L1266.8 196.4L1260.5 203.3ZM1254.7 194.5L1261.0 187.6L1267.3 194.5L1261.0 201.4Z" fill="#0000ff" stroke="#0000ff" stroke-width="1.7"/><path d="M1255.9 193.8L1262.2 186.9L1268.5 193.8L1262.2 200.7Z" fill="#fff" stroke="#0000ff" stroke-width="1.9"/><path shape-rendering="crispEdges" d="M813.5 506.3a5.4 5.4 0 1 0 10.8 0a5.4 5.4 0 1 0 -10.8 0ZM840.9 476.6a5.4 5.4 0 1 0 10.8 0a5.4 5.4 0 1 0 -10.8 0ZM858.8 463.9a5.4 5.4 0 1 0 10.8 0a5.4 5.4 0 1 0 -10.8 0ZM870.2 454.0a5.4 5.4 0 1 0 10.8 0a5.4 5.4 0 1 0 -10.8 0ZM878.7 448.3a5.4 5.4 0 1 0 10.8 0a5.4 5.4 0 1 0 -10.8 0ZM886.5 442.7a5.4 5.4 0 1 0 10.8 0a5.4 5.4 0 1 0 -10.8 0ZM893.6 437.0a5.4 5.4 0 1 0 10.8 0a5.4 5.4 0 1 0 -10.8 0ZM899.9 434.2a5.4 5.4 0 1 0 10.8 0a5.4 5.4 0 1 0 -10.8 0ZM903.4 430.9a5.4 5.4 0 1 0 10.8 0a5.4 5.4 0 1 0 -10.8 0ZM907.8 428.9a5.4 5.4 0 1 0 10.8 0a5.4 5.4 0 1 0 -10.8 0ZM911.8 425.9a5.4 5.4 0 1 0 10.8 0a5.4 5.4 0 1 0 -10.8 0ZM915.4 424.1a5.4 5.4 0 1 0 10.8 0a5.4 5.4 0 1 0 -10.8 0ZM918.7 424.6a5.4 5.4 0 1 0 10.8 0a5.4 5.4 0 1 0 -10.8 0ZM921.8 419.7a5.4 5.4 0 1 0 10.8 0a5.4 5.4 0 1 0 -10.8 0ZM924.6 421.4a5.4 5.4 0 1 0 10.8 0a5.4 5.4 0 1 0 -10.8 0ZM927.3 420.0a5.4 5.4 0 1 0 10.8 0a5.4 5.4 0 1 0 -10.8 0ZM929.8 414.9a5.4 5.4 0 1 0 10.8 0a5.4 5.4 0 1 0 -10.8 0ZM932.2 412.4a5.4 5.4 0 1 0 10.8 0a5.4 5.4 0 1 0 -10.8 0ZM934.4 413.1a5.4 5.4 0 1 0 10.8 0a5.4 5.4 0 1 0 -10.8 0ZM936.6 413.4a5.4 5.4 0 1 0 10.8 0a5.4 5.4 0 1 0 -10.8 0ZM938.6 414.1a5.4 5.4 0 1 0 10.8 0a5.4 5.4 0 1 0 -10.8 0ZM940.5 410.6a5.4 5.4 0 1 0 10.8 0a5.4 5.4 0 1 0 -10.8 0ZM942.4 411.0a5.4 5.4 0 1 0 10.8 0a5.4 5.4 0 1 0 -10.8 0ZM944.1 405.9a5.4 5.4 0 1 0 10.8 0a5.4 5.4 0 1 0 -10.8 0ZM945.8 404.2a5.4 5.4 0 1 0 10.8 0a5.4 5.4 0 1 0 -10.8 0ZM947.5 401.6a5.4 5.4 0 1 0 10.8 0a5.4 5.4 0 1 0 -10.8 0ZM949.0 401.9a5.4 5.4 0 1 0 10.8 0a5.4 5.4 0 1 0 -10.8 0ZM950.5 402.7a5.4 5.4 0 1 0 10.8 0a5.4 5.4 0 1 0 -10.8 0ZM952.0 403.0a5.4 5.4 0 1 0 10.8 0a5.4 5.4 0 1 0 -10.8 0ZM953.4 399.2a5.4 5.4 0 1 0 10.8 0a5.4 5.4 0 1 0 -10.8 0ZM954.8 402.7a5.4 5.4 0 1 0 10.8 0a5.4 5.4 0 1 0 -10.8 0ZM956.1 400.0a5.4 5.4 0 1 0 10.8 0a5.4 5.4 0 1 0 -10.8 0ZM957.4 398.2a5.4 5.4 0 1 0 10.8 0a5.4 5.4 0 1 0 -10.8 0ZM958.6 397.1a5.4 5.4 0 1 0 10.8 0a5.4 5.4 0 1 0 -10.8 0ZM959.8 401.9a5.4 5.4 0 1 0 10.8 0a5.4 5.4 0 1 0 -10.8 0ZM961.0 397.5a5.4 5.4 0 1 0 10.8 0a5.4 5.4 0 1 0 -10.8 0ZM962.1 394.6a5.4 5.4 0 1 0 10.8 0a5.4 5.4 0 1 0 -10.8 0ZM963.2 393.8a5.4 5.4 0 1 0 10.8 0a5.4 5.4 0 1 0 -10.8 0ZM964.3 398.7a5.4 5.4 0 1 0 10.8 0a5.4 5.4 0 1 0 -10.8 0ZM965.4 393.2a5.4 5.4 0 1 0 10.8 0a5.4 5.4 0 1 0 -10.8 0ZM966.4 396.1a5.4 5.4 0 1 0 10.8 0a5.4 5.4 0 1 0 -10.8 0ZM967.4 395.9a5.4 5.4 0 1 0 10.8 0a5.4 5.4 0 1 0 -10.8 0ZM968.4 387.8a5.4 5.4 0 1 0 10.8 0a5.4 5.4 0 1 0 -10.8 0ZM969.3 394.6a5.4 5.4 0 1 0 10.8 0a5.4 5.4 0 1 0 -10.8 0ZM970.2 390.8a5.4 5.4 0 1 0 10.8 0a5.4 5.4 0 1 0 -10.8 0ZM971.2 388.5a5.4 5.4 0 1 0 10.8 0a5.4 5.4 0 1 0 -10.8 0ZM972.1 389.0a5.4 5.4 0 1 0 10.8 0a5.4 5.4 0 1 0 -10.8 0ZM972.9 390.7a5.4 5.4 0 1 0 10.8 0a5.4 5.4 0 1 0 -10.8 0ZM973.8 389.8a5.4 5.4 0 1 0 10.8 0a5.4 5.4 0 1 0 -10.8 0ZM974.6 389.3a5.4 5.4 0 1 0 10.8 0a5.4 5.4 0 1 0 -10.8 0ZM975.4 386.5a5.4 5.4 0 1 0 10.8 0a5.4 5.4 0 1 0 -10.8 0ZM976.2 390.1a5.4 5.4 0 1 0 10.8 0a5.4 5.4 0 1 0 -10.8 0ZM977.0 390.0a5.4 5.4 0 1 0 10.8 0a5.4 5.4 0 1 0 -10.8 0ZM977.8 390.2a5.4 5.4 0 1 0 10.8 0a5.4 5.4 0 1 0 -10.8 0ZM978.6 388.1a5.4 5.4 0 1 0 10.8 0a5.4 5.4 0 1 0 -10.8 0ZM979.3 389.4a5.4 5.4 0 1 0 10.8 0a5.4 5.4 0 1 0 -10.8 0ZM980.1 389.4a5.4 5.4 0 1 0 10.8 0a5.4 5.4 0 1 0 -10.8 0ZM980.8 386.2a5.4 5.4 0 1 0 10.8 0a5.4 5.4 0 1 0 -10.8 0ZM981.5 386.1a5.4 5.4 0 1 0 10.8 0a5.4 5.4 0 1 0 -10.8 0ZM982.2 385.1a5.4 5.4 0 1 0 10.8 0a5.4 5.4 0 1 0 -10.8 0ZM982.9 384.6a5.4 5.4 0 1 0 10.8 0a5.4 5.4 0 1 0 -10.8 0ZM983.6 384.8a5.4 5.4 0 1 0 10.8 0a5.4 5.4 0 1 0 -10.8 0ZM984.2 379.3a5.4 5.4 0 1 0 10.8 0a5.4 5.4 0 1 0 -10.8 0ZM984.9 381.6a5.4 5.4 0 1 0 10.8 0a5.4 5.4 0 1 0 -10.8 0ZM985.5 382.9a5.4 5.4 0 1 0 10.8 0a5.4 5.4 0 1 0 -10.8 0ZM986.1 377.3a5.4 5.4 0 1 0 10.8 0a5.4 5.4 0 1 0 -10.8 0ZM986.8 378.3a5.4 5.4 0 1 0 10.8 0a5.4 5.4 0 1 0 -10.8 0ZM987.4 383.9a5.4 5.4 0 1 0 10.8 0a5.4 5.4 0 1 0 -10.8 0ZM988.0 378.3a5.4 5.4 0 1 0 10.8 0a5.4 5.4 0 1 0 -10.8 0ZM988.6 379.1a5.4 5.4 0 1 0 10.8 0a5.4 5.4 0 1 0 -10.8 0ZM989.2 380.4a5.4 5.4 0 1 0 10.8 0a5.4 5.4 0 1 0 -10.8 0Z" fill="none" stroke="#ff0000" stroke-width="1.3"/><path shape-rendering="crispEdges" d="M989.9 378.4a5.3 5.3 0 1 0 10.6 0a5.3 5.3 0 1 0 -10.6 0ZM990.4 377.3a5.3 5.3 0 1 0 10.6 0a5.3 5.3 0 1 0 -10.6 0ZM991.0 377.6a5.3 5.3 0 1 0 10.6 0a5.3 5.3 0 1 0 -10.6 0ZM991.6 377.4a5.3 5.3 0 1 0 10.6 0a5.3 5.3 0 1 0 -10.6 0ZM992.1 376.8a5.3 5.3 0 1 0 10.6 0a5.3 5.3 0 1 0 -10.6 0ZM992.6 378.0a5.3 5.3 0 1 0 10.6 0a5.3 5.3 0 1 0 -10.6 0ZM993.2 380.5a5.3 5.3 0 1 0 10.6 0a5.3 5.3 0 1 0 -10.6 0ZM993.7 377.7a5.3 5.3 0 1 0 10.6 0a5.3 5.3 0 1 0 -10.6 0ZM994.2 379.9a5.3 5.3 0 1 0 10.6 0a5.3 5.3 0 1 0 -10.6 0ZM994.8 377.1a5.3 5.3 0 1 0 10.6 0a5.3 5.3 0 1 0 -10.6 0ZM995.3 376.8a5.3 5.3 0 1 0 10.6 0a5.3 5.3 0 1 0 -10.6 0ZM995.8 375.0a5.3 5.3 0 1 0 10.6 0a5.3 5.3 0 1 0 -10.6 0ZM996.3 374.7a5.3 5.3 0 1 0 10.6 0a5.3 5.3 0 1 0 -10.6 0ZM996.8 374.9a5.3 5.3 0 1 0 10.6 0a5.3 5.3 0 1 0 -10.6 0ZM997.3 374.3a5.3 5.3 0 1 0 10.6 0a5.3 5.3 0 1 0 -10.6 0ZM997.8 374.3a5.3 5.3 0 1 0 10.6 0a5.3 5.3 0 1 0 -10.6 0ZM998.3 372.9a5.3 5.3 0 1 0 10.6 0a5.3 5.3 0 1 0 -10.6 0ZM998.8 372.4a5.3 5.3 0 1 0 10.6 0a5.3 5.3 0 1 0 -10.6 0ZM999.3 373.1a5.3 5.3 0 1 0 10.6 0a5.3 5.3 0 1 0 -10.6 0ZM999.8 371.9a5.3 5.3 0 1 0 10.6 0a5.3 5.3 0 1 0 -10.6 0ZM1000.3 371.4a5.3 5.3 0 1 0 10.6 0a5.3 5.3 0 1 0 -10.6 0ZM1000.8 371.4a5.3 5.3 0 1 0 10.6 0a5.3 5.3 0 1 0 -10.6 0ZM1001.3 370.3a5.3 5.3 0 1 0 10.6 0a5.3 5.3 0 1 0 -10.6 0ZM1001.8 369.5a5.3 5.3 0 1 0 10.6 0a5.3 5.3 0 1 0 -10.6 0ZM1002.3 370.0a5.3 5.3 0 1 0 10.6 0a5.3 5.3 0 1 0 -10.6 0ZM1002.8 368.1a5.3 5.3 0 1 0 10.6 0a5.3 5.3 0 1 0 -10.6 0ZM1003.3 369.4a5.3 5.3 0 1 0 10.6 0a5.3 5.3 0 1 0 -10.6 0ZM1003.8 367.8a5.3 5.3 0 1 0 10.6 0a5.3 5.3 0 1 0 -10.6 0ZM1004.3 368.8a5.3 5.3 0 1 0 10.6 0a5.3 5.3 0 1 0 -10.6 0ZM1004.8 368.2a5.3 5.3 0 1 0 10.6 0a5.3 5.3 0 1 0 -10.6 0ZM1005.3 367.8a5.3 5.3 0 1 0 10.6 0a5.3 5.3 0 1 0 -10.6 0ZM1005.8 367.5a5.3 5.3 0 1 0 10.6 0a5.3 5.3 0 1 0 -10.6 0ZM1006.3 367.1a5.3 5.3 0 1 0 10.6 0a5.3 5.3 0 1 0 -10.6 0ZM1006.8 365.8a5.3 5.3 0 1 0 10.6 0a5.3 5.3 0 1 0 -10.6 0ZM1007.3 366.6a5.3 5.3 0 1 0 10.6 0a5.3 5.3 0 1 0 -10.6 0ZM1007.8 366.0a5.3 5.3 0 1 0 10.6 0a5.3 5.3 0 1 0 -10.6 0ZM1008.3 365.6a5.3 5.3 0 1 0 10.6 0a5.3 5.3 0 1 0 -10.6 0ZM1008.8 364.9a5.3 5.3 0 1 0 10.6 0a5.3 5.3 0 1 0 -10.6 0ZM1009.3 364.4a5.3 5.3 0 1 0 10.6 0a5.3 5.3 0 1 0 -10.6 0ZM1009.8 364.5a5.3 5.3 0 1 0 10.6 0a5.3 5.3 0 1 0 -10.6 0ZM1010.3 364.3a5.3 5.3 0 1 0 10.6 0a5.3 5.3 0 1 0 -10.6 0ZM1010.8 363.4a5.3 5.3 0 1 0 10.6 0a5.3 5.3 0 1 0 -10.6 0ZM1011.3 362.4a5.3 5.3 0 1 0 10.6 0a5.3 5.3 0 1 0 -10.6 0ZM1011.8 362.2a5.3 5.3 0 1 0 10.6 0a5.3 5.3 0 1 0 -10.6 0ZM1012.3 361.8a5.3 5.3 0 1 0 10.6 0a5.3 5.3 0 1 0 -10.6 0ZM1012.8 362.7a5.3 5.3 0 1 0 10.6 0a5.3 5.3 0 1 0 -10.6 0ZM1013.3 361.9a5.3 5.3 0 1 0 10.6 0a5.3 5.3 0 1 0 -10.6 0ZM1013.8 361.4a5.3 5.3 0 1 0 10.6 0a5.3 5.3 0 1 0 -10.6 0ZM1014.3 361.2a5.3 5.3 0 1 0 10.6 0a5.3 5.3 0 1 0 -10.6 0ZM1014.8 360.4a5.3 5.3 0 1 0 10.6 0a5.3 5.3 0 1 0 -10.6 0ZM1015.3 360.7a5.3 5.3 0 1 0 10.6 0a5.3 5.3 0 1 0 -10.6 0ZM1015.8 359.4a5.3 5.3 0 1 0 10.6 0a5.3 5.3 0 1 0 -10.6 0ZM1016.3 359.1a5.3 5.3 0 1 0 10.6 0a5.3 5.3 0 1 0 -10.6 0ZM1016.8 359.4a5.3 5.3 0 1 0 10.6 0a5.3 5.3 0 1 0 -10.6 0ZM1017.3 358.8a5.3 5.3 0 1 0 10.6 0a5.3 5.3 0 1 0 -10.6 0ZM1017.8 357.8a5.3 5.3 0 1 0 10.6 0a5.3 5.3 0 1 0 -10.6 0ZM1018.3 356.6a5.3 5.3 0 1 0 10.6 0a5.3 5.3 0 1 0 -10.6 0ZM1018.8 356.0a5.3 5.3 0 1 0 10.6 0a5.3 5.3 0 1 0 -10.6 0ZM1019.3 356.4a5.3 5.3 0 1 0 10.6 0a5.3 5.3 0 1 0 -10.6 0ZM1019.8 355.7a5.3 5.3 0 1 0 10.6 0a5.3 5.3 0 1 0 -10.6 0ZM1020.3 355.9a5.3 5.3 0 1 0 10.6 0a5.3 5.3 0 1 0 -10.6 0ZM1020.8 354.5a5.3 5.3 0 1 0 10.6 0a5.3 5.3 0 1 0 -10.6 0ZM1021.3 354.0a5.3 5.3 0 1 0 10.6 0a5.3 5.3 0 1 0 -10.6 0ZM1021.8 353.2a5.3 5.3 0 1 0 10.6 0a5.3 5.3 0 1 0 -10.6 0ZM1022.3 354.1a5.3 5.3 0 1 0 10.6 0a5.3 5.3 0 1 0 -10.6 0ZM1022.8 351.8a5.3 5.3 0 1 0 10.6 0a5.3 5.3 0 1 0 -10.6 0ZM1023.3 352.6a5.3 5.3 0 1 0 10.6 0a5.3 5.3 0 1 0 -10.6 0ZM1023.8 352.5a5.3 5.3 0 1 0 10.6 0a5.3 5.3 0 1 0 -10.6 0ZM1024.3 350.7a5.3 5.3 0 1 0 10.6 0a5.3 5.3 0 1 0 -10.6 0ZM1024.8 349.9a5.3 5.3 0 1 0 10.6 0a5.3 5.3 0 1 0 -10.6 0ZM1025.3 349.8a5.3 5.3 0 1 0 10.6 0a5.3 5.3 0 1 0 -10.6 0ZM1025.8 349.1a5.3 5.3 0 1 0 10.6 0a5.3 5.3 0 1 0 -10.6 0ZM1026.3 349.5a5.3 5.3 0 1 0 10.6 0a5.3 5.3 0 1 0 -10.6 0ZM1026.8 348.9a5.3 5.3 0 1 0 10.6 0a5.3 5.3 0 1 0 -10.6 0ZM1027.3 348.2a5.3 5.3 0 1 0 10.6 0a5.3 5.3 0 1 0 -10.6 0ZM1027.8 348.3a5.3 5.3 0 1 0 10.6 0a5.3 5.3 0 1 0 -10.6 0ZM1028.3 348.6a5.3 5.3 0 1 0 10.6 0a5.3 5.3 0 1 0 -10.6 0ZM1028.8 347.5a5.3 5.3 0 1 0 10.6 0a5.3 5.3 0 1 0 -10.6 0ZM1029.3 347.0a5.3 5.3 0 1 0 10.6 0a5.3 5.3 0 1 0 -10.6 0ZM1029.8 347.9a5.3 5.3 0 1 0 10.6 0a5.3 5.3 0 1 0 -10.6 0ZM1030.3 346.2a5.3 5.3 0 1 0 10.6 0a5.3 5.3 0 1 0 -10.6 0ZM1030.8 345.9a5.3 5.3 0 1 0 10.6 0a5.3 5.3 0 1 0 -10.6 0ZM1031.3 346.4a5.3 5.3 0 1 0 10.6 0a5.3 5.3 0 1 0 -10.6 0ZM1031.8 345.2a5.3 5.3 0 1 0 10.6 0a5.3 5.3 0 1 0 -10.6 0ZM1032.3 343.9a5.3 5.3 0 1 0 10.6 0a5.3 5.3 0 1 0 -10.6 0ZM1032.8 344.2a5.3 5.3 0 1 0 10.6 0a5.3 5.3 0 1 0 -10.6 0ZM1033.3 343.1a5.3 5.3 0 1 0 10.6 0a5.3 5.3 0 1 0 -10.6 0ZM1033.8 343.4a5.3 5.3 0 1 0 10.6 0a5.3 5.3 0 1 0 -10.6 0ZM1034.3 343.8a5.3 5.3 0 1 0 10.6 0a5.3 5.3 0 1 0 -10.6 0ZM1034.8 342.2a5.3 5.3 0 1 0 10.6 0a5.3 5.3 0 1 0 -10.6 0ZM1035.3 343.4a5.3 5.3 0 1 0 10.6 0a5.3 5.3 0 1 0 -10.6 0ZM1035.8 342.8a5.3 5.3 0 1 0 10.6 0a5.3 5.3 0 1 0 -10.6 0ZM1036.3 342.0a5.3 5.3 0 1 0 10.6 0a5.3 5.3 0 1 0 -10.6 0ZM1036.8 340.9a5.3 5.3 0 1 0 10.6 0a5.3 5.3 0 1 0 -10.6 0ZM1037.3 341.0a5.3 5.3 0 1 0 10.6 0a5.3 5.3 0 1 0 -10.6 0ZM1037.8 340.8a5.3 5.3 0 1 0 10.6 0a5.3 5.3 0 1 0 -10.6 0ZM1038.3 340.6a5.3 5.3 0 1 0 10.6 0a5.3 5.3 0 1 0 -10.6 0ZM1038.8 340.3a5.3 5.3 0 1 0 10.6 0a5.3 5.3 0 1 0 -10.6 0ZM1039.3 337.9a5.3 5.3 0 1 0 10.6 0a5.3 5.3 0 1 0 -10.6 0ZM1039.8 338.3a5.3 5.3 0 1 0 10.6 0a5.3 5.3 0 1 0 -10.6 0ZM1040.3 337.5a5.3 5.3 0 1 0 10.6 0a5.3 5.3 0 1 0 -10.6 0ZM1040.8 337.3a5.3 5.3 0 1 0 10.6 0a5.3 5.3 0 1 0 -10.6 0ZM1041.3 337.3a5.3 5.3 0 1 0 10.6 0a5.3 5.3 0 1 0 -10.6 0ZM1041.8 338.0a5.3 5.3 0 1 0 10.6 0a5.3 5.3 0 1 0 -10.6 0ZM1042.3 336.3a5.3 5.3 0 1 0 10.6 0a5.3 5.3 0 1 0 -10.6 0ZM1042.8 336.6a5.3 5.3 0 1 0 10.6 0a5.3 5.3 0 1 0 -10.6 0ZM1043.3 336.0a5.3 5.3 0 1 0 10.6 0a5.3 5.3 0 1 0 -10.6 0ZM1043.8 335.6a5.3 5.3 0 1 0 10.6 0a5.3 5.3 0 1 0 -10.6 0ZM1044.3 336.0a5.3 5.3 0 1 0 10.6 0a5.3 5.3 0 1 0 -10.6 0ZM1044.8 334.2a5.3 5.3 0 1 0 10.6 0a5.3 5.3 0 1 0 -10.6 0ZM1045.3 334.6a5.3 5.3 0 1 0 10.6 0a5.3 5.3 0 1 0 -10.6 0ZM1045.8 334.8a5.3 5.3 0 1 0 10.6 0a5.3 5.3 0 1 0 -10.6 0ZM1046.3 335.2a5.3 5.3 0 1 0 10.6 0a5.3 5.3 0 1 0 -10.6 0ZM1046.8 332.9a5.3 5.3 0 1 0 10.6 0a5.3 5.3 0 1 0 -10.6 0ZM1047.3 332.2a5.3 5.3 0 1 0 10.6 0a5.3 5.3 0 1 0 -10.6 0ZM1047.8 331.6a5.3 5.3 0 1 0 10.6 0a5.3 5.3 0 1 0 -10.6 0ZM1048.3 331.5a5.3 5.3 0 1 0 10.6 0a5.3 5.3 0 1 0 -10.6 0ZM1048.8 331.2a5.3 5.3 0 1 0 10.6 0a5.3 5.3 0 1 0 -10.6 0ZM1049.3 330.7a5.3 5.3 0 1 0 10.6 0a5.3 5.3 0 1 0 -10.6 0ZM1049.9 330.6a5.3 5.3 0 1 0 10.6 0a5.3 5.3 0 1 0 -10.6 0ZM1050.4 329.6a5.3 5.3 0 1 0 10.6 0a5.3 5.3 0 1 0 -10.6 0ZM1050.9 329.5a5.3 5.3 0 1 0 10.6 0a5.3 5.3 0 1 0 -10.6 0ZM1051.4 328.1a5.3 5.3 0 1 0 10.6 0a5.3 5.3 0 1 0 -10.6 0ZM1051.9 328.5a5.3 5.3 0 1 0 10.6 0a5.3 5.3 0 1 0 -10.6 0ZM1052.4 328.3a5.3 5.3 0 1 0 10.6 0a5.3 5.3 0 1 0 -10.6 0ZM1052.9 326.8a5.3 5.3 0 1 0 10.6 0a5.3 5.3 0 1 0 -10.6 0ZM1053.4 327.5a5.3 5.3 0 1 0 10.6 0a5.3 5.3 0 1 0 -10.6 0ZM1053.9 327.4a5.3 5.3 0 1 0 10.6 0a5.3 5.3 0 1 0 -10.6 0ZM1054.4 326.7a5.3 5.3 0 1 0 10.6 0a5.3 5.3 0 1 0 -10.6 0ZM1054.9 326.3a5.3 5.3 0 1 0 10.6 0a5.3 5.3 0 1 0 -10.6 0ZM1055.4 325.6a5.3 5.3 0 1 0 10.6 0a5.3 5.3 0 1 0 -10.6 0ZM1055.9 324.4a5.3 5.3 0 1 0 10.6 0a5.3 5.3 0 1 0 -10.6 0ZM1056.4 324.7a5.3 5.3 0 1 0 10.6 0a5.3 5.3 0 1 0 -10.6 0ZM1056.9 323.9a5.3 5.3 0 1 0 10.6 0a5.3 5.3 0 1 0 -10.6 0ZM1057.4 324.0a5.3 5.3 0 1 0 10.6 0a5.3 5.3 0 1 0 -10.6 0ZM1057.9 323.6a5.3 5.3 0 1 0 10.6 0a5.3 5.3 0 1 0 -10.6 0ZM1058.4 323.2a5.3 5.3 0 1 0 10.6 0a5.3 5.3 0 1 0 -10.6 0ZM1058.9 322.1a5.3 5.3 0 1 0 10.6 0a5.3 5.3 0 1 0 -10.6 0ZM1059.4 322.5a5.3 5.3 0 1 0 10.6 0a5.3 5.3 0 1 0 -10.6 0ZM1059.9 323.0a5.3 5.3 0 1 0 10.6 0a5.3 5.3 0 1 0 -10.6 0ZM1060.4 322.1a5.3 5.3 0 1 0 10.6 0a5.3 5.3 0 1 0 -10.6 0ZM1060.9 321.2a5.3 5.3 0 1 0 10.6 0a5.3 5.3 0 1 0 -10.6 0ZM1061.4 320.5a5.3 5.3 0 1 0 10.6 0a5.3 5.3 0 1 0 -10.6 0ZM1061.9 320.9a5.3 5.3 0 1 0 10.6 0a5.3 5.3 0 1 0 -10.6 0ZM1062.4 320.1a5.3 5.3 0 1 0 10.6 0a5.3 5.3 0 1 0 -10.6 0ZM1062.9 318.9a5.3 5.3 0 1 0 10.6 0a5.3 5.3 0 1 0 -10.6 0ZM1063.4 319.3a5.3 5.3 0 1 0 10.6 0a5.3 5.3 0 1 0 -10.6 0ZM1063.9 320.0a5.3 5.3 0 1 0 10.6 0a5.3 5.3 0 1 0 -10.6 0ZM1064.4 317.8a5.3 5.3 0 1 0 10.6 0a5.3 5.3 0 1 0 -10.6 0ZM1064.9 318.3a5.3 5.3 0 1 0 10.6 0a5.3 5.3 0 1 0 -10.6 0ZM1065.4 317.5a5.3 5.3 0 1 0 10.6 0a5.3 5.3 0 1 0 -10.6 0ZM1065.9 317.4a5.3 5.3 0 1 0 10.6 0a5.3 5.3 0 1 0 -10.6 0ZM1066.4 316.8a5.3 5.3 0 1 0 10.6 0a5.3 5.3 0 1 0 -10.6 0ZM1066.9 316.0a5.3 5.3 0 1 0 10.6 0a5.3 5.3 0 1 0 -10.6 0ZM1067.4 314.7a5.3 5.3 0 1 0 10.6 0a5.3 5.3 0 1 0 -10.6 0ZM1067.9 315.5a5.3 5.3 0 1 0 10.6 0a5.3 5.3 0 1 0 -10.6 0ZM1068.4 315.6a5.3 5.3 0 1 0 10.6 0a5.3 5.3 0 1 0 -10.6 0ZM1068.9 315.0a5.3 5.3 0 1 0 10.6 0a5.3 5.3 0 1 0 -10.6 0ZM1069.4 314.2a5.3 5.3 0 1 0 10.6 0a5.3 5.3 0 1 0 -10.6 0ZM1069.9 314.1a5.3 5.3 0 1 0 10.6 0a5.3 5.3 0 1 0 -10.6 0ZM1070.4 315.1a5.3 5.3 0 1 0 10.6 0a5.3 5.3 0 1 0 -10.6 0ZM1070.9 313.0a5.3 5.3 0 1 0 10.6 0a5.3 5.3 0 1 0 -10.6 0ZM1071.4 313.3a5.3 5.3 0 1 0 10.6 0a5.3 5.3 0 1 0 -10.6 0ZM1071.9 312.4a5.3 5.3 0 1 0 10.6 0a5.3 5.3 0 1 0 -10.6 0ZM1072.4 312.7a5.3 5.3 0 1 0 10.6 0a5.3 5.3 0 1 0 -10.6 0ZM1072.9 312.6a5.3 5.3 0 1 0 10.6 0a5.3 5.3 0 1 0 -10.6 0ZM1073.4 312.6a5.3 5.3 0 1 0 10.6 0a5.3 5.3 0 1 0 -10.6 0ZM1073.9 311.6a5.3 5.3 0 1 0 10.6 0a5.3 5.3 0 1 0 -10.6 0ZM1074.4 311.0a5.3 5.3 0 1 0 10.6 0a5.3 5.3 0 1 0 -10.6 0ZM1074.9 310.6a5.3 5.3 0 1 0 10.6 0a5.3 5.3 0 1 0 -10.6 0ZM1075.4 310.5a5.3 5.3 0 1 0 10.6 0a5.3 5.3 0 1 0 -10.6 0ZM1075.9 309.8a5.3 5.3 0 1 0 10.6 0a5.3 5.3 0 1 0 -10.6 0ZM1076.4 309.5a5.3 5.3 0 1 0 10.6 0a5.3 5.3 0 1 0 -10.6 0ZM1076.9 309.5a5.3 5.3 0 1 0 10.6 0a5.3 5.3 0 1 0 -10.6 0ZM1077.4 308.2a5.3 5.3 0 1 0 10.6 0a5.3 5.3 0 1 0 -10.6 0ZM1077.9 308.0a5.3 5.3 0 1 0 10.6 0a5.3 5.3 0 1 0 -10.6 0ZM1078.4 307.5a5.3 5.3 0 1 0 10.6 0a5.3 5.3 0 1 0 -10.6 0ZM1078.9 307.2a5.3 5.3 0 1 0 10.6 0a5.3 5.3 0 1 0 -10.6 0ZM1079.4 307.8a5.3 5.3 0 1 0 10.6 0a5.3 5.3 0 1 0 -10.6 0ZM1079.9 306.4a5.3 5.3 0 1 0 10.6 0a5.3 5.3 0 1 0 -10.6 0ZM1080.4 306.5a5.3 5.3 0 1 0 10.6 0a5.3 5.3 0 1 0 -10.6 0ZM1080.9 306.8a5.3 5.3 0 1 0 10.6 0a5.3 5.3 0 1 0 -10.6 0ZM1081.4 305.5a5.3 5.3 0 1 0 10.6 0a5.3 5.3 0 1 0 -10.6 0ZM1081.9 304.8a5.3 5.3 0 1 0 10.6 0a5.3 5.3 0 1 0 -10.6 0ZM1082.4 304.0a5.3 5.3 0 1 0 10.6 0a5.3 5.3 0 1 0 -10.6 0ZM1082.9 302.6a5.3 5.3 0 1 0 10.6 0a5.3 5.3 0 1 0 -10.6 0ZM1083.4 303.0a5.3 5.3 0 1 0 10.6 0a5.3 5.3 0 1 0 -10.6 0ZM1083.9 302.5a5.3 5.3 0 1 0 10.6 0a5.3 5.3 0 1 0 -10.6 0ZM1084.4 302.8a5.3 5.3 0 1 0 10.6 0a5.3 5.3 0 1 0 -10.6 0ZM1084.9 302.1a5.3 5.3 0 1 0 10.6 0a5.3 5.3 0 1 0 -10.6 0ZM1085.4 300.6a5.3 5.3 0 1 0 10.6 0a5.3 5.3 0 1 0 -10.6 0ZM1085.9 301.0a5.3 5.3 0 1 0 10.6 0a5.3 5.3 0 1 0 -10.6 0ZM1086.4 300.1a5.3 5.3 0 1 0 10.6 0a5.3 5.3 0 1 0 -10.6 0ZM1086.9 300.9a5.3 5.3 0 1 0 10.6 0a5.3 5.3 0 1 0 -10.6 0ZM1087.4 300.3a5.3 5.3 0 1 0 10.6 0a5.3 5.3 0 1 0 -10.6 0ZM1087.9 299.3a5.3 5.3 0 1 0 10.6 0a5.3 5.3 0 1 0 -10.6 0ZM1088.4 298.5a5.3 5.3 0 1 0 10.6 0a5.3 5.3 0 1 0 -10.6 0ZM1088.9 299.1a5.3 5.3 0 1 0 10.6 0a5.3 5.3 0 1 0 -10.6 0ZM1089.4 298.1a5.3 5.3 0 1 0 10.6 0a5.3 5.3 0 1 0 -10.6 0ZM1089.9 297.7a5.3 5.3 0 1 0 10.6 0a5.3 5.3 0 1 0 -10.6 0ZM1090.4 297.3a5.3 5.3 0 1 0 10.6 0a5.3 5.3 0 1 0 -10.6 0ZM1090.9 296.4a5.3 5.3 0 1 0 10.6 0a5.3 5.3 0 1 0 -10.6 0ZM1091.4 296.4a5.3 5.3 0 1 0 10.6 0a5.3 5.3 0 1 0 -10.6 0ZM1091.9 295.3a5.3 5.3 0 1 0 10.6 0a5.3 5.3 0 1 0 -10.6 0ZM1092.4 295.8a5.3 5.3 0 1 0 10.6 0a5.3 5.3 0 1 0 -10.6 0ZM1092.9 295.0a5.3 5.3 0 1 0 10.6 0a5.3 5.3 0 1 0 -10.6 0ZM1093.4 293.8a5.3 5.3 0 1 0 10.6 0a5.3 5.3 0 1 0 -10.6 0ZM1093.9 294.3a5.3 5.3 0 1 0 10.6 0a5.3 5.3 0 1 0 -10.6 0ZM1094.4 293.5a5.3 5.3 0 1 0 10.6 0a5.3 5.3 0 1 0 -10.6 0ZM1094.9 292.7a5.3 5.3 0 1 0 10.6 0a5.3 5.3 0 1 0 -10.6 0ZM1095.4 292.6a5.3 5.3 0 1 0 10.6 0a5.3 5.3 0 1 0 -10.6 0ZM1095.9 292.6a5.3 5.3 0 1 0 10.6 0a5.3 5.3 0 1 0 -10.6 0ZM1096.4 291.5a5.3 5.3 0 1 0 10.6 0a5.3 5.3 0 1 0 -10.6 0ZM1096.9 291.2a5.3 5.3 0 1 0 10.6 0a5.3 5.3 0 1 0 -10.6 0ZM1097.4 291.7a5.3 5.3 0 1 0 10.6 0a5.3 5.3 0 1 0 -10.6 0ZM1097.9 290.8a5.3 5.3 0 1 0 10.6 0a5.3 5.3 0 1 0 -10.6 0ZM1098.4 289.2a5.3 5.3 0 1 0 10.6 0a5.3 5.3 0 1 0 -10.6 0ZM1098.9 289.7a5.3 5.3 0 1 0 10.6 0a5.3 5.3 0 1 0 -10.6 0ZM1099.4 288.4a5.3 5.3 0 1 0 10.6 0a5.3 5.3 0 1 0 -10.6 0ZM1099.9 289.0a5.3 5.3 0 1 0 10.6 0a5.3 5.3 0 1 0 -10.6 0ZM1100.4 288.1a5.3 5.3 0 1 0 10.6 0a5.3 5.3 0 1 0 -10.6 0ZM1100.9 287.8a5.3 5.3 0 1 0 10.6 0a5.3 5.3 0 1 0 -10.6 0ZM1101.4 286.5a5.3 5.3 0 1 0 10.6 0a5.3 5.3 0 1 0 -10.6 0ZM1101.9 286.3a5.3 5.3 0 1 0 10.6 0a5.3 5.3 0 1 0 -10.6 0ZM1102.4 286.8a5.3 5.3 0 1 0 10.6 0a5.3 5.3 0 1 0 -10.6 0ZM1102.9 285.3a5.3 5.3 0 1 0 10.6 0a5.3 5.3 0 1 0 -10.6 0ZM1103.4 286.0a5.3 5.3 0 1 0 10.6 0a5.3 5.3 0 1 0 -10.6 0ZM1103.9 285.0a5.3 5.3 0 1 0 10.6 0a5.3 5.3 0 1 0 -10.6 0ZM1104.4 284.7a5.3 5.3 0 1 0 10.6 0a5.3 5.3 0 1 0 -10.6 0ZM1104.9 283.7a5.3 5.3 0 1 0 10.6 0a5.3 5.3 0 1 0 -10.6 0ZM1105.4 284.1a5.3 5.3 0 1 0 10.6 0a5.3 5.3 0 1 0 -10.6 0ZM1105.9 283.5a5.3 5.3 0 1 0 10.6 0a5.3 5.3 0 1 0 -10.6 0ZM1106.4 283.1a5.3 5.3 0 1 0 10.6 0a5.3 5.3 0 1 0 -10.6 0ZM1106.9 283.5a5.3 5.3 0 1 0 10.6 0a5.3 5.3 0 1 0 -10.6 0ZM1107.4 281.8a5.3 5.3 0 1 0 10.6 0a5.3 5.3 0 1 0 -10.6 0ZM1107.9 281.3a5.3 5.3 0 1 0 10.6 0a5.3 5.3 0 1 0 -10.6 0ZM1108.4 280.1a5.3 5.3 0 1 0 10.6 0a5.3 5.3 0 1 0 -10.6 0ZM1108.9 281.0a5.3 5.3 0 1 0 10.6 0a5.3 5.3 0 1 0 -10.6 0ZM1109.4 279.5a5.3 5.3 0 1 0 10.6 0a5.3 5.3 0 1 0 -10.6 0ZM1109.9 279.5a5.3 5.3 0 1 0 10.6 0a5.3 5.3 0 1 0 -10.6 0ZM1110.4 277.9a5.3 5.3 0 1 0 10.6 0a5.3 5.3 0 1 0 -10.6 0ZM1110.9 277.7a5.3 5.3 0 1 0 10.6 0a5.3 5.3 0 1 0 -10.6 0ZM1111.4 277.7a5.3 5.3 0 1 0 10.6 0a5.3 5.3 0 1 0 -10.6 0ZM1111.9 277.3a5.3 5.3 0 1 0 10.6 0a5.3 5.3 0 1 0 -10.6 0ZM1112.4 276.3a5.3 5.3 0 1 0 10.6 0a5.3 5.3 0 1 0 -10.6 0ZM1113.0 276.5a5.3 5.3 0 1 0 10.6 0a5.3 5.3 0 1 0 -10.6 0ZM1113.5 276.0a5.3 5.3 0 1 0 10.6 0a5.3 5.3 0 1 0 -10.6 0ZM1114.0 276.0a5.3 5.3 0 1 0 10.6 0a5.3 5.3 0 1 0 -10.6 0ZM1114.5 274.9a5.3 5.3 0 1 0 10.6 0a5.3 5.3 0 1 0 -10.6 0ZM1115.0 274.8a5.3 5.3 0 1 0 10.6 0a5.3 5.3 0 1 0 -10.6 0ZM1115.5 273.9a5.3 5.3 0 1 0 10.6 0a5.3 5.3 0 1 0 -10.6 0ZM1116.0 274.3a5.3 5.3 0 1 0 10.6 0a5.3 5.3 0 1 0 -10.6 0ZM1116.5 273.3a5.3 5.3 0 1 0 10.6 0a5.3 5.3 0 1 0 -10.6 0ZM1117.0 272.9a5.3 5.3 0 1 0 10.6 0a5.3 5.3 0 1 0 -10.6 0ZM1117.5 272.2a5.3 5.3 0 1 0 10.6 0a5.3 5.3 0 1 0 -10.6 0ZM1118.0 272.6a5.3 5.3 0 1 0 10.6 0a5.3 5.3 0 1 0 -10.6 0ZM1118.5 271.7a5.3 5.3 0 1 0 10.6 0a5.3 5.3 0 1 0 -10.6 0ZM1119.0 271.3a5.3 5.3 0 1 0 10.6 0a5.3 5.3 0 1 0 -10.6 0ZM1119.5 271.4a5.3 5.3 0 1 0 10.6 0a5.3 5.3 0 1 0 -10.6 0ZM1120.0 270.0a5.3 5.3 0 1 0 10.6 0a5.3 5.3 0 1 0 -10.6 0ZM1120.5 270.4a5.3 5.3 0 1 0 10.6 0a5.3 5.3 0 1 0 -10.6 0ZM1121.0 270.4a5.3 5.3 0 1 0 10.6 0a5.3 5.3 0 1 0 -10.6 0ZM1121.5 268.6a5.3 5.3 0 1 0 10.6 0a5.3 5.3 0 1 0 -10.6 0ZM1122.0 269.5a5.3 5.3 0 1 0 10.6 0a5.3 5.3 0 1 0 -10.6 0ZM1122.5 268.8a5.3 5.3 0 1 0 10.6 0a5.3 5.3 0 1 0 -10.6 0ZM1123.0 268.2a5.3 5.3 0 1 0 10.6 0a5.3 5.3 0 1 0 -10.6 0ZM1123.5 268.0a5.3 5.3 0 1 0 10.6 0a5.3 5.3 0 1 0 -10.6 0ZM1124.0 267.0a5.3 5.3 0 1 0 10.6 0a5.3 5.3 0 1 0 -10.6 0ZM1124.5 267.4a5.3 5.3 0 1 0 10.6 0a5.3 5.3 0 1 0 -10.6 0ZM1125.0 266.9a5.3 5.3 0 1 0 10.6 0a5.3 5.3 0 1 0 -10.6 0ZM1125.5 265.9a5.3 5.3 0 1 0 10.6 0a5.3 5.3 0 1 0 -10.6 0ZM1126.0 266.1a5.3 5.3 0 1 0 10.6 0a5.3 5.3 0 1 0 -10.6 0ZM1126.5 264.9a5.3 5.3 0 1 0 10.6 0a5.3 5.3 0 1 0 -10.6 0ZM1127.0 265.0a5.3 5.3 0 1 0 10.6 0a5.3 5.3 0 1 0 -10.6 0ZM1127.5 264.0a5.3 5.3 0 1 0 10.6 0a5.3 5.3 0 1 0 -10.6 0ZM1128.0 264.1a5.3 5.3 0 1 0 10.6 0a5.3 5.3 0 1 0 -10.6 0ZM1128.5 262.8a5.3 5.3 0 1 0 10.6 0a5.3 5.3 0 1 0 -10.6 0ZM1129.0 263.0a5.3 5.3 0 1 0 10.6 0a5.3 5.3 0 1 0 -10.6 0ZM1129.5 262.6a5.3 5.3 0 1 0 10.6 0a5.3 5.3 0 1 0 -10.6 0ZM1130.0 262.4a5.3 5.3 0 1 0 10.6 0a5.3 5.3 0 1 0 -10.6 0ZM1130.5 262.6a5.3 5.3 0 1 0 10.6 0a5.3 5.3 0 1 0 -10.6 0ZM1131.0 262.8a5.3 5.3 0 1 0 10.6 0a5.3 5.3 0 1 0 -10.6 0ZM1131.5 260.5a5.3 5.3 0 1 0 10.6 0a5.3 5.3 0 1 0 -10.6 0ZM1132.0 261.5a5.3 5.3 0 1 0 10.6 0a5.3 5.3 0 1 0 -10.6 0ZM1132.5 260.7a5.3 5.3 0 1 0 10.6 0a5.3 5.3 0 1 0 -10.6 0ZM1133.0 260.5a5.3 5.3 0 1 0 10.6 0a5.3 5.3 0 1 0 -10.6 0ZM1133.5 260.1a5.3 5.3 0 1 0 10.6 0a5.3 5.3 0 1 0 -10.6 0ZM1134.0 259.6a5.3 5.3 0 1 0 10.6 0a5.3 5.3 0 1 0 -10.6 0ZM1134.5 259.1a5.3 5.3 0 1 0 10.6 0a5.3 5.3 0 1 0 -10.6 0ZM1135.0 258.7a5.3 5.3 0 1 0 10.6 0a5.3 5.3 0 1 0 -10.6 0ZM1135.5 258.6a5.3 5.3 0 1 0 10.6 0a5.3 5.3 0 1 0 -10.6 0ZM1136.0 257.9a5.3 5.3 0 1 0 10.6 0a5.3 5.3 0 1 0 -10.6 0ZM1136.5 257.4a5.3 5.3 0 1 0 10.6 0a5.3 5.3 0 1 0 -10.6 0ZM1137.0 257.1a5.3 5.3 0 1 0 10.6 0a5.3 5.3 0 1 0 -10.6 0ZM1137.5 256.9a5.3 5.3 0 1 0 10.6 0a5.3 5.3 0 1 0 -10.6 0ZM1138.0 257.1a5.3 5.3 0 1 0 10.6 0a5.3 5.3 0 1 0 -10.6 0ZM1138.5 255.4a5.3 5.3 0 1 0 10.6 0a5.3 5.3 0 1 0 -10.6 0ZM1139.0 254.5a5.3 5.3 0 1 0 10.6 0a5.3 5.3 0 1 0 -10.6 0ZM1139.5 254.5a5.3 5.3 0 1 0 10.6 0a5.3 5.3 0 1 0 -10.6 0ZM1140.0 254.5a5.3 5.3 0 1 0 10.6 0a5.3 5.3 0 1 0 -10.6 0ZM1140.5 253.9a5.3 5.3 0 1 0 10.6 0a5.3 5.3 0 1 0 -10.6 0ZM1141.0 253.5a5.3 5.3 0 1 0 10.6 0a5.3 5.3 0 1 0 -10.6 0ZM1141.5 251.7a5.3 5.3 0 1 0 10.6 0a5.3 5.3 0 1 0 -10.6 0ZM1142.0 252.3a5.3 5.3 0 1 0 10.6 0a5.3 5.3 0 1 0 -10.6 0ZM1142.5 251.6a5.3 5.3 0 1 0 10.6 0a5.3 5.3 0 1 0 -10.6 0ZM1143.0 250.9a5.3 5.3 0 1 0 10.6 0a5.3 5.3 0 1 0 -10.6 0ZM1143.5 250.6a5.3 5.3 0 1 0 10.6 0a5.3 5.3 0 1 0 -10.6 0ZM1144.0 250.5a5.3 5.3 0 1 0 10.6 0a5.3 5.3 0 1 0 -10.6 0ZM1144.5 250.3a5.3 5.3 0 1 0 10.6 0a5.3 5.3 0 1 0 -10.6 0ZM1145.0 249.3a5.3 5.3 0 1 0 10.6 0a5.3 5.3 0 1 0 -10.6 0ZM1145.5 248.5a5.3 5.3 0 1 0 10.6 0a5.3 5.3 0 1 0 -10.6 0ZM1146.0 249.0a5.3 5.3 0 1 0 10.6 0a5.3 5.3 0 1 0 -10.6 0ZM1146.5 249.2a5.3 5.3 0 1 0 10.6 0a5.3 5.3 0 1 0 -10.6 0ZM1147.0 247.8a5.3 5.3 0 1 0 10.6 0a5.3 5.3 0 1 0 -10.6 0ZM1147.5 247.3a5.3 5.3 0 1 0 10.6 0a5.3 5.3 0 1 0 -10.6 0ZM1148.0 246.2a5.3 5.3 0 1 0 10.6 0a5.3 5.3 0 1 0 -10.6 0ZM1148.5 246.3a5.3 5.3 0 1 0 10.6 0a5.3 5.3 0 1 0 -10.6 0ZM1149.0 246.6a5.3 5.3 0 1 0 10.6 0a5.3 5.3 0 1 0 -10.6 0ZM1149.5 244.4a5.3 5.3 0 1 0 10.6 0a5.3 5.3 0 1 0 -10.6 0ZM1150.0 245.6a5.3 5.3 0 1 0 10.6 0a5.3 5.3 0 1 0 -10.6 0ZM1150.5 243.8a5.3 5.3 0 1 0 10.6 0a5.3 5.3 0 1 0 -10.6 0ZM1151.0 245.1a5.3 5.3 0 1 0 10.6 0a5.3 5.3 0 1 0 -10.6 0ZM1151.5 244.2a5.3 5.3 0 1 0 10.6 0a5.3 5.3 0 1 0 -10.6 0ZM1152.0 243.3a5.3 5.3 0 1 0 10.6 0a5.3 5.3 0 1 0 -10.6 0ZM1152.5 243.3a5.3 5.3 0 1 0 10.6 0a5.3 5.3 0 1 0 -10.6 0ZM1153.0 243.7a5.3 5.3 0 1 0 10.6 0a5.3 5.3 0 1 0 -10.6 0ZM1153.5 242.1a5.3 5.3 0 1 0 10.6 0a5.3 5.3 0 1 0 -10.6 0ZM1154.0 242.9a5.3 5.3 0 1 0 10.6 0a5.3 5.3 0 1 0 -10.6 0ZM1154.5 242.0a5.3 5.3 0 1 0 10.6 0a5.3 5.3 0 1 0 -10.6 0ZM1155.0 241.3a5.3 5.3 0 1 0 10.6 0a5.3 5.3 0 1 0 -10.6 0ZM1155.5 241.7a5.3 5.3 0 1 0 10.6 0a5.3 5.3 0 1 0 -10.6 0ZM1156.0 239.7a5.3 5.3 0 1 0 10.6 0a5.3 5.3 0 1 0 -10.6 0ZM1156.5 239.8a5.3 5.3 0 1 0 10.6 0a5.3 5.3 0 1 0 -10.6 0ZM1157.0 238.8a5.3 5.3 0 1 0 10.6 0a5.3 5.3 0 1 0 -10.6 0ZM1157.5 239.0a5.3 5.3 0 1 0 10.6 0a5.3 5.3 0 1 0 -10.6 0ZM1158.0 239.1a5.3 5.3 0 1 0 10.6 0a5.3 5.3 0 1 0 -10.6 0ZM1158.5 237.8a5.3 5.3 0 1 0 10.6 0a5.3 5.3 0 1 0 -10.6 0ZM1159.0 238.2a5.3 5.3 0 1 0 10.6 0a5.3 5.3 0 1 0 -10.6 0ZM1159.5 237.6a5.3 5.3 0 1 0 10.6 0a5.3 5.3 0 1 0 -10.6 0ZM1160.0 236.6a5.3 5.3 0 1 0 10.6 0a5.3 5.3 0 1 0 -10.6 0ZM1160.5 236.4a5.3 5.3 0 1 0 10.6 0a5.3 5.3 0 1 0 -10.6 0ZM1161.0 236.4a5.3 5.3 0 1 0 10.6 0a5.3 5.3 0 1 0 -10.6 0ZM1161.5 235.9a5.3 5.3 0 1 0 10.6 0a5.3 5.3 0 1 0 -10.6 0ZM1162.0 235.9a5.3 5.3 0 1 0 10.6 0a5.3 5.3 0 1 0 -10.6 0ZM1162.5 234.2a5.3 5.3 0 1 0 10.6 0a5.3 5.3 0 1 0 -10.6 0ZM1163.0 233.7a5.3 5.3 0 1 0 10.6 0a5.3 5.3 0 1 0 -10.6 0ZM1163.5 234.5a5.3 5.3 0 1 0 10.6 0a5.3 5.3 0 1 0 -10.6 0ZM1164.0 232.7a5.3 5.3 0 1 0 10.6 0a5.3 5.3 0 1 0 -10.6 0ZM1164.5 233.5a5.3 5.3 0 1 0 10.6 0a5.3 5.3 0 1 0 -10.6 0ZM1165.0 232.5a5.3 5.3 0 1 0 10.6 0a5.3 5.3 0 1 0 -10.6 0ZM1165.5 232.4a5.3 5.3 0 1 0 10.6 0a5.3 5.3 0 1 0 -10.6 0ZM1166.0 231.4a5.3 5.3 0 1 0 10.6 0a5.3 5.3 0 1 0 -10.6 0ZM1166.5 231.6a5.3 5.3 0 1 0 10.6 0a5.3 5.3 0 1 0 -10.6 0ZM1167.0 231.4a5.3 5.3 0 1 0 10.6 0a5.3 5.3 0 1 0 -10.6 0ZM1167.5 231.1a5.3 5.3 0 1 0 10.6 0a5.3 5.3 0 1 0 -10.6 0ZM1168.0 230.2a5.3 5.3 0 1 0 10.6 0a5.3 5.3 0 1 0 -10.6 0ZM1168.5 229.0a5.3 5.3 0 1 0 10.6 0a5.3 5.3 0 1 0 -10.6 0ZM1169.0 229.9a5.3 5.3 0 1 0 10.6 0a5.3 5.3 0 1 0 -10.6 0ZM1169.5 228.8a5.3 5.3 0 1 0 10.6 0a5.3 5.3 0 1 0 -10.6 0ZM1170.0 229.2a5.3 5.3 0 1 0 10.6 0a5.3 5.3 0 1 0 -10.6 0ZM1170.5 227.6a5.3 5.3 0 1 0 10.6 0a5.3 5.3 0 1 0 -10.6 0ZM1171.0 228.1a5.3 5.3 0 1 0 10.6 0a5.3 5.3 0 1 0 -10.6 0ZM1171.5 227.4a5.3 5.3 0 1 0 10.6 0a5.3 5.3 0 1 0 -10.6 0ZM1172.0 227.3a5.3 5.3 0 1 0 10.6 0a5.3 5.3 0 1 0 -10.6 0ZM1172.5 227.3a5.3 5.3 0 1 0 10.6 0a5.3 5.3 0 1 0 -10.6 0ZM1173.0 226.9a5.3 5.3 0 1 0 10.6 0a5.3 5.3 0 1 0 -10.6 0ZM1173.5 226.6a5.3 5.3 0 1 0 10.6 0a5.3 5.3 0 1 0 -10.6 0ZM1174.0 225.6a5.3 5.3 0 1 0 10.6 0a5.3 5.3 0 1 0 -10.6 0ZM1174.5 225.2a5.3 5.3 0 1 0 10.6 0a5.3 5.3 0 1 0 -10.6 0ZM1175.0 224.7a5.3 5.3 0 1 0 10.6 0a5.3 5.3 0 1 0 -10.6 0ZM1175.6 223.7a5.3 5.3 0 1 0 10.6 0a5.3 5.3 0 1 0 -10.6 0ZM1176.1 224.4a5.3 5.3 0 1 0 10.6 0a5.3 5.3 0 1 0 -10.6 0ZM1176.6 222.8a5.3 5.3 0 1 0 10.6 0a5.3 5.3 0 1 0 -10.6 0ZM1177.1 222.7a5.3 5.3 0 1 0 10.6 0a5.3 5.3 0 1 0 -10.6 0ZM1177.6 222.9a5.3 5.3 0 1 0 10.6 0a5.3 5.3 0 1 0 -10.6 0ZM1178.1 221.9a5.3 5.3 0 1 0 10.6 0a5.3 5.3 0 1 0 -10.6 0ZM1178.6 221.6a5.3 5.3 0 1 0 10.6 0a5.3 5.3 0 1 0 -10.6 0ZM1179.1 220.1a5.3 5.3 0 1 0 10.6 0a5.3 5.3 0 1 0 -10.6 0ZM1179.6 220.3a5.3 5.3 0 1 0 10.6 0a5.3 5.3 0 1 0 -10.6 0ZM1180.1 220.0a5.3 5.3 0 1 0 10.6 0a5.3 5.3 0 1 0 -10.6 0ZM1180.6 219.9a5.3 5.3 0 1 0 10.6 0a5.3 5.3 0 1 0 -10.6 0ZM1181.1 220.1a5.3 5.3 0 1 0 10.6 0a5.3 5.3 0 1 0 -10.6 0ZM1181.6 219.3a5.3 5.3 0 1 0 10.6 0a5.3 5.3 0 1 0 -10.6 0ZM1182.1 218.9a5.3 5.3 0 1 0 10.6 0a5.3 5.3 0 1 0 -10.6 0ZM1182.6 218.5a5.3 5.3 0 1 0 10.6 0a5.3 5.3 0 1 0 -10.6 0ZM1183.1 218.4a5.3 5.3 0 1 0 10.6 0a5.3 5.3 0 1 0 -10.6 0ZM1183.6 218.0a5.3 5.3 0 1 0 10.6 0a5.3 5.3 0 1 0 -10.6 0ZM1184.1 217.0a5.3 5.3 0 1 0 10.6 0a5.3 5.3 0 1 0 -10.6 0ZM1184.6 216.1a5.3 5.3 0 1 0 10.6 0a5.3 5.3 0 1 0 -10.6 0ZM1185.1 216.0a5.3 5.3 0 1 0 10.6 0a5.3 5.3 0 1 0 -10.6 0ZM1185.6 215.0a5.3 5.3 0 1 0 10.6 0a5.3 5.3 0 1 0 -10.6 0ZM1186.1 214.7a5.3 5.3 0 1 0 10.6 0a5.3 5.3 0 1 0 -10.6 0ZM1186.6 214.4a5.3 5.3 0 1 0 10.6 0a5.3 5.3 0 1 0 -10.6 0ZM1187.1 213.4a5.3 5.3 0 1 0 10.6 0a5.3 5.3 0 1 0 -10.6 0ZM1187.6 212.5a5.3 5.3 0 1 0 10.6 0a5.3 5.3 0 1 0 -10.6 0ZM1188.1 212.0a5.3 5.3 0 1 0 10.6 0a5.3 5.3 0 1 0 -10.6 0ZM1188.6 211.9a5.3 5.3 0 1 0 10.6 0a5.3 5.3 0 1 0 -10.6 0ZM1189.1 211.6a5.3 5.3 0 1 0 10.6 0a5.3 5.3 0 1 0 -10.6 0ZM1189.6 211.3a5.3 5.3 0 1 0 10.6 0a5.3 5.3 0 1 0 -10.6 0ZM1190.1 210.5a5.3 5.3 0 1 0 10.6 0a5.3 5.3 0 1 0 -10.6 0ZM1190.6 210.6a5.3 5.3 0 1 0 10.6 0a5.3 5.3 0 1 0 -10.6 0ZM1191.1 210.0a5.3 5.3 0 1 0 10.6 0a5.3 5.3 0 1 0 -10.6 0ZM1191.6 209.3a5.3 5.3 0 1 0 10.6 0a5.3 5.3 0 1 0 -10.6 0ZM1192.1 210.5a5.3 5.3 0 1 0 10.6 0a5.3 5.3 0 1 0 -10.6 0ZM1192.6 208.6a5.3 5.3 0 1 0 10.6 0a5.3 5.3 0 1 0 -10.6 0ZM1193.1 208.2a5.3 5.3 0 1 0 10.6 0a5.3 5.3 0 1 0 -10.6 0ZM1193.6 208.0a5.3 5.3 0 1 0 10.6 0a5.3 5.3 0 1 0 -10.6 0ZM1194.1 208.5a5.3 5.3 0 1 0 10.6 0a5.3 5.3 0 1 0 -10.6 0ZM1194.6 207.3a5.3 5.3 0 1 0 10.6 0a5.3 5.3 0 1 0 -10.6 0ZM1195.1 207.8a5.3 5.3 0 1 0 10.6 0a5.3 5.3 0 1 0 -10.6 0ZM1195.6 206.3a5.3 5.3 0 1 0 10.6 0a5.3 5.3 0 1 0 -10.6 0ZM1196.1 206.2a5.3 5.3 0 1 0 10.6 0a5.3 5.3 0 1 0 -10.6 0ZM1196.6 206.1a5.3 5.3 0 1 0 10.6 0a5.3 5.3 0 1 0 -10.6 0ZM1197.1 205.6a5.3 5.3 0 1 0 10.6 0a5.3 5.3 0 1 0 -10.6 0ZM1197.6 205.5a5.3 5.3 0 1 0 10.6 0a5.3 5.3 0 1 0 -10.6 0ZM1198.1 204.9a5.3 5.3 0 1 0 10.6 0a5.3 5.3 0 1 0 -10.6 0ZM1198.6 204.4a5.3 5.3 0 1 0 10.6 0a5.3 5.3 0 1 0 -10.6 0ZM1199.1 203.6a5.3 5.3 0 1 0 10.6 0a5.3 5.3 0 1 0 -10.6 0ZM1199.6 203.8a5.3 5.3 0 1 0 10.6 0a5.3 5.3 0 1 0 -10.6 0ZM1200.1 203.1a5.3 5.3 0 1 0 10.6 0a5.3 5.3 0 1 0 -10.6 0ZM1200.6 202.9a5.3 5.3 0 1 0 10.6 0a5.3 5.3 0 1 0 -10.6 0ZM1201.1 203.1a5.3 5.3 0 1 0 10.6 0a5.3 5.3 0 1 0 -10.6 0ZM1201.6 202.3a5.3 5.3 0 1 0 10.6 0a5.3 5.3 0 1 0 -10.6 0ZM1202.1 201.6a5.3 5.3 0 1 0 10.6 0a5.3 5.3 0 1 0 -10.6 0ZM1202.6 201.9a5.3 5.3 0 1 0 10.6 0a5.3 5.3 0 1 0 -10.6 0ZM1203.1 200.6a5.3 5.3 0 1 0 10.6 0a5.3 5.3 0 1 0 -10.6 0ZM1203.6 199.7a5.3 5.3 0 1 0 10.6 0a5.3 5.3 0 1 0 -10.6 0ZM1204.1 199.7a5.3 5.3 0 1 0 10.6 0a5.3 5.3 0 1 0 -10.6 0ZM1204.6 199.1a5.3 5.3 0 1 0 10.6 0a5.3 5.3 0 1 0 -10.6 0ZM1205.1 199.1a5.3 5.3 0 1 0 10.6 0a5.3 5.3 0 1 0 -10.6 0ZM1205.6 198.8a5.3 5.3 0 1 0 10.6 0a5.3 5.3 0 1 0 -10.6 0ZM1206.1 198.6a5.3 5.3 0 1 0 10.6 0a5.3 5.3 0 1 0 -10.6 0ZM1206.6 198.0a5.3 5.3 0 1 0 10.6 0a5.3 5.3 0 1 0 -10.6 0ZM1207.1 197.7a5.3 5.3 0 1 0 10.6 0a5.3 5.3 0 1 0 -10.6 0ZM1207.6 197.2a5.3 5.3 0 1 0 10.6 0a5.3 5.3 0 1 0 -10.6 0ZM1208.1 196.7a5.3 5.3 0 1 0 10.6 0a5.3 5.3 0 1 0 -10.6 0ZM1208.6 196.0a5.3 5.3 0 1 0 10.6 0a5.3 5.3 0 1 0 -10.6 0ZM1209.1 195.4a5.3 5.3 0 1 0 10.6 0a5.3 5.3 0 1 0 -10.6 0ZM1209.6 195.2a5.3 5.3 0 1 0 10.6 0a5.3 5.3 0 1 0 -10.6 0ZM1210.1 194.7a5.3 5.3 0 1 0 10.6 0a5.3 5.3 0 1 0 -10.6 0ZM1210.6 193.9a5.3 5.3 0 1 0 10.6 0a5.3 5.3 0 1 0 -10.6 0ZM1211.1 193.8a5.3 5.3 0 1 0 10.6 0a5.3 5.3 0 1 0 -10.6 0ZM1211.6 194.2a5.3 5.3 0 1 0 10.6 0a5.3 5.3 0 1 0 -10.6 0ZM1212.1 193.5a5.3 5.3 0 1 0 10.6 0a5.3 5.3 0 1 0 -10.6 0ZM1212.6 192.5a5.3 5.3 0 1 0 10.6 0a5.3 5.3 0 1 0 -10.6 0ZM1213.1 192.6a5.3 5.3 0 1 0 10.6 0a5.3 5.3 0 1 0 -10.6 0ZM1213.6 192.4a5.3 5.3 0 1 0 10.6 0a5.3 5.3 0 1 0 -10.6 0ZM1214.1 191.0a5.3 5.3 0 1 0 10.6 0a5.3 5.3 0 1 0 -10.6 0ZM1214.6 191.9a5.3 5.3 0 1 0 10.6 0a5.3 5.3 0 1 0 -10.6 0ZM1215.1 191.2a5.3 5.3 0 1 0 10.6 0a5.3 5.3 0 1 0 -10.6 0ZM1215.6 189.8a5.3 5.3 0 1 0 10.6 0a5.3 5.3 0 1 0 -10.6 0ZM1216.1 190.0a5.3 5.3 0 1 0 10.6 0a5.3 5.3 0 1 0 -10.6 0ZM1216.6 189.3a5.3 5.3 0 1 0 10.6 0a5.3 5.3 0 1 0 -10.6 0ZM1217.1 189.1a5.3 5.3 0 1 0 10.6 0a5.3 5.3 0 1 0 -10.6 0ZM1217.6 188.0a5.3 5.3 0 1 0 10.6 0a5.3 5.3 0 1 0 -10.6 0ZM1218.1 187.7a5.3 5.3 0 1 0 10.6 0a5.3 5.3 0 1 0 -10.6 0ZM1218.6 187.4a5.3 5.3 0 1 0 10.6 0a5.3 5.3 0 1 0 -10.6 0ZM1219.1 187.1a5.3 5.3 0 1 0 10.6 0a5.3 5.3 0 1 0 -10.6 0ZM1219.6 186.6a5.3 5.3 0 1 0 10.6 0a5.3 5.3 0 1 0 -10.6 0ZM1220.1 185.8a5.3 5.3 0 1 0 10.6 0a5.3 5.3 0 1 0 -10.6 0ZM1220.6 185.7a5.3 5.3 0 1 0 10.6 0a5.3 5.3 0 1 0 -10.6 0ZM1221.1 185.9a5.3 5.3 0 1 0 10.6 0a5.3 5.3 0 1 0 -10.6 0ZM1221.6 185.1a5.3 5.3 0 1 0 10.6 0a5.3 5.3 0 1 0 -10.6 0ZM1222.1 185.4a5.3 5.3 0 1 0 10.6 0a5.3 5.3 0 1 0 -10.6 0ZM1222.6 185.0a5.3 5.3 0 1 0 10.6 0a5.3 5.3 0 1 0 -10.6 0ZM1223.1 183.9a5.3 5.3 0 1 0 10.6 0a5.3 5.3 0 1 0 -10.6 0ZM1223.6 183.8a5.3 5.3 0 1 0 10.6 0a5.3 5.3 0 1 0 -10.6 0ZM1224.1 182.5a5.3 5.3 0 1 0 10.6 0a5.3 5.3 0 1 0 -10.6 0ZM1224.6 183.4a5.3 5.3 0 1 0 10.6 0a5.3 5.3 0 1 0 -10.6 0ZM1225.1 183.1a5.3 5.3 0 1 0 10.6 0a5.3 5.3 0 1 0 -10.6 0ZM1225.6 181.8a5.3 5.3 0 1 0 10.6 0a5.3 5.3 0 1 0 -10.6 0ZM1226.1 181.3a5.3 5.3 0 1 0 10.6 0a5.3 5.3 0 1 0 -10.6 0ZM1226.6 180.9a5.3 5.3 0 1 0 10.6 0a5.3 5.3 0 1 0 -10.6 0ZM1227.1 180.8a5.3 5.3 0 1 0 10.6 0a5.3 5.3 0 1 0 -10.6 0ZM1227.6 180.4a5.3 5.3 0 1 0 10.6 0a5.3 5.3 0 1 0 -10.6 0ZM1228.1 178.8a5.3 5.3 0 1 0 10.6 0a5.3 5.3 0 1 0 -10.6 0ZM1228.6 178.6a5.3 5.3 0 1 0 10.6 0a5.3 5.3 0 1 0 -10.6 0ZM1229.1 178.5a5.3 5.3 0 1 0 10.6 0a5.3 5.3 0 1 0 -10.6 0ZM1229.6 177.9a5.3 5.3 0 1 0 10.6 0a5.3 5.3 0 1 0 -10.6 0ZM1230.1 177.0a5.3 5.3 0 1 0 10.6 0a5.3 5.3 0 1 0 -10.6 0ZM1230.6 176.9a5.3 5.3 0 1 0 10.6 0a5.3 5.3 0 1 0 -10.6 0ZM1231.1 175.8a5.3 5.3 0 1 0 10.6 0a5.3 5.3 0 1 0 -10.6 0ZM1231.6 174.7a5.3 5.3 0 1 0 10.6 0a5.3 5.3 0 1 0 -10.6 0ZM1232.1 175.5a5.3 5.3 0 1 0 10.6 0a5.3 5.3 0 1 0 -10.6 0ZM1232.6 175.2a5.3 5.3 0 1 0 10.6 0a5.3 5.3 0 1 0 -10.6 0ZM1233.1 174.9a5.3 5.3 0 1 0 10.6 0a5.3 5.3 0 1 0 -10.6 0ZM1233.6 174.0a5.3 5.3 0 1 0 10.6 0a5.3 5.3 0 1 0 -10.6 0ZM1234.1 173.5a5.3 5.3 0 1 0 10.6 0a5.3 5.3 0 1 0 -10.6 0ZM1234.6 173.1a5.3 5.3 0 1 0 10.6 0a5.3 5.3 0 1 0 -10.6 0ZM1235.1 172.6a5.3 5.3 0 1 0 10.6 0a5.3 5.3 0 1 0 -10.6 0ZM1235.6 172.1a5.3 5.3 0 1 0 10.6 0a5.3 5.3 0 1 0 -10.6 0ZM1236.1 171.6a5.3 5.3 0 1 0 10.6 0a5.3 5.3 0 1 0 -10.6 0ZM1236.6 171.7a5.3 5.3 0 1 0 10.6 0a5.3 5.3 0 1 0 -10.6 0ZM1237.1 170.7a5.3 5.3 0 1 0 10.6 0a5.3 5.3 0 1 0 -10.6 0ZM1237.6 170.7a5.3 5.3 0 1 0 10.6 0a5.3 5.3 0 1 0 -10.6 0ZM1238.2 169.0a5.3 5.3 0 1 0 10.6 0a5.3 5.3 0 1 0 -10.6 0ZM1238.7 168.4a5.3 5.3 0 1 0 10.6 0a5.3 5.3 0 1 0 -10.6 0ZM1239.2 169.0a5.3 5.3 0 1 0 10.6 0a5.3 5.3 0 1 0 -10.6 0ZM1239.7 167.6a5.3 5.3 0 1 0 10.6 0a5.3 5.3 0 1 0 -10.6 0ZM1240.2 167.3a5.3 5.3 0 1 0 10.6 0a5.3 5.3 0 1 0 -10.6 0ZM1240.7 167.1a5.3 5.3 0 1 0 10.6 0a5.3 5.3 0 1 0 -10.6 0ZM1241.2 166.3a5.3 5.3 0 1 0 10.6 0a5.3 5.3 0 1 0 -10.6 0ZM1241.7 166.9a5.3 5.3 0 1 0 10.6 0a5.3 5.3 0 1 0 -10.6 0ZM1242.2 167.1a5.3 5.3 0 1 0 10.6 0a5.3 5.3 0 1 0 -10.6 0ZM1242.7 166.0a5.3 5.3 0 1 0 10.6 0a5.3 5.3 0 1 0 -10.6 0ZM1243.2 166.0a5.3 5.3 0 1 0 10.6 0a5.3 5.3 0 1 0 -10.6 0ZM1243.7 165.0a5.3 5.3 0 1 0 10.6 0a5.3 5.3 0 1 0 -10.6 0ZM1244.2 164.3a5.3 5.3 0 1 0 10.6 0a5.3 5.3 0 1 0 -10.6 0ZM1244.7 164.7a5.3 5.3 0 1 0 10.6 0a5.3 5.3 0 1 0 -10.6 0ZM1245.2 163.6a5.3 5.3 0 1 0 10.6 0a5.3 5.3 0 1 0 -10.6 0ZM1245.7 162.8a5.3 5.3 0 1 0 10.6 0a5.3 5.3 0 1 0 -10.6 0ZM1246.2 162.5a5.3 5.3 0 1 0 10.6 0a5.3 5.3 0 1 0 -10.6 0ZM1246.7 163.0a5.3 5.3 0 1 0 10.6 0a5.3 5.3 0 1 0 -10.6 0ZM1247.2 162.3a5.3 5.3 0 1 0 10.6 0a5.3 5.3 0 1 0 -10.6 0ZM1247.7 161.5a5.3 5.3 0 1 0 10.6 0a5.3 5.3 0 1 0 -10.6 0ZM1248.2 160.5a5.3 5.3 0 1 0 10.6 0a5.3 5.3 0 1 0 -10.6 0ZM1248.7 160.4a5.3 5.3 0 1 0 10.6 0a5.3 5.3 0 1 0 -10.6 0ZM1249.2 160.8a5.3 5.3 0 1 0 10.6 0a5.3 5.3 0 1 0 -10.6 0ZM1249.7 160.2a5.3 5.3 0 1 0 10.6 0a5.3 5.3 0 1 0 -10.6 0ZM1250.2 159.6a5.3 5.3 0 1 0 10.6 0a5.3 5.3 0 1 0 -10.6 0Z" fill="#ff0000" stroke="#ff0000" stroke-width="1.7"/><path d="M1249.9 158.4a5.3 5.3 0 1 0 10.6 0a5.3 5.3 0 1 0 -10.6 0Z" fill="#fff" stroke="#ff0000" stroke-width="1.9"/><path d="M870.5 506.4L877.9 499.5L888.8 488.6L901.7 475.2L914.1 465.3L925.5 457.3L935.0 448.9L942.4 444.4L950.4 437.5L958.3 431.5L970.6 424.8L982.5 416.6" fill="none" stroke="#ff0000" stroke-width="1.6" stroke-dasharray="10 4"/><path d="M982.0 415.2L985.7 416.2L988.6 414.1L991.1 413.0L994.3 412.4L996.7 410.6L999.7 408.6L1001.7 406.7L1004.1 404.5L1005.8 403.8L1008.3 402.5L1010.5 401.2L1013.1 399.6L1015.0 397.0L1018.2 396.4L1020.5 394.9L1021.8 393.3L1023.9 391.7L1026.8 390.4L1029.2 388.5L1030.7 386.3L1032.5 385.1L1035.2 383.6L1038.1 382.0L1041.5 380.4L1043.6 380.5L1046.6 378.3L1048.8 378.2L1052.3 375.7L1054.5 374.2L1056.6 372.9L1059.5 372.0L1061.4 370.8L1063.8 368.5L1065.7 367.5L1067.6 364.8L1069.1 363.5L1070.5 361.0L1072.3 359.6L1074.3 357.0L1076.0 355.7L1078.4 354.1L1080.0 351.9L1082.4 350.0L1083.7 348.2L1086.5 346.7L1088.8 344.7L1091.6 343.4L1094.1 341.1L1096.1 340.7L1098.1 339.5L1100.5 337.7L1102.3 336.5L1104.7 334.7L1107.1 333.8L1109.0 331.8L1111.3 329.3L1113.1 327.9L1115.1 326.7L1116.9 325.2L1118.5 322.2L1120.6 320.9L1121.7 318.2L1123.7 316.3L1126.1 315.4L1127.6 313.4L1130.7 311.0L1132.4 309.2L1134.5 309.0L1136.4 306.0L1138.2 303.8L1140.2 302.2L1142.5 298.7L1143.5 298.7L1146.4 296.0L1148.0 295.3L1150.2 293.6L1152.1 291.9L1154.2 290.0L1155.9 287.8L1157.8 286.3L1160.1 284.1L1161.9 282.3L1163.9 279.6L1165.0 278.1L1167.4 277.5L1169.5 275.1L1171.6 272.7L1173.0 271.8L1175.0 269.7L1177.1 268.1L1179.3 265.7L1181.1 265.8L1182.9 263.2L1185.2 262.1L1187.2 260.4L1189.2 259.5L1190.6 257.7L1193.4 255.7L1195.0 255.2L1197.2 253.1L1199.6 251.6L1201.1 249.5L1203.4 246.6L1205.7 246.2L1207.5 244.3L1209.8 242.3L1211.4 240.9L1213.6 238.3L1215.9 238.0L1218.4 236.5L1220.3 234.5L1222.4 232.4L1224.5 230.6L1225.8 228.8L1228.0 227.3L1230.0 224.5L1231.5 222.8L1234.0 219.8L1235.9 218.2L1238.7 216.7L1240.8 215.4L1243.3 215.1L1244.9 212.6L1246.5 211.3L1248.6 208.8L1250.8 207.8L1252.3 205.9L1254.5 204.5L1256.8 202.7L1258.7 201.8L1261.4 198.9L1263.9 197.0L1266.1 194.8L1268.4 193.6L1270.8 192.5L1273.5 189.8L1275.9 188.7L1277.8 185.8L1279.4 185.1L1281.2 183.4L1283.6 182.4L1285.6 180.0L1287.5 177.6L1289.7 176.2L1291.9 175.4L1293.8 173.4L1295.7 171.6L1297.7 170.0L1299.9 167.7L1301.9 165.4L1303.9 164.7L1306.0 161.7L1308.2 158.7" fill="none" stroke="#ff0000" stroke-width="2" stroke-linecap="round" stroke-linejoin="round" stroke-dasharray="4.5 4.5 0.5 4.5"/>
</g>
<g stroke="#000" stroke-width="4" fill="none" stroke-linecap="round">
<rect x="814" y="98.9" width="530.7" height="490.5" stroke-linejoin="round"/>
<path d="M814 247.8H823.7M814 416.8H823.7"/>
<path d="M1344.7 117H1334.5M1344.7 350.4H1334.5"/>
<path d="M1071.3 98.9V108.7M1324.5 98.9V108.7"/>
<path d="M1008.8 589.4V579.4M1200 589.4V579.4"/>
</g>
<text transform="translate(83.11,41.23) scale(1.0280,1)" font-size="55.56" font-weight="bold">(a)</text><text transform="translate(750.45,41.38) scale(1.0450,1)" font-size="53.89" font-weight="bold">(b)</text><path d="M195.2 79.8L202.7 73.2L210.2 79.8L202.7 86.4Z" fill="none" stroke="#0000ff" stroke-width="1.4"/><text transform="translate(230.35,92.03) scale(0.9670,1)" font-size="38.53" fill="#0000ff">UA</text><path d="M396.8 81.0a5.4 5.4 0 1 0 10.8 0a5.4 5.4 0 1 0 -10.8 0Z" fill="none" stroke="#ff0000" stroke-width="1.4"/><text transform="translate(426.45,94.21) scale(0.9860,1)" font-size="39.27" fill="#ff0000">CG</text><path d="M902.8 71.7L910.3 65.1L917.8 71.7L910.3 78.3Z" fill="none" stroke="#0000ff" stroke-width="1.4"/><text transform="translate(937.95,83.83) scale(0.9740,1)" font-size="38.68" fill="#0000ff">UA</text><path d="M1103.9 68.5a5.4 5.4 0 1 0 10.8 0a5.4 5.4 0 1 0 -10.8 0Z" fill="none" stroke="#ff0000" stroke-width="1.4"/><text transform="translate(1134.25,82.03) scale(1.0000,1)" font-size="38.53" fill="#ff0000">CG</text><text transform="translate(165.53,203.30) scale(0.9610,1)" font-size="39.85">T = 453 K</text><text transform="translate(873.24,188.90) scale(0.9630,1)" font-size="39.70">T = 553 K</text><text transform="translate(57.23,264.90) scale(0.9650,1)" font-size="38.80">10</text><text transform="translate(93.53,250.80) scale(0.9600,1)" font-size="27.00">4</text><text transform="translate(56.93,434.50) scale(0.9650,1)" font-size="38.80">10</text><text transform="translate(93.23,420.40) scale(0.9600,1)" font-size="27.00">2</text><text transform="translate(56.93,602.90) scale(0.9650,1)" font-size="38.80">10</text><text transform="translate(93.23,588.80) scale(0.9600,1)" font-size="27.00">0</text><text transform="translate(88.93,645.30) scale(0.9650,1)" font-size="38.80">10</text><text transform="translate(125.23,631.20) scale(0.9600,1)" font-size="27.00">−2</text><text transform="translate(287.93,645.30) scale(0.9650,1)" font-size="38.80">10</text><text transform="translate(324.23,631.20) scale(0.9600,1)" font-size="27.00">0</text><text transform="translate(479.33,645.30) scale(0.9650,1)" font-size="38.80">10</text><text transform="translate(515.63,631.20) scale(0.9600,1)" font-size="27.00">2</text><text transform="translate(754.73,259.20) scale(0.9650,1)" font-size="38.80">10</text><text transform="translate(791.03,245.10) scale(0.9600,1)" font-size="27.00">4</text><text transform="translate(754.73,428.30) scale(0.9650,1)" font-size="38.80">10</text><text transform="translate(791.03,414.20) scale(0.9600,1)" font-size="27.00">2</text><text transform="translate(754.43,597.60) scale(0.9650,1)" font-size="38.80">10</text><text transform="translate(790.73,583.50) scale(0.9600,1)" font-size="27.00">0</text><text transform="translate(786.63,635.30) scale(0.9650,1)" font-size="38.80">10</text><text transform="translate(822.93,621.20) scale(0.9600,1)" font-size="27.00">−2</text><text transform="translate(985.93,635.30) scale(0.9650,1)" font-size="38.80">10</text><text transform="translate(1022.23,621.20) scale(0.9600,1)" font-size="27.00">0</text><text transform="translate(1177.03,635.30) scale(0.9650,1)" font-size="38.80">10</text><text transform="translate(1213.33,621.20) scale(0.9600,1)" font-size="27.00">2</text><text transform="translate(339.22,693.51) scale(0.9865,1)" font-size="39.00">t (ns)</text><text transform="translate(1036.92,685.80) scale(0.9606,1)" font-size="40.00">t (ns)</text><text transform="translate(39.70,516.88) rotate(-90) scale(0.9291,1)" font-size="39.8">(R</text><text transform="translate(44.80,479.43) rotate(-90) scale(0.8485,1)" font-size="27.5">cm</text><text transform="translate(39.70,450.52) rotate(-90) scale(0.9521,1)" font-size="39.8">(t)-R</text><text transform="translate(44.80,376.33) rotate(-90) scale(0.8485,1)" font-size="27.5">cm</text><text transform="translate(39.70,346.74) rotate(-90) scale(0.9694,1)" font-size="39.8">(0))</text><text transform="translate(26.10,289.50) rotate(-90) scale(0.9047,1)" font-size="27.5">2</text><text transform="translate(39.70,267.30) rotate(-90) scale(0.9453,1)" font-size="39.8">(Å</text><text transform="translate(26.10,228.30) rotate(-90) scale(1.0022,1)" font-size="27.5">2</text><text transform="translate(39.70,215.88) rotate(-90) scale(0.9857,1)" font-size="39.8">)</text><text transform="translate(735.20,516.88) rotate(-90) scale(0.9291,1)" font-size="39.8">(R</text><text transform="translate(740.30,479.43) rotate(-90) scale(0.8485,1)" font-size="27.5">cm</text><text transform="translate(735.20,450.52) rotate(-90) scale(0.9521,1)" font-size="39.8">(t)-R</text><text transform="translate(740.30,376.33) rotate(-90) scale(0.8485,1)" font-size="27.5">cm</text><text transform="translate(735.20,346.75) rotate(-90) scale(0.9748,1)" font-size="39.8">(0) )</text><text transform="translate(721.60,279.50) rotate(-90) scale(0.9047,1)" font-size="27.5">2</text><text transform="translate(735.20,257.30) rotate(-90) scale(0.9453,1)" font-size="39.8">(Å</text><text transform="translate(721.60,218.30) rotate(-90) scale(1.0022,1)" font-size="27.5">2</text><text transform="translate(735.20,205.88) rotate(-90) scale(0.9857,1)" font-size="39.8">)</text>
</svg></body></html>
